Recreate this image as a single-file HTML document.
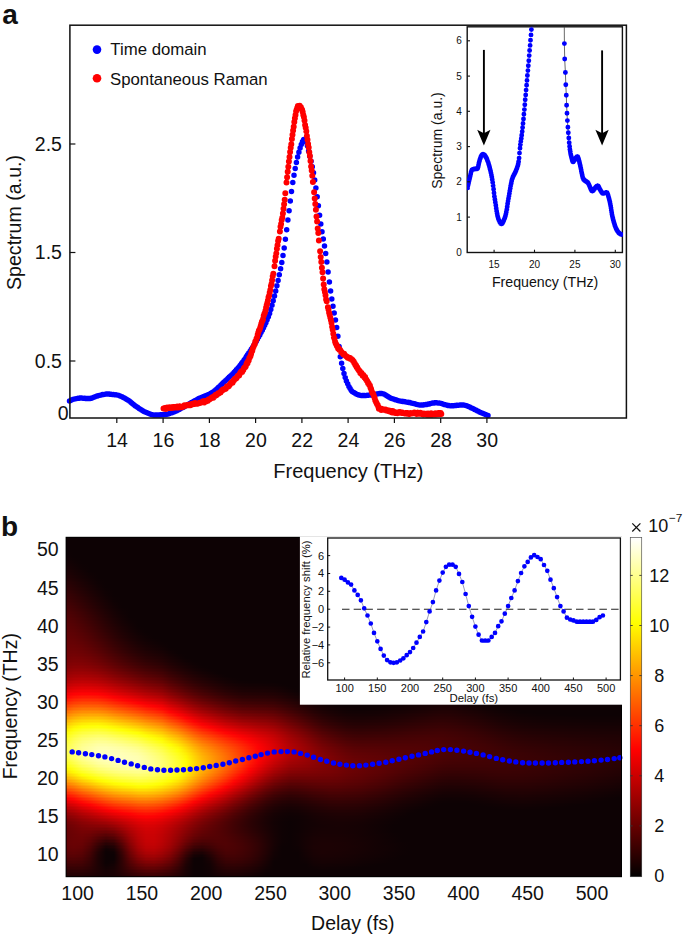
<!DOCTYPE html>
<html><head><meta charset="utf-8"><style>
html,body{margin:0;padding:0;background:#fff;}
#w{position:relative;width:685px;height:935px;overflow:hidden;background:#fff;}
#h{position:absolute;left:66.1px;top:537.3px;width:555.4px;height:339.4px;overflow:hidden;background:#0d0204;}
#h i{position:absolute;left:0;width:100%;display:block;}
#c i{position:absolute;display:block;}
svg{position:absolute;left:0;top:0;}
text{font-family:"Liberation Sans", sans-serif;fill:#111;}
</style></head><body><div id="w">
<div id="h"><i style="top:0px;height:2.1px;background:#0d0204"></i><i style="top:1.5px;height:2.1px;background:#0d0204"></i><i style="top:3px;height:2.1px;background:#0d0204"></i><i style="top:4.5px;height:2.1px;background:#0d0204"></i><i style="top:6px;height:2.1px;background:#0d0204"></i><i style="top:7.5px;height:2.1px;background:#0d0204"></i><i style="top:9px;height:2.1px;background:#0d0204"></i><i style="top:10.5px;height:2.1px;background:#0d0204"></i><i style="top:12px;height:2.1px;background:#0d0204"></i><i style="top:13.5px;height:2.1px;background:#0d0204"></i><i style="top:15px;height:2.1px;background:linear-gradient(90deg,#0e0204 0px,#0d0204 8px,#0d0204 555.4px)"></i><i style="top:16.5px;height:2.1px;background:linear-gradient(90deg,#0e0204 0px,#0d0204 8px,#0d0204 555.4px)"></i><i style="top:18px;height:2.1px;background:linear-gradient(90deg,#0f0204 0px,#0d0204 8px,#0d0204 555.4px)"></i><i style="top:19.5px;height:2.1px;background:linear-gradient(90deg,#110204 0px,#0d0204 8px,#0d0204 555.4px)"></i><i style="top:21px;height:2.1px;background:linear-gradient(90deg,#120204 0px,#0e0204 8px,#0d0204 16px,#0d0204 555.4px)"></i><i style="top:22.5px;height:2.1px;background:linear-gradient(90deg,#130204 0px,#0f0204 8px,#0d0204 16px,#0d0204 555.4px)"></i><i style="top:24px;height:2.1px;background:linear-gradient(90deg,#140204 0px,#100204 8px,#0d0204 16px,#0d0204 555.4px)"></i><i style="top:25.5px;height:2.1px;background:linear-gradient(90deg,#150204 0px,#110204 8px,#0d0204 16px,#0d0204 555.4px)"></i><i style="top:27px;height:2.1px;background:linear-gradient(90deg,#160204 0px,#120204 8px,#0e0204 16px,#0d0204 24px,#0d0204 555.4px)"></i><i style="top:28.5px;height:2.1px;background:linear-gradient(90deg,#180204 0px,#130204 8px,#0e0204 16px,#0d0204 24px,#0d0204 555.4px)"></i><i style="top:30px;height:2.1px;background:linear-gradient(90deg,#190204 0px,#140204 8px,#0f0204 16px,#0d0204 24px,#0d0204 555.4px)"></i><i style="top:31.5px;height:2.1px;background:linear-gradient(90deg,#1b0204 0px,#150204 8px,#100204 16px,#0d0204 24px,#0d0204 555.4px)"></i><i style="top:33px;height:2.1px;background:linear-gradient(90deg,#1c0204 0px,#170204 8px,#120204 16px,#0d0204 24px,#0d0204 555.4px)"></i><i style="top:34.5px;height:2.1px;background:linear-gradient(90deg,#1e0204 0px,#180204 8px,#130204 16px,#0e0204 24px,#0d0204 32px,#0d0204 555.4px)"></i><i style="top:36px;height:2.1px;background:linear-gradient(90deg,#1f0204 0px,#190204 8px,#140204 16px,#0f0204 24px,#0d0204 32px,#0d0204 555.4px)"></i><i style="top:37.5px;height:2.1px;background:linear-gradient(90deg,#210204 0px,#1b0204 8px,#150204 16px,#100204 24px,#0d0204 32px,#0d0204 555.4px)"></i><i style="top:39px;height:2.1px;background:linear-gradient(90deg,#220204 0px,#1c0204 8px,#160204 16px,#110204 24px,#0d0204 32px,#0d0204 555.4px)"></i><i style="top:40.5px;height:2.1px;background:linear-gradient(90deg,#240204 0px,#1e0204 8px,#170204 16px,#120204 24px,#0d0204 32px,#0d0204 555.4px)"></i><i style="top:42px;height:2.1px;background:linear-gradient(90deg,#260204 0px,#1f0204 8px,#190204 16px,#130204 24px,#0e0204 32px,#0d0204 40px,#0d0204 555.4px)"></i><i style="top:43.5px;height:2.1px;background:linear-gradient(90deg,#280204 0px,#210204 8px,#1a0204 16px,#140204 24px,#0f0204 32px,#0d0204 40px,#0d0204 555.4px)"></i><i style="top:45px;height:2.1px;background:linear-gradient(90deg,#290204 0px,#230204 8px,#1c0204 16px,#150204 24px,#0f0204 32px,#0d0204 40px,#0d0204 555.4px)"></i><i style="top:46.5px;height:2.1px;background:linear-gradient(90deg,#2b0204 0px,#240204 8px,#1d0204 16px,#160204 24px,#100204 32px,#0d0204 40px,#0d0204 555.4px)"></i><i style="top:48px;height:2.1px;background:linear-gradient(90deg,#2d0204 0px,#260204 8px,#1e0204 16px,#180204 24px,#110204 32px,#0d0204 40px,#0d0204 555.4px)"></i><i style="top:49.5px;height:2.1px;background:linear-gradient(90deg,#2f0204 0px,#280204 8px,#200204 16px,#190204 24px,#120204 32px,#0d0204 40px,#0d0204 555.4px)"></i><i style="top:51px;height:2.1px;background:linear-gradient(90deg,#310204 0px,#290204 8px,#220204 16px,#1a0204 24px,#130204 32px,#0e0204 40px,#0d0204 48px,#0d0204 555.4px)"></i><i style="top:52.5px;height:2.1px;background:linear-gradient(90deg,#330204 0px,#2b0204 8px,#230204 16px,#1b0204 24px,#150204 32px,#0f0204 40px,#0d0204 48px,#0d0204 555.4px)"></i><i style="top:54px;height:2.1px;background:linear-gradient(90deg,#350204 0px,#2d0204 8px,#250204 16px,#1d0204 24px,#160204 32px,#100204 40px,#0d0204 48px,#0d0204 555.4px)"></i><i style="top:55.5px;height:2.1px;background:linear-gradient(90deg,#370204 0px,#2f0204 8px,#260204 16px,#1e0204 24px,#170204 32px,#100204 40px,#0d0204 48px,#0d0204 555.4px)"></i><i style="top:57px;height:2.1px;background:linear-gradient(90deg,#390204 0px,#310204 8px,#280204 16px,#200204 24px,#180204 32px,#110204 40px,#0d0204 48px,#0d0204 555.4px)"></i><i style="top:58.5px;height:2.1px;background:linear-gradient(90deg,#3a0204 0px,#330204 8px,#2a0204 16px,#210204 24px,#190204 32px,#120204 40px,#0d0204 48px,#0d0204 555.4px)"></i><i style="top:60px;height:2.1px;background:linear-gradient(90deg,#3c0204 0px,#340204 8px,#2c0204 16px,#230204 24px,#1b0204 32px,#130204 40px,#0e0204 48px,#0d0204 56px,#0d0204 555.4px)"></i><i style="top:61.5px;height:2.1px;background:linear-gradient(90deg,#3e0204 0px,#360204 8px,#2d0204 16px,#240204 24px,#1c0204 32px,#140204 40px,#0e0204 48px,#0d0204 56px,#0d0204 555.4px)"></i><i style="top:63px;height:2.1px;background:linear-gradient(90deg,#400204 0px,#380204 8px,#2f0204 16px,#260204 24px,#1d0204 32px,#160204 40px,#0f0204 48px,#0d0204 56px,#0d0204 555.4px)"></i><i style="top:64.5px;height:2.1px;background:linear-gradient(90deg,#420204 0px,#3a0204 8px,#310204 16px,#270204 24px,#1f0204 32px,#170204 40px,#100204 48px,#0d0204 56px,#0d0204 555.4px)"></i><i style="top:66px;height:2.1px;background:linear-gradient(90deg,#440204 0px,#3c0204 8px,#330204 16px,#290204 24px,#200204 32px,#180204 40px,#110204 48px,#0d0204 56px,#0d0204 555.4px)"></i><i style="top:67.5px;height:2.1px;background:linear-gradient(90deg,#460204 0px,#3e0204 8px,#340204 16px,#2b0204 24px,#210204 32px,#190204 40px,#120204 48px,#0d0204 56px,#0d0204 555.4px)"></i><i style="top:69px;height:2.1px;background:linear-gradient(90deg,#480204 0px,#400204 8px,#360204 16px,#2c0204 24px,#230204 32px,#1a0204 40px,#130204 48px,#0d0204 56px,#0d0204 555.4px)"></i><i style="top:70.5px;height:2.1px;background:linear-gradient(90deg,#490204 0px,#420204 8px,#380204 16px,#2e0204 24px,#240204 32px,#1b0204 40px,#140204 48px,#0e0204 56px,#0d0204 64px,#0d0204 555.4px)"></i><i style="top:72px;height:2.1px;background:linear-gradient(90deg,#4b0204 0px,#430204 8px,#3a0204 16px,#300204 24px,#260204 32px,#1d0204 40px,#150204 48px,#0f0204 56px,#0d0204 64px,#0d0204 555.4px)"></i><i style="top:73.5px;height:2.1px;background:linear-gradient(90deg,#4d0204 0px,#450204 8px,#3c0204 16px,#310204 24px,#270204 32px,#1e0204 40px,#160204 48px,#100204 56px,#0d0204 64px,#0d0204 555.4px)"></i><i style="top:75px;height:2.1px;background:linear-gradient(90deg,#4e0204 0px,#470204 8px,#3e0204 16px,#330204 24px,#290204 32px,#1f0204 40px,#170204 48px,#100204 56px,#0d0204 64px,#0d0204 555.4px)"></i><i style="top:76.5px;height:2.1px;background:linear-gradient(90deg,#500204 0px,#490204 8px,#3f0204 16px,#350204 24px,#2a0204 32px,#210204 40px,#180204 48px,#110204 56px,#0d0204 64px,#0d0204 555.4px)"></i><i style="top:78px;height:2.1px;background:linear-gradient(90deg,#520204 0px,#4a0204 8px,#410204 16px,#370204 24px,#2c0204 32px,#220204 40px,#190204 48px,#120204 56px,#0d0204 64px,#0d0204 555.4px)"></i><i style="top:79.5px;height:2.1px;background:linear-gradient(90deg,#530204 0px,#4c0204 8px,#430204 16px,#380204 24px,#2e0204 32px,#230204 40px,#1a0204 48px,#130204 56px,#0d0204 64px,#0d0204 555.4px)"></i><i style="top:81px;height:2.1px;background:linear-gradient(90deg,#550204 0px,#4e0204 8px,#450204 16px,#3a0204 24px,#2f0204 32px,#250204 40px,#1c0204 48px,#140204 56px,#0e0204 64px,#0d0204 72px,#0d0204 555.4px)"></i><i style="top:82.5px;height:2.1px;background:linear-gradient(90deg,#560204 0px,#500204 8px,#460204 16px,#3c0204 24px,#310204 32px,#260204 40px,#1d0204 48px,#150204 56px,#0f0204 64px,#0d0204 72px,#0d0204 555.4px)"></i><i style="top:84px;height:2.1px;background:linear-gradient(90deg,#570204 0px,#510204 8px,#480204 16px,#3e0204 24px,#330204 32px,#280204 40px,#1e0204 48px,#160204 56px,#100204 64px,#0d0204 72px,#0d0204 555.4px)"></i><i style="top:85.5px;height:2.1px;background:linear-gradient(90deg,#590204 0px,#530204 8px,#4a0204 16px,#3f0204 24px,#340204 32px,#290204 40px,#1f0204 48px,#170204 56px,#110204 64px,#0d0204 72px,#0d0204 555.4px)"></i><i style="top:87px;height:2.1px;background:linear-gradient(90deg,#5a0204 0px,#540204 8px,#4c0204 16px,#410204 24px,#360204 32px,#2b0204 40px,#210204 48px,#180204 56px,#120204 64px,#0d0204 72px,#0d0204 555.4px)"></i><i style="top:88.5px;height:2.1px;background:linear-gradient(90deg,#5b0204 0px,#560204 8px,#4d0204 16px,#430204 24px,#380204 32px,#2c0204 40px,#220204 48px,#1a0204 56px,#130204 64px,#0d0204 72px,#0d0204 555.4px)"></i><i style="top:90px;height:2.1px;background:linear-gradient(90deg,#5c0204 0px,#570204 8px,#4f0204 16px,#450204 24px,#390204 32px,#2e0204 40px,#240204 48px,#1b0204 56px,#140204 64px,#0e0204 72px,#0d0204 80px,#0d0204 555.4px)"></i><i style="top:91.5px;height:2.1px;background:linear-gradient(90deg,#5d0204 0px,#590204 8px,#510204 16px,#460204 24px,#3b0204 32px,#300204 40px,#250204 48px,#1c0204 56px,#150204 64px,#0f0204 72px,#0d0204 80px,#0d0204 555.4px)"></i><i style="top:93px;height:2.1px;background:linear-gradient(90deg,#5e0204 0px,#5a0204 8px,#520204 16px,#480204 24px,#3d0204 32px,#310204 40px,#270204 48px,#1d0204 56px,#160204 64px,#100204 72px,#0d0204 80px,#0d0204 555.4px)"></i><i style="top:94.5px;height:2.1px;background:linear-gradient(90deg,#600204 0px,#5c0204 8px,#540204 16px,#4a0204 24px,#3f0204 32px,#330204 40px,#280204 48px,#1f0204 56px,#170204 64px,#110204 72px,#0d0204 80px,#0d0204 555.4px)"></i><i style="top:96px;height:2.1px;background:linear-gradient(90deg,#610204 0px,#5d0204 8px,#560204 16px,#4c0204 24px,#410204 32px,#350204 40px,#2a0204 48px,#200204 56px,#190204 64px,#120204 72px,#0e0204 80px,#0d0204 88px,#0d0204 555.4px)"></i><i style="top:97.5px;height:2.1px;background:linear-gradient(90deg,#620204 0px,#5e0204 8px,#570204 16px,#4e0204 24px,#420204 32px,#370204 40px,#2c0204 48px,#220204 56px,#1a0204 64px,#140204 72px,#0f0204 80px,#0d0204 88px,#0d0204 555.4px)"></i><i style="top:99px;height:2.1px;background:linear-gradient(90deg,#630204 0px,#600204 8px,#590204 16px,#500204 24px,#440204 32px,#390204 40px,#2d0204 48px,#230204 56px,#1b0204 64px,#150204 72px,#100204 80px,#0d0204 88px,#0d0204 555.4px)"></i><i style="top:100.5px;height:2.1px;background:linear-gradient(90deg,#640204 0px,#610204 8px,#5b0204 16px,#510204 24px,#460204 32px,#3b0204 40px,#2f0204 48px,#250204 56px,#1d0204 64px,#160204 72px,#110204 80px,#0d0204 88px,#0d0204 555.4px)"></i><i style="top:102px;height:2.1px;background:linear-gradient(90deg,#650204 0px,#630204 8px,#5c0204 16px,#530204 24px,#480204 32px,#3d0204 40px,#310204 48px,#270204 56px,#1e0204 64px,#170204 72px,#120204 80px,#0f0204 88px,#0d0204 96px,#0d0204 555.4px)"></i><i style="top:103.5px;height:2.1px;background:linear-gradient(90deg,#660204 0px,#640204 8px,#5e0204 16px,#550204 24px,#4a0204 32px,#3f0204 40px,#330204 48px,#290204 56px,#200204 64px,#190204 72px,#130204 80px,#100204 88px,#0d0204 96px,#0d0204 555.4px)"></i><i style="top:105px;height:2.1px;background:linear-gradient(90deg,#670204 0px,#650204 8px,#600204 16px,#570204 24px,#4d0204 32px,#410204 40px,#350204 48px,#2b0204 56px,#220204 64px,#1a0204 72px,#150204 80px,#110204 88px,#0e0204 96px,#0d0204 104px,#0d0204 555.4px)"></i><i style="top:106.5px;height:2.1px;background:linear-gradient(90deg,#680204 0px,#670204 8px,#620204 16px,#590204 24px,#4f0204 32px,#430204 40px,#370204 48px,#2d0204 56px,#240204 64px,#1c0204 72px,#160204 80px,#120204 88px,#0f0204 96px,#0d0204 104px,#0d0204 555.4px)"></i><i style="top:108px;height:2.1px;background:linear-gradient(90deg,#690204 0px,#690204 8px,#640204 16px,#5b0204 24px,#510204 32px,#450204 40px,#390204 48px,#2f0204 56px,#260204 64px,#1e0204 72px,#180204 80px,#140204 88px,#100204 96px,#0d0204 104px,#0d0204 555.4px)"></i><i style="top:109.5px;height:2.1px;background:linear-gradient(90deg,#6a0204 0px,#6a0204 8px,#660204 16px,#5e0204 24px,#530204 32px,#480204 40px,#3c0204 48px,#310204 56px,#280204 64px,#200204 72px,#1a0204 80px,#150204 88px,#120204 96px,#0d0204 104px,#0d0204 555.4px)"></i><i style="top:111px;height:2.1px;background:linear-gradient(90deg,#6b0204 0px,#6c0204 8px,#680204 16px,#600204 24px,#560204 32px,#4a0204 40px,#3e0204 48px,#330204 56px,#2a0204 64px,#220204 72px,#1b0204 80px,#170204 88px,#130204 96px,#0e0204 104px,#0d0204 112px,#0d0204 555.4px)"></i><i style="top:112.5px;height:2.1px;background:linear-gradient(90deg,#6c0204 0px,#6d0204 8px,#6a0204 16px,#620204 24px,#580204 32px,#4d0204 40px,#400204 48px,#360204 56px,#2c0204 64px,#240204 72px,#1d0204 80px,#190204 88px,#150204 96px,#0f0204 104px,#0d0204 112px,#0d0204 555.4px)"></i><i style="top:114px;height:2.1px;background:linear-gradient(90deg,#6e0204 0px,#6f0204 8px,#6c0204 16px,#650204 24px,#5b0204 32px,#4f0204 40px,#430204 48px,#380204 56px,#2e0204 64px,#260204 72px,#200204 80px,#1b0204 88px,#170204 96px,#110204 104px,#0d0204 112px,#0d0204 555.4px)"></i><i style="top:115.5px;height:2.1px;background:linear-gradient(90deg,#6f0204 0px,#710204 8px,#6e0204 16px,#670204 24px,#5e0204 32px,#520204 40px,#460204 48px,#3b0204 56px,#310204 64px,#290204 72px,#220204 80px,#1d0204 88px,#190204 96px,#120204 104px,#0d0204 112px,#0d0204 555.4px)"></i><i style="top:117px;height:2.1px;background:linear-gradient(90deg,#710204 0px,#730204 8px,#700204 16px,#6a0204 24px,#610204 32px,#550204 40px,#490204 48px,#3e0204 56px,#340204 64px,#2b0204 72px,#240204 80px,#1f0204 88px,#1b0204 96px,#140204 104px,#0f0204 112px,#0d0204 120px,#0d0204 555.4px)"></i><i style="top:118.5px;height:2.1px;background:linear-gradient(90deg,#720204 0px,#750204 8px,#730204 16px,#6d0204 24px,#640204 32px,#580204 40px,#4c0204 48px,#410204 56px,#370204 64px,#2e0204 72px,#270204 80px,#220204 88px,#1d0204 96px,#160204 104px,#100204 112px,#0d0204 120px,#0d0204 555.4px)"></i><i style="top:120px;height:2.1px;background:linear-gradient(90deg,#740204 0px,#780204 8px,#760204 16px,#700204 24px,#670204 32px,#5b0204 40px,#4f0204 48px,#440204 56px,#3a0204 64px,#310204 72px,#290204 80px,#240204 88px,#1f0204 96px,#180204 104px,#120204 112px,#0d0204 120px,#0d0204 555.4px)"></i><i style="top:121.5px;height:2.1px;background:linear-gradient(90deg,#760204 0px,#7a0204 8px,#790204 16px,#730204 24px,#6a0204 32px,#5f0204 40px,#520204 48px,#470204 56px,#3d0204 64px,#340204 72px,#2c0204 80px,#270204 88px,#220204 96px,#1a0204 104px,#140204 112px,#0f0204 120px,#0d0204 128px,#0d0204 555.4px)"></i><i style="top:123px;height:2.1px;background:linear-gradient(90deg,#790204 0px,#7d0204 8px,#7c0204 16px,#760204 24px,#6e0204 32px,#620204 40px,#560204 48px,#4b0204 56px,#400204 64px,#370204 72px,#2f0204 80px,#2a0204 88px,#240204 96px,#1c0204 104px,#160204 112px,#100204 120px,#0d0204 128px,#0d0204 555.4px)"></i><i style="top:124.5px;height:2.1px;background:linear-gradient(90deg,#7b0204 0px,#800204 8px,#7f0204 16px,#7a0204 24px,#710204 32px,#660204 40px,#5a0204 48px,#4e0204 56px,#440204 64px,#3b0204 72px,#330204 80px,#2d0204 88px,#270204 96px,#1e0204 104px,#180204 112px,#120204 120px,#0e0204 128px,#0d0204 136px,#0d0204 555.4px)"></i><i style="top:126px;height:2.1px;background:linear-gradient(90deg,#7e0204 0px,#830204 8px,#820204 16px,#7d0204 24px,#750204 32px,#6a0204 40px,#5e0204 48px,#520204 56px,#480204 64px,#3e0204 72px,#360204 80px,#300204 88px,#2a0204 96px,#210204 104px,#1a0204 112px,#140204 120px,#0f0204 128px,#0d0204 136px,#0d0204 555.4px)"></i><i style="top:127.5px;height:2.1px;background:linear-gradient(90deg,#810204 0px,#860204 8px,#860204 16px,#810204 24px,#7a0204 32px,#6e0204 40px,#620204 48px,#560204 56px,#4c0204 64px,#420204 72px,#3a0204 80px,#340204 88px,#2e0204 96px,#240204 104px,#1c0204 112px,#160204 120px,#110204 128px,#0d0204 136px,#0d0204 555.4px)"></i><i style="top:129px;height:2.1px;background:linear-gradient(90deg,#840204 0px,#8a0204 8px,#8a0204 16px,#850204 24px,#7e0204 32px,#730204 40px,#660204 48px,#5b0204 56px,#500204 64px,#460204 72px,#3e0204 80px,#380204 88px,#310204 96px,#270204 104px,#1f0204 112px,#180204 120px,#120204 128px,#0e0204 136px,#0d0204 144px,#0d0204 555.4px)"></i><i style="top:130.5px;height:2.1px;background:linear-gradient(90deg,#870204 0px,#8e0204 8px,#8e0204 16px,#8a0204 24px,#820204 32px,#770204 40px,#6b0204 48px,#5f0204 56px,#550204 64px,#4b0204 72px,#420204 80px,#3b0204 88px,#350204 96px,#2a0204 104px,#220204 112px,#1a0204 120px,#140204 128px,#100204 136px,#0d0204 144px,#0d0204 555.4px)"></i><i style="top:132px;height:2.1px;background:linear-gradient(90deg,#8b0204 0px,#920204 8px,#920204 16px,#8e0204 24px,#870204 32px,#7c0204 40px,#700204 48px,#640204 56px,#590204 64px,#4f0204 72px,#460204 80px,#400204 88px,#390204 96px,#2d0204 104px,#240204 112px,#1d0204 120px,#160204 128px,#110204 136px,#0e0204 144px,#0d0204 152px,#0d0204 555.4px)"></i><i style="top:133.5px;height:2.1px;background:linear-gradient(90deg,#8e0204 0px,#960204 8px,#970204 16px,#930204 24px,#8c0204 32px,#820204 40px,#750204 48px,#690204 56px,#5e0204 64px,#540204 72px,#4b0204 80px,#440204 88px,#3d0204 96px,#310204 104px,#280204 112px,#1f0204 120px,#190204 128px,#130204 136px,#0f0204 144px,#0d0204 152px,#0d0204 555.4px)"></i><i style="top:135px;height:2.1px;background:linear-gradient(90deg,#930204 0px,#9b0204 8px,#9c0204 16px,#990204 24px,#920204 32px,#870204 40px,#7a0204 48px,#6f0204 56px,#640204 64px,#590204 72px,#500204 80px,#490204 88px,#420204 96px,#350204 104px,#2b0204 112px,#220204 120px,#1b0204 128px,#150204 136px,#110204 144px,#0d0204 152px,#0d0204 555.4px)"></i><i style="top:136.5px;height:2.1px;background:linear-gradient(90deg,#970204 0px,#a00204 8px,#a10204 16px,#9e0204 24px,#980204 32px,#8d0204 40px,#800204 48px,#740204 56px,#690204 64px,#5f0204 72px,#550204 80px,#4e0204 88px,#460204 96px,#390204 104px,#2f0204 112px,#250204 120px,#1e0204 128px,#180204 136px,#130204 144px,#0f0204 152px,#0d0204 160px,#0d0204 555.4px)"></i><i style="top:138px;height:2.1px;background:linear-gradient(90deg,#9c0204 0px,#a50204 8px,#a70204 16px,#a40204 24px,#9e0204 32px,#930204 40px,#860204 48px,#7a0204 56px,#6f0204 64px,#640204 72px,#5a0204 80px,#530204 88px,#4b0204 96px,#3d0204 104px,#330204 112px,#290204 120px,#210204 128px,#1a0204 136px,#150204 144px,#110204 152px,#0d0204 160px,#0d0204 555.4px)"></i><i style="top:139.5px;height:2.1px;background:linear-gradient(90deg,#a10204 0px,#aa0204 8px,#ad0204 16px,#aa0204 24px,#a40204 32px,#990204 40px,#8c0204 48px,#800204 56px,#750204 64px,#6a0204 72px,#600204 80px,#590204 88px,#510204 96px,#420204 104px,#370204 112px,#2c0204 120px,#240204 128px,#1d0204 136px,#170204 144px,#130204 152px,#0f0204 160px,#0d0204 168px,#0d0204 555.4px)"></i><i style="top:141px;height:2.1px;background:linear-gradient(90deg,#a60204 0px,#b00204 8px,#b30204 16px,#b00204 24px,#ab0204 32px,#a00204 40px,#930204 48px,#870204 56px,#7c0204 64px,#700204 72px,#660204 80px,#5f0204 88px,#560204 96px,#470204 104px,#3b0204 112px,#300204 120px,#270204 128px,#200204 136px,#1a0204 144px,#150204 152px,#110204 160px,#0e0204 168px,#0d0204 176px,#0d0204 555.4px)"></i><i style="top:142.5px;height:2.1px;background:linear-gradient(90deg,#ac0204 0px,#b70204 8px,#b90204 16px,#b70204 24px,#b10204 32px,#a70204 40px,#9a0204 48px,#8e0204 56px,#820204 64px,#770204 72px,#6c0204 80px,#650204 88px,#5c0204 96px,#4c0204 104px,#400204 112px,#340204 120px,#2a0204 128px,#230204 136px,#1d0204 144px,#170204 152px,#130204 160px,#100204 168px,#0d0204 176px,#0d0204 555.4px)"></i><i style="top:144px;height:2.1px;background:linear-gradient(90deg,#b20204 0px,#bd0204 8px,#c00204 16px,#be0204 24px,#b90204 32px,#ae0204 40px,#a10204 48px,#950204 56px,#8a0204 64px,#7e0204 72px,#730204 80px,#6b0204 88px,#620204 96px,#520204 104px,#450204 112px,#390204 120px,#2e0204 128px,#260204 136px,#200204 144px,#1a0204 152px,#150204 160px,#110204 168px,#0f0204 176px,#0e0204 184px,#0e0204 200px,#0d0204 208px,#0d0204 555.4px)"></i><i style="top:145.5px;height:2.1px;background:linear-gradient(90deg,#b90204 0px,#c40204 8px,#c80204 16px,#c60204 24px,#c00204 32px,#b60204 40px,#a90204 48px,#9d0204 56px,#910204 64px,#850204 72px,#7a0204 80px,#720204 88px,#690204 96px,#580204 104px,#4a0204 112px,#3d0204 120px,#320204 128px,#2a0204 136px,#230204 144px,#1d0204 152px,#170204 160px,#140204 168px,#110204 176px,#100204 184px,#100204 192px,#0f0204 200px,#0f0204 208px,#0d0204 216px,#0d0204 555.4px)"></i><i style="top:147px;height:2.1px;background:linear-gradient(90deg,#c00204 0px,#cb0204 8px,#cf0204 16px,#cd0204 24px,#c80204 32px,#be0204 40px,#b10204 48px,#a40204 56px,#990204 64px,#8d0204 72px,#810204 80px,#790204 88px,#700204 96px,#5e0204 104px,#500204 112px,#420204 120px,#370204 128px,#2d0204 136px,#260204 144px,#200204 152px,#1a0204 160px,#160204 168px,#130204 176px,#120204 184px,#120204 192px,#110204 200px,#100204 208px,#0e0204 216px,#0d0204 224px,#0d0204 555.4px)"></i><i style="top:148.5px;height:2.1px;background:linear-gradient(90deg,#c70204 0px,#d30204 8px,#d70204 16px,#d60204 24px,#d10204 32px,#c60204 40px,#b90204 48px,#ad0204 56px,#a10204 64px,#950204 72px,#890204 80px,#800204 88px,#770204 96px,#640204 104px,#560204 112px,#480204 120px,#3b0204 128px,#310204 136px,#2a0204 144px,#230204 152px,#1d0204 160px,#190204 168px,#150204 176px,#140204 184px,#140204 200px,#120204 208px,#100204 216px,#0d0204 224px,#0d0204 555.4px)"></i><i style="top:150px;height:2.1px;background:linear-gradient(90deg,#ce0204 0px,#db0204 8px,#df0204 16px,#de0204 24px,#d90204 32px,#cf0204 40px,#c20204 48px,#b50204 56px,#a90204 64px,#9d0204 72px,#910204 80px,#880204 88px,#7e0204 96px,#6b0204 104px,#5c0204 112px,#4d0204 120px,#400204 128px,#360204 136px,#2e0204 144px,#260204 152px,#200204 160px,#1b0204 168px,#180204 176px,#170204 184px,#160204 192px,#160204 200px,#150204 208px,#120204 216px,#0e0204 224px,#0d0204 232px,#0d0204 555.4px)"></i><i style="top:151.5px;height:2.1px;background:linear-gradient(90deg,#d60204 0px,#e30204 8px,#e80204 16px,#e70204 24px,#e20204 32px,#d80204 40px,#ca0204 48px,#be0204 56px,#b20204 64px,#a50204 72px,#990204 80px,#900204 88px,#860204 96px,#720204 104px,#630204 112px,#530204 120px,#460204 128px,#3b0204 136px,#320204 144px,#2a0204 152px,#230204 160px,#1e0204 168px,#1a0204 176px,#1a0204 184px,#190204 192px,#190204 200px,#170204 208px,#140204 216px,#100204 224px,#0d0204 232px,#0d0204 555.4px)"></i><i style="top:153px;height:2.1px;background:linear-gradient(90deg,#de0204 0px,#ec0204 8px,#f10204 16px,#f00204 24px,#ec0204 32px,#e10204 40px,#d40204 48px,#c70204 56px,#bb0204 64px,#ae0204 72px,#a20204 80px,#980204 88px,#8e0204 96px,#7a0204 104px,#690204 112px,#590204 120px,#4b0204 128px,#400204 136px,#370204 144px,#2e0204 152px,#270204 160px,#220204 168px,#1d0204 176px,#1c0204 184px,#1c0204 192px,#1b0204 200px,#1a0204 208px,#160204 216px,#120204 224px,#0e0204 232px,#0d0204 240px,#0d0204 555.4px)"></i><i style="top:154.5px;height:2.1px;background:linear-gradient(90deg,#e70204 0px,#f50204 8px,#fa0204 16px,#fa0204 24px,#f50204 32px,#eb0204 40px,#dd0204 48px,#d10204 56px,#c40204 64px,#b70204 72px,#ab0204 80px,#a10204 88px,#960204 96px,#820204 104px,#710204 112px,#600204 120px,#510204 128px,#450204 136px,#3b0204 144px,#330204 152px,#2b0204 160px,#250204 168px,#210204 176px,#200204 184px,#1f0204 192px,#1e0204 200px,#1d0204 208px,#190204 216px,#140204 224px,#100204 232px,#0d0204 240px,#0d0204 555.4px)"></i><i style="top:156px;height:2.1px;background:linear-gradient(90deg,#f00204 0px,#fe0204 8px,#ff0504 16px,#ff0404 24px,#ff0204 32px,#f50204 40px,#e70204 48px,#da0204 56px,#ce0204 64px,#c10204 72px,#b40204 80px,#aa0204 88px,#9f0204 96px,#8a0204 104px,#780204 112px,#670204 120px,#570204 128px,#4a0204 136px,#410204 144px,#370204 152px,#2f0204 160px,#290204 168px,#240204 176px,#230204 184px,#220204 192px,#220204 200px,#200204 208px,#1c0204 216px,#170204 224px,#120204 232px,#0e0204 240px,#0d0204 248px,#0d0204 555.4px)"></i><i style="top:157.5px;height:2.1px;background:linear-gradient(90deg,#f90204 0px,#ff0904 8px,#ff0f04 16px,#ff0f04 24px,#ff0b04 32px,#ff0204 40px,#f20204 48px,#e50204 56px,#d80204 64px,#cb0204 72px,#bd0204 80px,#b30204 88px,#a80204 96px,#920204 104px,#800204 112px,#6e0204 120px,#5e0204 128px,#500204 136px,#460204 144px,#3c0204 152px,#340204 160px,#2e0204 168px,#280204 176px,#270204 184px,#260204 192px,#250204 200px,#230204 208px,#1f0204 216px,#190204 224px,#140204 232px,#100204 240px,#0d0204 248px,#0d0204 368px,#0e0204 376px,#0e0204 384px,#0d0204 392px,#0d0204 555.4px)"></i><i style="top:159px;height:2.1px;background:linear-gradient(90deg,#ff0304 0px,#ff1304 8px,#ff1904 16px,#ff1904 24px,#ff1504 32px,#ff0b04 40px,#fc0204 48px,#ef0204 56px,#e30204 64px,#d50204 72px,#c70204 80px,#bd0204 88px,#b10204 96px,#9b0204 104px,#880204 112px,#750204 120px,#650204 128px,#570204 136px,#4c0204 144px,#420204 152px,#390204 160px,#320204 168px,#2c0204 176px,#2b0204 184px,#2a0204 192px,#290204 200px,#270204 208px,#220204 216px,#1c0204 224px,#170204 232px,#120204 240px,#0e0204 248px,#0d0204 256px,#0d0204 360px,#0f0204 368px,#100204 376px,#100204 384px,#0f0204 392px,#0d0204 400px,#0d0204 555.4px)"></i><i style="top:160.5px;height:2.1px;background:linear-gradient(90deg,#ff0d04 0px,#ff1d04 8px,#ff2404 16px,#ff2404 24px,#ff2004 32px,#ff1604 40px,#ff0804 48px,#fa0204 56px,#ed0204 64px,#e00204 72px,#d10204 80px,#c70204 88px,#bb0204 96px,#a40204 104px,#910204 112px,#7d0204 120px,#6c0204 128px,#5d0204 136px,#520204 144px,#470204 152px,#3e0204 160px,#370204 168px,#310204 176px,#2f0204 184px,#2e0204 192px,#2d0204 200px,#2b0204 208px,#250204 216px,#1f0204 224px,#190204 232px,#140204 240px,#0f0204 248px,#0d0204 256px,#0d0204 352px,#0e0204 360px,#100204 368px,#110204 376px,#110204 384px,#100204 392px,#0e0204 400px,#0d0204 408px,#0d0204 555.4px)"></i><i style="top:162px;height:2.1px;background:linear-gradient(90deg,#ff1704 0px,#ff2804 8px,#ff2f04 16px,#ff2f04 24px,#ff2c04 32px,#ff2104 40px,#ff1304 48px,#ff0604 56px,#f80204 64px,#ea0204 72px,#dc0204 80px,#d10204 88px,#c50204 96px,#ad0204 104px,#9a0204 112px,#860204 120px,#730204 128px,#640204 136px,#580204 144px,#4d0204 152px,#430204 160px,#3c0204 168px,#360204 176px,#340204 184px,#330204 192px,#320204 200px,#2f0204 208px,#290204 216px,#230204 224px,#1c0204 232px,#160204 240px,#110204 248px,#0d0204 256px,#0d0204 344px,#0e0204 352px,#100204 360px,#110204 368px,#130204 376px,#130204 384px,#110204 392px,#100204 400px,#0e0204 408px,#0d0204 416px,#0d0204 555.4px)"></i><i style="top:163.5px;height:2.1px;background:linear-gradient(90deg,#ff2104 0px,#ff3204 8px,#ff3a04 16px,#ff3a04 24px,#ff3704 32px,#ff2d04 40px,#ff1f04 48px,#ff1104 56px,#ff0504 64px,#f60204 72px,#e70204 80px,#dc0204 88px,#cf0204 96px,#b70204 104px,#a30204 112px,#8e0204 120px,#7b0204 128px,#6b0204 136px,#5f0204 144px,#540204 152px,#490204 160px,#420204 168px,#3b0204 176px,#390204 184px,#370204 192px,#360204 200px,#330204 208px,#2d0204 216px,#260204 224px,#1f0204 232px,#190204 240px,#130204 248px,#0f0204 256px,#0d0204 264px,#0d0204 336px,#0e0204 344px,#100204 352px,#110204 360px,#130204 368px,#140204 376px,#140204 384px,#130204 392px,#110204 400px,#0f0204 408px,#0d0204 416px,#0d0204 555.4px)"></i><i style="top:165px;height:2.1px;background:linear-gradient(90deg,#ff2c04 0px,#ff3d04 8px,#ff4504 16px,#ff4604 24px,#ff4304 32px,#ff3904 40px,#ff2a04 48px,#ff1d04 56px,#ff1004 64px,#ff0204 72px,#f20204 80px,#e70204 88px,#da0204 96px,#c10204 104px,#ad0204 112px,#970204 120px,#830204 128px,#730204 136px,#660204 144px,#5a0204 152px,#500204 160px,#470204 168px,#400204 176px,#3e0204 184px,#3c0204 192px,#3b0204 200px,#380204 208px,#310204 216px,#2a0204 224px,#220204 232px,#1b0204 240px,#150204 248px,#110204 256px,#0e0204 264px,#0d0204 272px,#0d0204 328px,#0e0204 336px,#100204 344px,#110204 352px,#130204 360px,#150204 368px,#160204 376px,#160204 384px,#140204 392px,#130204 400px,#110204 408px,#0f0204 416px,#0d0204 424px,#0d0204 555.4px)"></i><i style="top:166.5px;height:2.1px;background:linear-gradient(90deg,#ff3604 0px,#ff4904 8px,#ff5104 16px,#ff5104 24px,#ff4f04 32px,#ff4504 40px,#ff3604 48px,#ff2904 56px,#ff1c04 64px,#ff0e04 72px,#fd0204 80px,#f20204 88px,#e50204 96px,#cb0204 104px,#b70204 112px,#a00204 120px,#8c0204 128px,#7b0204 136px,#6e0204 144px,#610204 152px,#560204 160px,#4e0204 168px,#460204 176px,#440204 184px,#420204 192px,#410204 200px,#3d0204 208px,#360204 216px,#2e0204 224px,#260204 232px,#1e0204 240px,#180204 248px,#130204 256px,#0f0204 264px,#0d0204 272px,#0d0204 320px,#0e0204 328px,#100204 336px,#110204 344px,#130204 352px,#150204 360px,#170204 368px,#180204 376px,#180204 384px,#160204 392px,#140204 400px,#120204 408px,#100204 416px,#0e0204 424px,#0d0204 432px,#0d0204 555.4px)"></i><i style="top:168px;height:2.1px;background:linear-gradient(90deg,#ff4104 0px,#ff5404 8px,#ff5d04 16px,#ff5d04 24px,#ff5b04 32px,#ff5104 40px,#ff4304 48px,#ff3504 56px,#ff2804 64px,#ff1a04 72px,#ff0a04 80px,#fd0204 88px,#f00204 96px,#d60204 104px,#c10204 112px,#aa0204 120px,#950204 128px,#830204 136px,#760204 144px,#690204 152px,#5d0204 160px,#540204 168px,#4c0204 176px,#4a0204 184px,#480204 192px,#460204 200px,#420204 208px,#3b0204 216px,#320204 224px,#290204 232px,#210204 240px,#1a0204 248px,#150204 256px,#110204 264px,#0e0204 272px,#0d0204 280px,#0d0204 312px,#0e0204 320px,#100204 328px,#110204 336px,#130204 344px,#150204 352px,#160204 360px,#180204 368px,#1a0204 376px,#1a0204 384px,#180204 392px,#160204 400px,#140204 408px,#110204 416px,#0f0204 424px,#0d0204 432px,#0d0204 555.4px)"></i><i style="top:169.5px;height:2.1px;background:linear-gradient(90deg,#ff4c04 0px,#ff6004 8px,#ff6804 16px,#ff6a04 24px,#ff6804 32px,#ff5d04 40px,#ff4f04 48px,#ff4204 56px,#ff3404 64px,#ff2604 72px,#ff1604 80px,#ff0a04 88px,#fb0204 96px,#e10204 104px,#cb0204 112px,#b40204 120px,#9e0204 128px,#8c0204 136px,#7e0204 144px,#700204 152px,#640204 160px,#5b0204 168px,#530204 176px,#500204 184px,#4e0204 192px,#4c0204 200px,#480204 208px,#3f0204 216px,#360204 224px,#2d0204 232px,#250204 240px,#1d0204 248px,#170204 256px,#130204 264px,#100204 272px,#0e0204 280px,#0d0204 288px,#0d0204 296px,#0e0204 304px,#0f0204 312px,#100204 320px,#110204 328px,#130204 336px,#150204 344px,#160204 352px,#180204 360px,#1a0204 368px,#1c0204 376px,#1b0204 384px,#1a0204 392px,#180204 400px,#150204 408px,#130204 416px,#100204 424px,#0e0204 432px,#0d0204 440px,#0d0204 555.4px)"></i><i style="top:171px;height:2.1px;background:linear-gradient(90deg,#ff5704 0px,#ff6b04 8px,#ff7504 16px,#ff7604 24px,#ff7404 32px,#ff6a04 40px,#ff5c04 48px,#ff4e04 56px,#ff4104 64px,#ff3204 72px,#ff2204 80px,#ff1604 88px,#ff0704 96px,#ec0204 104px,#d60204 112px,#be0204 120px,#a70204 128px,#940204 136px,#860204 144px,#780204 152px,#6c0204 160px,#620204 168px,#5a0204 176px,#570204 184px,#540204 192px,#520204 200px,#4e0204 208px,#450204 216px,#3b0204 224px,#310204 232px,#280204 240px,#200204 248px,#190204 256px,#150204 264px,#120204 272px,#100204 280px,#0f0204 288px,#0e0204 296px,#0f0204 304px,#100204 312px,#110204 320px,#130204 328px,#150204 336px,#160204 344px,#180204 352px,#1a0204 360px,#1c0204 368px,#1e0204 376px,#1d0204 384px,#1c0204 392px,#1a0204 400px,#170204 408px,#150204 416px,#120204 424px,#0f0204 432px,#0e0204 440px,#0d0204 448px,#0d0204 555.4px)"></i><i style="top:172.5px;height:2.1px;background:linear-gradient(90deg,#ff6304 0px,#ff7704 8px,#ff8104 16px,#ff8204 24px,#ff8104 32px,#ff7704 40px,#ff6904 48px,#ff5b04 56px,#ff4d04 64px,#ff3f04 72px,#ff2e04 80px,#ff2204 88px,#ff1304 96px,#f70204 104px,#e10204 112px,#c80204 120px,#b10204 128px,#9e0204 136px,#8f0204 144px,#810204 152px,#740204 160px,#6a0204 168px,#610204 176px,#5e0204 184px,#5b0204 192px,#580204 200px,#540204 208px,#4a0204 216px,#400204 224px,#360204 232px,#2c0204 240px,#230204 248px,#1c0204 256px,#170204 264px,#140204 272px,#110204 280px,#100204 288px,#100204 296px,#110204 304px,#120204 312px,#130204 320px,#150204 328px,#160204 336px,#180204 344px,#1a0204 352px,#1c0204 360px,#1e0204 368px,#200204 376px,#200204 384px,#1e0204 392px,#1b0204 400px,#190204 408px,#160204 416px,#130204 424px,#110204 432px,#0f0204 440px,#0d0204 448px,#0d0204 555.4px)"></i><i style="top:174px;height:2.1px;background:linear-gradient(90deg,#ff6e04 0px,#ff8304 8px,#ff8d04 16px,#ff8f04 24px,#ff8d04 32px,#ff8404 40px,#ff7504 48px,#ff6804 56px,#ff5a04 64px,#ff4c04 72px,#ff3b04 80px,#ff2e04 88px,#ff1f04 96px,#ff0404 104px,#ec0204 112px,#d30204 120px,#bb0204 128px,#a70204 136px,#980204 144px,#890204 152px,#7c0204 160px,#720204 168px,#680204 176px,#650204 184px,#610204 192px,#5f0204 200px,#5a0204 208px,#500204 216px,#450204 224px,#3a0204 232px,#300204 240px,#260204 248px,#1f0204 256px,#1a0204 264px,#160204 272px,#130204 280px,#120204 288px,#120204 296px,#130204 304px,#140204 312px,#150204 320px,#170204 328px,#180204 336px,#1a0204 344px,#1c0204 352px,#1e0204 360px,#210204 368px,#220204 376px,#220204 384px,#200204 392px,#1d0204 400px,#1b0204 408px,#180204 416px,#150204 424px,#120204 432px,#100204 440px,#0f0204 448px,#0d0204 456px,#0d0204 555.4px)"></i><i style="top:175.5px;height:2.1px;background:linear-gradient(90deg,#ff7904 0px,#ff8e04 8px,#ff9904 16px,#ff9b04 24px,#ff9a04 32px,#ff9104 40px,#ff8204 48px,#ff7504 56px,#ff6704 64px,#ff5804 72px,#ff4704 80px,#ff3a04 88px,#ff2b04 96px,#ff1004 104px,#f80204 112px,#de0204 120px,#c50204 128px,#b10204 136px,#a10204 144px,#920204 152px,#850204 160px,#7a0204 168px,#700204 176px,#6c0204 184px,#690204 192px,#660204 200px,#600204 208px,#560204 216px,#4a0204 224px,#3f0204 232px,#340204 240px,#2a0204 248px,#210204 256px,#1c0204 264px,#180204 272px,#150204 280px,#140204 288px,#140204 304px,#150204 312px,#170204 320px,#190204 328px,#1a0204 336px,#1d0204 344px,#1f0204 352px,#210204 360px,#230204 368px,#240204 376px,#240204 384px,#220204 392px,#1f0204 400px,#1d0204 408px,#1a0204 416px,#170204 424px,#140204 432px,#120204 440px,#100204 448px,#0e0204 456px,#0e0204 464px,#0d0204 472px,#0d0204 555.4px)"></i><i style="top:177px;height:2.1px;background:linear-gradient(90deg,#ff8404 0px,#ff9a04 8px,#ffa504 16px,#ffa804 24px,#ffa704 32px,#ff9e04 40px,#ff8f04 48px,#ff8204 56px,#ff7404 64px,#ff6504 72px,#ff5404 80px,#ff4704 88px,#ff3704 96px,#ff1c04 104px,#ff0404 112px,#e90204 120px,#d00204 128px,#bb0204 136px,#ab0204 144px,#9b0204 152px,#8d0204 160px,#830204 168px,#780204 176px,#740204 184px,#700204 192px,#6d0204 200px,#670204 208px,#5c0204 216px,#500204 224px,#440204 232px,#380204 240px,#2e0204 248px,#250204 256px,#1f0204 264px,#1a0204 272px,#170204 280px,#160204 288px,#160204 304px,#170204 312px,#190204 320px,#1b0204 328px,#1d0204 336px,#1f0204 344px,#210204 352px,#230204 360px,#250204 368px,#270204 376px,#260204 384px,#240204 392px,#210204 400px,#1f0204 408px,#1c0204 416px,#180204 424px,#150204 432px,#130204 440px,#110204 448px,#100204 456px,#0f0204 464px,#0e0204 472px,#0e0204 488px,#0d0204 496px,#0d0204 555.4px)"></i><i style="top:178.5px;height:2.1px;background:linear-gradient(90deg,#ff9004 0px,#ffa604 8px,#ffb204 16px,#ffb404 24px,#ffb404 32px,#ffab04 40px,#ff9d04 48px,#ff8f04 56px,#ff8104 64px,#ff7304 72px,#ff6104 80px,#ff5304 88px,#ff4404 96px,#ff2804 104px,#ff1004 112px,#f40204 120px,#db0204 128px,#c50204 136px,#b50204 144px,#a50204 152px,#960204 160px,#8b0204 168px,#810204 176px,#7c0204 184px,#770204 192px,#740204 200px,#6e0204 208px,#620204 216px,#550204 224px,#490204 232px,#3d0204 240px,#310204 248px,#280204 256px,#220204 264px,#1d0204 272px,#1a0204 280px,#180204 288px,#180204 296px,#190204 304px,#1a0204 312px,#1b0204 320px,#1d0204 328px,#1f0204 336px,#210204 344px,#230204 352px,#250204 360px,#280204 368px,#290204 376px,#280204 384px,#260204 392px,#240204 400px,#210204 408px,#1e0204 416px,#1a0204 424px,#170204 432px,#150204 440px,#130204 448px,#110204 456px,#100204 464px,#100204 472px,#0f0204 480px,#0f0204 496px,#0e0204 504px,#0e0204 555.4px)"></i><i style="top:180px;height:2.1px;background:linear-gradient(90deg,#ff9b04 0px,#ffb104 8px,#ffbe04 16px,#ffc104 24px,#ffc104 32px,#ffb804 40px,#ffaa04 48px,#ff9c04 56px,#ff8f04 64px,#ff8004 72px,#ff6e04 80px,#ff6004 88px,#ff5004 96px,#ff3404 104px,#ff1c04 112px,#ff0204 120px,#e60204 128px,#cf0204 136px,#bf0204 144px,#ae0204 152px,#a00204 160px,#940204 168px,#890204 176px,#840204 184px,#7f0204 192px,#7b0204 200px,#740204 208px,#680204 216px,#5b0204 224px,#4e0204 232px,#410204 240px,#350204 248px,#2b0204 256px,#250204 264px,#200204 272px,#1c0204 280px,#1a0204 288px,#1a0204 296px,#1b0204 304px,#1c0204 312px,#1d0204 320px,#1f0204 328px,#210204 336px,#230204 344px,#260204 352px,#280204 360px,#2a0204 368px,#2b0204 376px,#2b0204 384px,#280204 392px,#260204 400px,#230204 408px,#1f0204 416px,#1c0204 424px,#190204 432px,#160204 440px,#140204 448px,#130204 456px,#120204 464px,#110204 472px,#100204 480px,#100204 504px,#0f0204 512px,#0f0204 555.4px)"></i><i style="top:181.5px;height:2.1px;background:linear-gradient(90deg,#ffa604 0px,#ffbd04 8px,#ffca04 16px,#ffcd04 24px,#ffcd04 32px,#ffc404 40px,#ffb704 48px,#ffa904 56px,#ff9c04 64px,#ff8d04 72px,#ff7b04 80px,#ff6c04 88px,#ff5d04 96px,#ff4004 104px,#ff2804 112px,#ff0c04 120px,#f10204 128px,#da0204 136px,#c90204 144px,#b80204 152px,#a90204 160px,#9e0204 168px,#920204 176px,#8d0204 184px,#870204 192px,#830204 200px,#7b0204 208px,#6e0204 216px,#600204 224px,#530204 232px,#460204 240px,#390204 248px,#2f0204 256px,#280204 264px,#220204 272px,#1f0204 280px,#1c0204 288px,#1c0204 296px,#1d0204 304px,#1e0204 312px,#200204 320px,#220204 328px,#240204 336px,#260204 344px,#280204 352px,#2a0204 360px,#2c0204 368px,#2e0204 376px,#2d0204 384px,#2b0204 392px,#280204 400px,#250204 408px,#220204 416px,#1e0204 424px,#1a0204 432px,#180204 440px,#160204 448px,#140204 456px,#130204 464px,#120204 472px,#120204 480px,#110204 488px,#110204 512px,#100204 520px,#100204 555.4px)"></i><i style="top:183px;height:2.1px;background:linear-gradient(90deg,#ffb104 0px,#ffc804 8px,#ffd504 16px,#ffd904 24px,#ffda04 32px,#ffd104 40px,#ffc404 48px,#ffb604 56px,#ffa904 64px,#ff9a04 72px,#ff8804 80px,#ff7904 88px,#ff6904 96px,#ff4d04 104px,#ff3504 112px,#ff1804 120px,#fc0204 128px,#e50204 136px,#d40204 144px,#c30204 152px,#b30204 160px,#a70204 168px,#9b0204 176px,#950204 184px,#8f0204 192px,#8a0204 200px,#820204 208px,#750204 216px,#660204 224px,#590204 232px,#4b0204 240px,#3e0204 248px,#330204 256px,#2b0204 264px,#250204 272px,#210204 280px,#1f0204 288px,#1f0204 296px,#200204 304px,#210204 312px,#220204 320px,#240204 328px,#260204 336px,#280204 344px,#2b0204 352px,#2d0204 360px,#2f0204 368px,#300204 376px,#2f0204 384px,#2d0204 392px,#2a0204 400px,#270204 408px,#240204 416px,#200204 424px,#1c0204 432px,#1a0204 440px,#170204 448px,#160204 456px,#150204 464px,#140204 472px,#130204 480px,#130204 496px,#120204 504px,#120204 520px,#110204 528px,#110204 544px,#120204 552px,#120204 555.4px)"></i><i style="top:184.5px;height:2.1px;background:linear-gradient(90deg,#ffbb04 0px,#ffd304 8px,#ffe104 16px,#ffe504 24px,#ffe604 32px,#ffde04 40px,#ffd004 48px,#ffc304 56px,#ffb604 64px,#ffa704 72px,#ff9504 80px,#ff8604 88px,#ff7604 96px,#ff5904 104px,#ff4104 112px,#ff2404 120px,#ff0804 128px,#ef0204 136px,#de0204 144px,#cd0204 152px,#bd0204 160px,#b10204 168px,#a50204 176px,#9e0204 184px,#970204 192px,#920204 200px,#890204 208px,#7b0204 216px,#6c0204 224px,#5e0204 232px,#500204 240px,#420204 248px,#360204 256px,#2f0204 264px,#290204 272px,#240204 280px,#220204 288px,#210204 296px,#220204 304px,#230204 312px,#250204 320px,#270204 328px,#290204 336px,#2b0204 344px,#2d0204 352px,#2f0204 360px,#310204 368px,#330204 376px,#310204 384px,#2f0204 392px,#2c0204 400px,#290204 408px,#260204 416px,#220204 424px,#1e0204 432px,#1b0204 440px,#190204 448px,#170204 456px,#160204 464px,#150204 472px,#150204 480px,#140204 488px,#140204 504px,#130204 512px,#130204 555.4px)"></i><i style="top:186px;height:2.1px;background:linear-gradient(90deg,#ffc604 0px,#ffde04 8px,#ffec04 16px,#fff104 24px,#fff204 32px,#ffea04 40px,#ffdd04 48px,#ffd004 56px,#ffc304 64px,#ffb404 72px,#ffa204 80px,#ff9304 88px,#ff8204 96px,#ff6604 104px,#ff4d04 112px,#ff3004 120px,#ff1404 128px,#fa0204 136px,#e90204 144px,#d70204 152px,#c70204 160px,#bb0204 168px,#ae0204 176px,#a70204 184px,#9f0204 192px,#990204 200px,#900204 208px,#820204 216px,#720204 224px,#640204 232px,#550204 240px,#470204 248px,#3a0204 256px,#320204 264px,#2c0204 272px,#270204 280px,#240204 288px,#240204 296px,#250204 304px,#260204 312px,#270204 320px,#290204 328px,#2b0204 336px,#2e0204 344px,#300204 352px,#320204 360px,#340204 368px,#350204 376px,#340204 384px,#310204 392px,#2e0204 400px,#2b0204 408px,#280204 416px,#240204 424px,#200204 432px,#1d0204 440px,#1b0204 448px,#190204 456px,#180204 464px,#170204 472px,#160204 480px,#160204 488px,#150204 496px,#150204 512px,#140204 520px,#140204 555.4px)"></i><i style="top:187.5px;height:2.1px;background:linear-gradient(90deg,#ffd004 0px,#ffe904 8px,#fff804 16px,#fffc04 24px,#fffe04 32px,#fff604 40px,#ffea04 48px,#ffdd04 56px,#ffd004 64px,#ffc104 72px,#ffaf04 80px,#ff9f04 88px,#ff8e04 96px,#ff7204 104px,#ff5a04 112px,#ff3c04 120px,#ff1f04 128px,#ff0604 136px,#f40204 144px,#e20204 152px,#d10204 160px,#c40204 168px,#b70204 176px,#af0204 184px,#a70204 192px,#a10204 200px,#970204 208px,#880204 216px,#780204 224px,#690204 232px,#5a0204 240px,#4b0204 248px,#3e0204 256px,#360204 264px,#2f0204 272px,#2a0204 280px,#270204 288px,#270204 296px,#280204 304px,#290204 312px,#2a0204 320px,#2c0204 328px,#2e0204 336px,#300204 344px,#320204 352px,#340204 360px,#360204 368px,#370204 376px,#360204 384px,#340204 392px,#310204 400px,#2d0204 408px,#2a0204 416px,#260204 424px,#220204 432px,#1f0204 440px,#1d0204 448px,#1b0204 456px,#190204 464px,#190204 472px,#180204 480px,#170204 488px,#170204 496px,#160204 504px,#160204 528px,#150204 536px,#150204 555.4px)"></i><i style="top:189px;height:2.1px;background:linear-gradient(90deg,#ffda04 0px,#fff304 8px,#ffff05 16px,#ffff0c 24px,#ffff10 32px,#ffff05 40px,#fff604 48px,#ffe904 56px,#ffdc04 64px,#ffce04 72px,#ffbb04 80px,#ffac04 88px,#ff9b04 96px,#ff7e04 104px,#ff6604 112px,#ff4804 120px,#ff2b04 128px,#ff1104 136px,#fe0204 144px,#ec0204 152px,#db0204 160px,#ce0204 168px,#c10204 176px,#b80204 184px,#af0204 192px,#a80204 200px,#9e0204 208px,#8e0204 216px,#7e0204 224px,#6f0204 232px,#5f0204 240px,#500204 248px,#430204 256px,#3a0204 264px,#330204 272px,#2d0204 280px,#2a0204 288px,#2a0204 296px,#2b0204 304px,#2c0204 312px,#2d0204 320px,#2f0204 328px,#310204 336px,#330204 344px,#350204 352px,#370204 360px,#380204 368px,#390204 376px,#380204 384px,#360204 392px,#330204 400px,#300204 408px,#2c0204 416px,#280204 424px,#240204 432px,#210204 440px,#1f0204 448px,#1c0204 456px,#1b0204 464px,#1a0204 472px,#190204 480px,#190204 496px,#180204 504px,#180204 512px,#170204 520px,#170204 555.4px)"></i><i style="top:190.5px;height:2.1px;background:linear-gradient(90deg,#ffe304 0px,#fffd04 8px,#ffff14 16px,#ffff1c 24px,#ffff21 32px,#ffff16 40px,#ffff04 48px,#fff604 56px,#ffe904 64px,#ffdb04 72px,#ffc804 80px,#ffb804 88px,#ffa704 96px,#ff8b04 104px,#ff7204 112px,#ff5404 120px,#ff3604 128px,#ff1c04 136px,#ff0a04 144px,#f70204 152px,#e60204 160px,#d80204 168px,#ca0204 176px,#c10204 184px,#b70204 192px,#af0204 200px,#a50204 208px,#940204 216px,#830204 224px,#740204 232px,#640204 240px,#550204 248px,#470204 256px,#3e0204 264px,#360204 272px,#310204 280px,#2d0204 288px,#2d0204 304px,#2e0204 312px,#300204 320px,#320204 328px,#340204 336px,#360204 344px,#370204 352px,#390204 360px,#3b0204 368px,#3c0204 376px,#3a0204 384px,#380204 392px,#350204 400px,#320204 408px,#2e0204 416px,#2a0204 424px,#260204 432px,#230204 440px,#200204 448px,#1e0204 456px,#1d0204 464px,#1c0204 472px,#1b0204 480px,#1b0204 488px,#1a0204 496px,#1a0204 504px,#190204 512px,#190204 520px,#180204 528px,#180204 555.4px)"></i><i style="top:192px;height:2.1px;background:linear-gradient(90deg,#ffec04 0px,#ffff0b 8px,#ffff23 16px,#ffff2c 24px,#ffff31 32px,#ffff27 40px,#ffff16 48px,#ffff04 56px,#fff504 64px,#ffe704 72px,#ffd404 80px,#ffc404 88px,#ffb304 96px,#ff9704 104px,#ff7e04 112px,#ff6004 120px,#ff4104 128px,#ff2704 136px,#ff1504 144px,#ff0204 152px,#f00204 160px,#e20204 168px,#d40204 176px,#ca0204 184px,#bf0204 192px,#b60204 200px,#ab0204 208px,#9a0204 216px,#890204 224px,#7a0204 232px,#6a0204 240px,#590204 248px,#4b0204 256px,#420204 264px,#3a0204 272px,#340204 280px,#310204 288px,#300204 296px,#310204 304px,#310204 312px,#330204 320px,#350204 328px,#360204 336px,#380204 344px,#3a0204 352px,#3c0204 360px,#3d0204 368px,#3e0204 376px,#3c0204 384px,#3a0204 392px,#370204 400px,#340204 408px,#300204 416px,#2c0204 424px,#280204 432px,#250204 440px,#220204 448px,#200204 456px,#1f0204 464px,#1e0204 472px,#1d0204 480px,#1c0204 488px,#1c0204 496px,#1b0204 504px,#1b0204 512px,#1a0204 520px,#1a0204 536px,#190204 544px,#190204 555.4px)"></i><i style="top:193.5px;height:2.1px;background:linear-gradient(90deg,#fff504 0px,#ffff18 8px,#ffff32 16px,#ffff3b 24px,#ffff40 32px,#ffff37 40px,#ffff26 48px,#ffff15 56px,#ffff04 64px,#fff304 72px,#ffe004 80px,#ffd004 88px,#ffbf04 96px,#ffa304 104px,#ff8a04 112px,#ff6b04 120px,#ff4d04 128px,#ff3204 136px,#ff2004 144px,#ff0c04 152px,#fa0204 160px,#ec0204 168px,#dd0204 176px,#d20204 184px,#c70204 192px,#bd0204 200px,#b10204 208px,#a00204 216px,#8e0204 224px,#7f0204 232px,#6f0204 240px,#5e0204 248px,#500204 256px,#460204 264px,#3e0204 272px,#380204 280px,#340204 288px,#330204 296px,#340204 304px,#340204 312px,#360204 320px,#370204 328px,#390204 336px,#3b0204 344px,#3d0204 352px,#3e0204 360px,#3f0204 368px,#400204 376px,#3e0204 384px,#3c0204 392px,#390204 400px,#360204 408px,#320204 416px,#2e0204 424px,#2a0204 432px,#270204 440px,#240204 448px,#220204 456px,#210204 464px,#200204 472px,#1f0204 480px,#1e0204 488px,#1d0204 496px,#1d0204 504px,#1c0204 512px,#1c0204 520px,#1b0204 528px,#1b0204 555.4px)"></i><i style="top:195px;height:2.1px;background:linear-gradient(90deg,#fffd04 0px,#ffff25 8px,#ffff3f 16px,#ffff49 24px,#ffff4f 32px,#ffff47 40px,#ffff37 48px,#ffff26 56px,#ffff14 64px,#ffff04 72px,#ffec04 80px,#ffdc04 88px,#ffca04 96px,#ffae04 104px,#ff9604 112px,#ff7704 120px,#ff5804 128px,#ff3d04 136px,#ff2a04 144px,#ff1704 152px,#ff0504 160px,#f50204 168px,#e60204 176px,#db0204 184px,#ce0204 192px,#c40204 200px,#b70204 208px,#a60204 216px,#930204 224px,#840204 232px,#740204 240px,#630204 248px,#540204 256px,#4a0204 264px,#420204 272px,#3b0204 280px,#370204 288px,#360204 296px,#370204 304px,#380204 312px,#380204 320px,#3a0204 328px,#3c0204 336px,#3e0204 344px,#3f0204 352px,#400204 360px,#410204 368px,#420204 376px,#400204 384px,#3e0204 392px,#3b0204 400px,#380204 408px,#340204 416px,#300204 424px,#2c0204 432px,#290204 440px,#260204 448px,#240204 456px,#220204 464px,#210204 472px,#200204 480px,#200204 488px,#1f0204 496px,#1e0204 504px,#1e0204 512px,#1d0204 520px,#1d0204 528px,#1c0204 536px,#1c0204 555.4px)"></i><i style="top:196.5px;height:2.1px;background:linear-gradient(90deg,#ffff09 0px,#ffff31 8px,#ffff4c 16px,#ffff56 24px,#ffff5d 32px,#ffff56 40px,#ffff46 48px,#ffff36 56px,#ffff25 64px,#ff1 72px,#fff804 80px,#ffe704 88px,#ffd604 96px,#ffba04 104px,#ffa104 112px,#ff8204 120px,#ff6304 128px,#ff4804 136px,#ff3404 144px,#ff2104 152px,#ff0f04 160px,#ff0204 168px,#ef0204 176px,#e30204 184px,#d50204 192px,#ca0204 200px,#bd0204 208px,#ab0204 216px,#980204 224px,#890204 232px,#780204 240px,#670204 248px,#580204 256px,#4e0204 264px,#450204 272px,#3f0204 280px,#3b0204 288px,#390204 296px,#3a0204 304px,#3b0204 312px,#3b0204 320px,#3d0204 328px,#3e0204 336px,#400204 344px,#410204 352px,#420204 360px,#430204 368px,#440204 376px,#420204 384px,#3f0204 392px,#3d0204 400px,#3a0204 408px,#360204 416px,#320204 424px,#2e0204 432px,#2b0204 440px,#280204 448px,#260204 456px,#240204 464px,#230204 472px,#220204 480px,#210204 488px,#210204 496px,#200204 504px,#1f0204 512px,#1f0204 520px,#1e0204 528px,#1e0204 544px,#1d0204 552px,#1d0204 555.4px)"></i><i style="top:198px;height:2.1px;background:linear-gradient(90deg,#ffff13 0px,#ffff3c 8px,#ffff58 16px,#ffff63 24px,#ffff6b 32px,#ffff64 40px,#ff5 48px,#ffff46 56px,#ffff35 64px,#ffff21 72px,#ffff06 80px,#fff204 88px,#ffe104 96px,#ffc504 104px,#ffad04 112px,#ff8d04 120px,#ff6d04 128px,#ff5204 136px,#ff3f04 144px,#ff2b04 152px,#ff1804 160px,#ff0904 168px,#f80204 176px,#ea0204 184px,#dc0204 192px,#d00204 200px,#c20204 208px,#b00204 216px,#9d0204 224px,#8d0204 232px,#7d0204 240px,#6c0204 248px,#5d0204 256px,#520204 264px,#490204 272px,#420204 280px,#3e0204 288px,#3d0204 296px,#3d0204 304px,#3e0204 312px,#3e0204 320px,#400204 328px,#410204 336px,#430204 344px,#440204 352px,#450204 360px,#450204 376px,#430204 384px,#410204 392px,#3e0204 400px,#3b0204 408px,#380204 416px,#340204 424px,#300204 432px,#2d0204 440px,#2a0204 448px,#280204 456px,#260204 464px,#250204 472px,#240204 480px,#230204 488px,#220204 496px,#210204 504px,#210204 512px,#200204 520px,#200204 528px,#1f0204 536px,#1f0204 552px,#1e0204 555.4px)"></i><i style="top:199.5px;height:2.1px;background:linear-gradient(90deg,#ffff1d 0px,#ffff46 8px,#ffff63 16px,#ffff6e 24px,#ff7 32px,#ffff71 40px,#ffff63 48px,#ffff54 56px,#ff4 64px,#ffff31 72px,#ffff16 80px,#fffd04 88px,#ffeb04 96px,#ffd004 104px,#ffb804 112px,#ff9804 120px,#ff7804 128px,#ff5c04 136px,#ff4804 144px,#ff3404 152px,#ff2204 160px,#ff1204 168px,#ff0204 176px,#f20204 184px,#e30204 192px,#d60204 200px,#c70204 208px,#b40204 216px,#a10204 224px,#920204 232px,#810204 240px,#700204 248px,#610204 256px,#560204 264px,#4d0204 272px,#460204 280px,#410204 288px,#400204 296px,#400204 304px,#410204 312px,#410204 320px,#430204 328px,#440204 336px,#450204 344px,#460204 352px,#470204 360px,#470204 376px,#450204 384px,#430204 392px,#400204 400px,#3d0204 408px,#3a0204 416px,#360204 424px,#320204 432px,#2f0204 440px,#2c0204 448px,#290204 456px,#280204 464px,#270204 472px,#250204 480px,#250204 488px,#240204 496px,#230204 504px,#220204 512px,#220204 520px,#210204 528px,#210204 536px,#200204 544px,#200204 555.4px)"></i><i style="top:201px;height:2.1px;background:linear-gradient(90deg,#ffff26 0px,#ffff50 8px,#ffff6d 16px,#ffff79 24px,#ffff82 32px,#ffff7d 40px,#ffff70 48px,#ffff62 56px,#ffff53 64px,#ffff40 72px,#ffff25 80px,#ffff0c 88px,#fff504 96px,#ffda04 104px,#ffc204 112px,#ffa204 120px,#ff8204 128px,#ff6604 136px,#ff5204 144px,#ff3e04 152px,#ff2b04 160px,#ff1a04 168px,#ff0904 176px,#f90204 184px,#e90204 192px,#db0204 200px,#cb0204 208px,#b80204 216px,#a50204 224px,#960204 232px,#860204 240px,#750204 248px,#650204 256px,#5a0204 264px,#510204 272px,#490204 280px,#450204 288px,#430204 296px,#440204 304px,#440204 320px,#450204 328px,#460204 336px,#470204 344px,#480204 352px,#480204 360px,#490204 368px,#480204 376px,#460204 384px,#440204 392px,#410204 400px,#3f0204 408px,#3b0204 416px,#380204 424px,#340204 432px,#300204 440px,#2e0204 448px,#2b0204 456px,#2a0204 464px,#280204 472px,#270204 480px,#260204 488px,#260204 496px,#250204 504px,#240204 512px,#230204 520px,#230204 528px,#220204 536px,#210204 544px,#210204 555.4px)"></i><i style="top:202.5px;height:2.1px;background:linear-gradient(90deg,#ffff2e 0px,#ffff58 8px,#ffff76 16px,#ffff83 24px,#ffff8d 32px,#ff8 40px,#ffff7d 48px,#ffff70 56px,#ffff60 64px,#ffff4f 72px,#ffff34 80px,#ffff1b 88px,#ffff04 96px,#ffe404 104px,#ffcc04 112px,#ffac04 120px,#ff8c04 128px,#ff6f04 136px,#ff5b04 144px,#ff4704 152px,#ff3304 160px,#ff2204 168px,#ff1004 176px,#ff0204 184px,#ee0204 192px,#e00204 200px,#cf0204 208px,#bc0204 216px,#a80204 224px,#9a0204 232px,#890204 240px,#790204 248px,#690204 256px,#5e0204 264px,#550204 272px,#4d0204 280px,#480204 288px,#470204 296px,#470204 320px,#480204 328px,#490204 336px,#490204 344px,#4a0204 352px,#4a0204 368px,#490204 376px,#470204 384px,#450204 392px,#430204 400px,#400204 408px,#3d0204 416px,#390204 424px,#360204 432px,#320204 440px,#2f0204 448px,#2d0204 456px,#2b0204 464px,#2a0204 472px,#290204 480px,#280204 488px,#270204 496px,#260204 504px,#250204 512px,#240204 520px,#240204 528px,#230204 536px,#230204 544px,#220204 552px,#220204 555.4px)"></i><i style="top:204px;height:2.1px;background:linear-gradient(90deg,#ffff36 0px,#ffff5f 8px,#ffff7e 16px,#ffff8b 24px,#ffff96 32px,#ffff93 40px,#ff8 48px,#ffff7c 56px,#ffff6d 64px,#ffff5d 72px,#ffff42 80px,#ffff29 88px,#ffff0e 96px,#ffee04 104px,#ffd604 112px,#ffb604 120px,#ff9504 128px,#ff7804 136px,#ff6404 144px,#ff4f04 152px,#ff3b04 160px,#ff2a04 168px,#ff1804 176px,#ff0704 184px,#f40204 192px,#e40204 200px,#d30204 208px,#bf0204 216px,#ab0204 224px,#9d0204 232px,#8d0204 240px,#7c0204 248px,#6d0204 256px,#620204 264px,#580204 272px,#510204 280px,#4c0204 288px,#4a0204 296px,#4a0204 328px,#4b0204 336px,#4b0204 344px,#4c0204 352px,#4c0204 360px,#4b0204 368px,#4a0204 376px,#480204 384px,#460204 392px,#440204 400px,#410204 408px,#3e0204 416px,#3b0204 424px,#370204 432px,#340204 440px,#310204 448px,#2f0204 456px,#2d0204 464px,#2c0204 472px,#2a0204 480px,#290204 488px,#290204 496px,#280204 504px,#270204 512px,#260204 520px,#250204 528px,#250204 536px,#240204 544px,#230204 552px,#230204 555.4px)"></i><i style="top:205.5px;height:2.1px;background:linear-gradient(90deg,#ffff3c 0px,#ffff65 8px,#ffff85 16px,#ffff93 24px,#ffff9f 32px,#ffff9c 40px,#ffff93 48px,#ffff87 56px,#ffff79 64px,#ffff69 72px,#ffff4f 80px,#ffff36 88px,#ffff1c 96px,#fff704 104px,#ffdf04 112px,#ffbf04 120px,#ff9e04 128px,#ff8104 136px,#ff6c04 144px,#ff5704 152px,#ff4304 160px,#ff3104 168px,#ff1e04 176px,#ff0c04 184px,#f80204 192px,#e70204 200px,#d60204 208px,#c20204 216px,#ae0204 224px,#a00204 232px,#900204 240px,#800204 248px,#700204 256px,#660204 264px,#5c0204 272px,#540204 280px,#4f0204 288px,#4d0204 296px,#4d0204 312px,#4c0204 320px,#4d0204 328px,#4d0204 360px,#4c0204 368px,#4b0204 376px,#490204 384px,#470204 392px,#450204 400px,#420204 408px,#400204 416px,#3c0204 424px,#390204 432px,#360204 440px,#330204 448px,#300204 456px,#2f0204 464px,#2d0204 472px,#2c0204 480px,#2b0204 488px,#2a0204 496px,#290204 504px,#280204 512px,#270204 520px,#260204 528px,#260204 536px,#250204 544px,#240204 552px,#240204 555.4px)"></i><i style="top:207px;height:2.1px;background:linear-gradient(90deg,#ffff41 0px,#ffff6b 8px,#ffff8b 16px,#ff9 24px,#ffffa6 32px,#ffffa4 40px,#ffff9c 48px,#ffff91 56px,#ffff84 64px,#ffff75 72px,#ffff5c 80px,#ffff43 88px,#ffff28 96px,#ffff04 104px,#ffe804 112px,#ffc804 120px,#ffa704 128px,#ff8904 136px,#ff7404 144px,#ff5f04 152px,#ff4a04 160px,#ff3804 168px,#ff2404 176px,#ff1104 184px,#fc0204 192px,#ea0204 200px,#d80204 208px,#c40204 216px,#b00204 224px,#a20204 232px,#930204 240px,#830204 248px,#740204 256px,#690204 264px,#600204 272px,#570204 280px,#520204 288px,#500204 296px,#500204 304px,#4f0204 312px,#4f0204 352px,#4e0204 360px,#4d0204 368px,#4c0204 376px,#4a0204 384px,#480204 392px,#460204 400px,#430204 408px,#410204 416px,#3e0204 424px,#3a0204 432px,#370204 440px,#340204 448px,#320204 456px,#300204 464px,#2f0204 472px,#2e0204 480px,#2c0204 488px,#2b0204 496px,#2a0204 504px,#290204 512px,#280204 520px,#280204 528px,#270204 536px,#260204 544px,#250204 552px,#250204 555.4px)"></i><i style="top:208.5px;height:2.1px;background:linear-gradient(90deg,#ffff45 0px,#ffff6f 8px,#ffff90 16px,#ffff9f 24px,#ffffac 32px,#ffffac 40px,#ffffa4 48px,#ffff9b 56px,#ffff8e 64px,#ffff80 72px,#ffff67 80px,#ffff4e 88px,#ffff34 96px,#ffff0d 104px,#fff004 112px,#ffd004 120px,#ffaf04 128px,#ff9104 136px,#ff7c04 144px,#ff6604 152px,#ff5104 160px,#ff3e04 168px,#ff2a04 176px,#ff1604 184px,#ff0204 192px,#ed0204 200px,#da0204 208px,#c50204 216px,#b20204 224px,#a40204 232px,#960204 240px,#860204 248px,#770204 256px,#6c0204 264px,#630204 272px,#5b0204 280px,#550204 288px,#530204 296px,#520204 304px,#520204 312px,#510204 320px,#510204 344px,#500204 352px,#4f0204 360px,#4e0204 368px,#4d0204 376px,#4a0204 384px,#490204 392px,#470204 400px,#440204 408px,#420204 416px,#3f0204 424px,#3c0204 432px,#390204 440px,#360204 448px,#340204 456px,#320204 464px,#300204 472px,#2f0204 480px,#2e0204 488px,#2d0204 496px,#2c0204 504px,#2b0204 512px,#2a0204 520px,#290204 528px,#280204 536px,#270204 544px,#260204 552px,#260204 555.4px)"></i><i style="top:210px;height:2.1px;background:linear-gradient(90deg,#ffff48 0px,#ffff72 8px,#ffff94 16px,#ffffa3 24px,#ffffb1 32px,#ffffb2 40px,#ffffab 48px,#ffffa3 56px,#ffff98 64px,#ffff8a 72px,#ffff72 80px,#ffff59 88px,#ffff3f 96px,#ffff19 104px,#fff804 112px,#ffd804 120px,#ffb604 128px,#ff9804 136px,#ff8204 144px,#ff6c04 152px,#ff5704 160px,#ff4304 168px,#ff2e04 176px,#ff1904 184px,#ff0304 192px,#ef0204 200px,#db0204 208px,#c60204 216px,#b30204 224px,#a60204 232px,#980204 240px,#890204 248px,#7a0204 256px,#700204 264px,#660204 272px,#5e0204 280px,#580204 288px,#560204 296px,#550204 304px,#540204 312px,#530204 320px,#530204 328px,#520204 336px,#520204 344px,#510204 352px,#500204 360px,#4f0204 368px,#4d0204 376px,#4b0204 384px,#490204 392px,#470204 400px,#450204 408px,#430204 416px,#400204 424px,#3d0204 432px,#3a0204 440px,#370204 448px,#350204 456px,#330204 464px,#320204 472px,#300204 480px,#2f0204 488px,#2e0204 496px,#2d0204 504px,#2c0204 512px,#2b0204 520px,#2a0204 528px,#290204 536px,#280204 544px,#270204 552px,#270204 555.4px)"></i><i style="top:211.5px;height:2.1px;background:linear-gradient(90deg,#ffff4a 0px,#ffff74 8px,#ffff96 16px,#ffffa6 24px,#ffffb5 32px,#ffffb6 40px,#ffffb1 48px,#ffa 56px,#ffffa0 64px,#ffff93 72px,#ffff7b 80px,#ffff63 88px,#ffff49 96px,#ffff23 104px,#ffff04 112px,#ffdf04 120px,#ffbd04 128px,#ff9f04 136px,#ff8904 144px,#ff7204 152px,#ff5d04 160px,#ff4804 168px,#ff3204 176px,#ff1d04 184px,#ff0504 192px,#f00204 200px,#db0204 208px,#c70204 216px,#b30204 224px,#a70204 232px,#990204 240px,#8b0204 248px,#7d0204 256px,#720204 264px,#690204 272px,#610204 280px,#5b0204 288px,#590204 296px,#580204 304px,#570204 312px,#550204 320px,#550204 328px,#540204 336px,#530204 344px,#520204 352px,#510204 360px,#4f0204 368px,#4d0204 376px,#4b0204 384px,#490204 392px,#470204 400px,#450204 408px,#430204 416px,#410204 424px,#3e0204 432px,#3b0204 440px,#390204 448px,#360204 456px,#350204 464px,#330204 472px,#320204 480px,#300204 488px,#2f0204 496px,#2e0204 504px,#2d0204 512px,#2c0204 520px,#2b0204 528px,#2a0204 536px,#290204 544px,#280204 552px,#270204 555.4px)"></i><i style="top:213px;height:2.1px;background:linear-gradient(90deg,#ffff4b 0px,#ffff75 8px,#ffff98 16px,#ffffa8 24px,#ffffb8 32px,#ffffba 40px,#ffffb6 48px,#ffffb0 56px,#ffffa6 64px,#ffff9b 72px,#ffff84 80px,#ffff6c 88px,#ffff52 96px,#ffff2d 104px,#ffff0a 112px,#ffe504 120px,#ffc304 128px,#ffa404 136px,#ff8e04 144px,#ff7804 152px,#ff6104 160px,#ff4c04 168px,#ff3604 176px,#ff1f04 184px,#ff0704 192px,#f00204 200px,#db0204 208px,#c70204 216px,#b30204 224px,#a70204 232px,#9b0204 240px,#8d0204 248px,#7f0204 256px,#750204 264px,#6c0204 272px,#630204 280px,#5e0204 288px,#5b0204 296px,#5a0204 304px,#590204 312px,#570204 320px,#560204 328px,#550204 336px,#540204 344px,#530204 352px,#510204 360px,#4f0204 368px,#4d0204 376px,#4b0204 384px,#490204 392px,#480204 400px,#460204 408px,#440204 416px,#410204 424px,#3f0204 432px,#3c0204 440px,#3a0204 448px,#370204 456px,#360204 464px,#340204 472px,#330204 480px,#310204 488px,#300204 496px,#2f0204 504px,#2e0204 512px,#2d0204 520px,#2b0204 528px,#2a0204 536px,#290204 544px,#280204 552px,#280204 555.4px)"></i><i style="top:214.5px;height:2.1px;background:linear-gradient(90deg,#ffff4b 0px,#ffff74 8px,#ffff98 16px,#ffffa9 24px,#ffffb9 32px,#ffffbc 40px,#ffffba 48px,#ffffb5 56px,#ffffac 64px,#ffffa2 72px,#ffff8c 80px,#ffff74 88px,#ffff5a 96px,#ffff35 104px,#ffff13 112px,#ffeb04 120px,#ffc904 128px,#ffaa04 136px,#ff9304 144px,#ff7c04 152px,#ff6604 160px,#ff5004 168px,#ff3804 176px,#ff2104 184px,#ff0804 192px,#f00204 200px,#db0204 208px,#c60204 216px,#b30204 224px,#a70204 232px,#9b0204 240px,#8e0204 248px,#810204 256px,#770204 264px,#6e0204 272px,#660204 280px,#600204 288px,#5e0204 296px,#5c0204 304px,#5b0204 312px,#590204 320px,#580204 328px,#560204 336px,#550204 344px,#530204 352px,#510204 360px,#4f0204 368px,#4d0204 376px,#4a0204 384px,#490204 392px,#470204 400px,#460204 408px,#440204 416px,#420204 424px,#400204 432px,#3d0204 440px,#3b0204 448px,#390204 456px,#370204 464px,#350204 472px,#340204 480px,#320204 488px,#310204 496px,#300204 504px,#2f0204 512px,#2d0204 520px,#2c0204 528px,#2b0204 536px,#2a0204 544px,#290204 552px,#280204 555.4px)"></i><i style="top:216px;height:2.1px;background:linear-gradient(90deg,#ffff49 0px,#ffff73 8px,#ffff97 16px,#ffffa8 24px,#ffffba 32px,#ffffbe 40px,#ffffbc 48px,#ffffb8 56px,#ffffb1 64px,#ffffa8 72px,#ffff92 80px,#ffff7b 88px,#ffff61 96px,#ffff3d 104px,#ffff1b 112px,#fff004 120px,#ffce04 128px,#ffae04 136px,#ff9704 144px,#ff8004 152px,#ff6904 160px,#ff5204 168px,#ff3a04 176px,#ff2204 184px,#ff0804 192px,#ef0204 200px,#d90204 208px,#c50204 216px,#b20204 224px,#a70204 232px,#9c0204 240px,#8f0204 248px,#830204 256px,#790204 264px,#700204 272px,#680204 280px,#620204 288px,#600204 296px,#5e0204 304px,#5c0204 312px,#5a0204 320px,#590204 328px,#570204 336px,#550204 344px,#530204 352px,#510204 360px,#4f0204 368px,#4c0204 376px,#4a0204 384px,#490204 392px,#470204 400px,#460204 408px,#440204 416px,#420204 424px,#400204 432px,#3e0204 440px,#3c0204 448px,#3a0204 456px,#380204 464px,#360204 472px,#350204 480px,#330204 488px,#320204 496px,#310204 504px,#2f0204 512px,#2e0204 520px,#2d0204 528px,#2c0204 536px,#2a0204 544px,#290204 552px,#290204 555.4px)"></i><i style="top:217.5px;height:2.1px;background:linear-gradient(90deg,#ffff46 0px,#ffff6f 8px,#ffff94 16px,#ffffa6 24px,#ffffb9 32px,#ffffbe 40px,#ffffbe 48px,#ffb 56px,#ffffb4 64px,#ffffac 72px,#ffff98 80px,#ffff80 88px,#ffff67 96px,#ffff43 104px,#ffff21 112px,#fff504 120px,#ffd204 128px,#ffb204 136px,#ff9b04 144px,#ff8304 152px,#ff6c04 160px,#ff5404 168px,#ff3c04 176px,#ff2204 184px,#ff0704 192px,#ee0204 200px,#d80204 208px,#c30204 216px,#b00204 224px,#a60204 232px,#9b0204 240px,#900204 248px,#840204 256px,#7b0204 264px,#720204 272px,#6a0204 280px,#640204 288px,#620204 296px,#600204 304px,#5e0204 312px,#5c0204 320px,#5a0204 328px,#570204 336px,#560204 344px,#530204 352px,#510204 360px,#4e0204 368px,#4b0204 376px,#490204 384px,#480204 392px,#470204 400px,#460204 408px,#440204 416px,#430204 424px,#410204 432px,#3e0204 440px,#3c0204 448px,#3a0204 456px,#390204 464px,#370204 472px,#350204 480px,#340204 488px,#330204 496px,#310204 504px,#300204 512px,#2f0204 520px,#2d0204 528px,#2c0204 536px,#2b0204 544px,#290204 552px,#290204 555.4px)"></i><i style="top:219px;height:2.1px;background:linear-gradient(90deg,#ffff42 0px,#ffff6b 8px,#ffff90 16px,#ffffa3 24px,#ffffb6 32px,#ffffbc 40px,#ffffbe 48px,#ffffbc 56px,#ffffb7 64px,#ffffb0 72px,#ffff9c 80px,#ffff85 88px,#ffff6c 96px,#ffff49 104px,#ffff27 112px,#fff804 120px,#ffd604 128px,#ffb604 136px,#ff9e04 144px,#ff8604 152px,#ff6e04 160px,#ff5504 168px,#ff3c04 176px,#ff2204 184px,#ff0604 192px,#ec0204 200px,#d50204 208px,#c10204 216px,#ae0204 224px,#a40204 232px,#9b0204 240px,#900204 248px,#850204 256px,#7d0204 264px,#740204 272px,#6c0204 280px,#660204 288px,#630204 296px,#610204 304px,#5f0204 312px,#5d0204 320px,#5a0204 328px,#580204 336px,#560204 344px,#530204 352px,#510204 360px,#4d0204 368px,#4a0204 376px,#480204 384px,#470204 392px,#460204 400px,#450204 408px,#440204 416px,#430204 424px,#410204 432px,#3f0204 440px,#3d0204 448px,#3b0204 456px,#390204 464px,#380204 472px,#360204 480px,#350204 488px,#330204 496px,#320204 504px,#300204 512px,#2f0204 520px,#2e0204 528px,#2c0204 536px,#2b0204 544px,#2a0204 552px,#290204 555.4px)"></i><i style="top:220.5px;height:2.1px;background:linear-gradient(90deg,#ffff3c 0px,#ffff65 8px,#ffff8b 16px,#ffff9f 24px,#ffffb2 32px,#ffffba 40px,#ffffbc 48px,#ffffbc 56px,#ffffb8 64px,#ffffb2 72px,#ffff9f 80px,#ffff89 88px,#ffff70 96px,#ffff4d 104px,#ffff2b 112px,#fffb04 120px,#ffd804 128px,#ffb804 136px,#ffa004 144px,#ff8704 152px,#ff6f04 160px,#ff5604 168px,#ff3c04 176px,#ff2004 184px,#ff0404 192px,#ea0204 200px,#d20204 208px,#be0204 216px,#ac0204 224px,#a30204 232px,#9a0204 240px,#900204 248px,#850204 256px,#7e0204 264px,#750204 272px,#6d0204 280px,#680204 288px,#650204 296px,#620204 304px,#600204 312px,#5d0204 320px,#5b0204 328px,#580204 336px,#550204 344px,#530204 352px,#500204 360px,#4d0204 368px,#490204 376px,#470204 384px,#460204 392px,#450204 400px,#440204 408px,#440204 416px,#420204 424px,#410204 432px,#3f0204 440px,#3d0204 448px,#3b0204 456px,#3a0204 464px,#380204 472px,#370204 480px,#350204 488px,#340204 496px,#320204 504px,#310204 512px,#2f0204 520px,#2e0204 528px,#2d0204 536px,#2b0204 544px,#2a0204 552px,#290204 555.4px)"></i><i style="top:222px;height:2.1px;background:linear-gradient(90deg,#ffff35 0px,#ffff5e 8px,#ffff84 16px,#ff9 24px,#ffffad 32px,#ffffb6 40px,#ffffba 48px,#ffb 56px,#ffffb8 64px,#ffffb3 72px,#ffffa1 80px,#ffff8b 88px,#ffff72 96px,#ffff50 104px,#ffff2f 112px,#fffe04 120px,#ffda04 128px,#ffba04 136px,#ffa104 144px,#ff8804 152px,#ff6f04 160px,#ff5504 168px,#ff3a04 176px,#ff1f04 184px,#ff0204 192px,#e60204 200px,#cf0204 208px,#bb0204 216px,#a90204 224px,#a00204 232px,#980204 240px,#8f0204 248px,#850204 256px,#7e0204 264px,#760204 272px,#6f0204 280px,#690204 288px,#660204 296px,#630204 304px,#610204 312px,#5e0204 320px,#5b0204 328px,#580204 336px,#550204 344px,#520204 352px,#4f0204 360px,#4b0204 368px,#480204 376px,#460204 384px,#450204 392px,#440204 400px,#440204 408px,#430204 416px,#420204 424px,#410204 432px,#3f0204 440px,#3e0204 448px,#3c0204 456px,#3a0204 464px,#390204 472px,#370204 480px,#350204 488px,#340204 496px,#320204 504px,#310204 512px,#300204 520px,#2e0204 528px,#2d0204 536px,#2b0204 544px,#290204 552px,#290204 555.4px)"></i><i style="top:223.5px;height:2.1px;background:linear-gradient(90deg,#ffff2d 0px,#ffff56 8px,#ffff7c 16px,#ffff92 24px,#ffffa7 32px,#ffffb1 40px,#ffffb6 48px,#ffffb8 56px,#ffffb6 64px,#ffffb3 72px,#ffffa2 80px,#ffff8d 88px,#ffff74 96px,#ffff52 104px,#ffff31 112px,#ffff04 120px,#ffdc04 128px,#ffbb04 136px,#ffa204 144px,#ff8804 152px,#ff6f04 160px,#ff5404 168px,#ff3904 176px,#ff1c04 184px,#fd0204 192px,#e30204 200px,#cb0204 208px,#b70204 216px,#a60204 224px,#9e0204 232px,#970204 240px,#8e0204 248px,#850204 256px,#7f0204 264px,#770204 272px,#6f0204 280px,#6a0204 288px,#670204 296px,#640204 304px,#610204 312px,#5e0204 320px,#5b0204 328px,#570204 336px,#540204 344px,#510204 352px,#4e0204 360px,#4a0204 368px,#470204 376px,#440204 384px,#440204 392px,#430204 400px,#430204 408px,#420204 416px,#420204 424px,#410204 432px,#3f0204 440px,#3e0204 448px,#3c0204 456px,#3a0204 464px,#390204 472px,#370204 480px,#360204 488px,#340204 496px,#330204 504px,#310204 512px,#300204 520px,#2e0204 528px,#2c0204 536px,#2b0204 544px,#290204 552px,#280204 555.4px)"></i><i style="top:225px;height:2.1px;background:linear-gradient(90deg,#ffff24 0px,#ffff4c 8px,#ffff73 16px,#ffff89 24px,#ffff9f 32px,#ffa 40px,#ffffb1 48px,#ffffb4 56px,#ffffb3 64px,#ffffb1 72px,#ffffa2 80px,#ffff8d 88px,#ffff75 96px,#ffff53 104px,#ffff32 112px,#ffff04 120px,#ffdc04 128px,#ffbc04 136px,#ffa204 144px,#ff8804 152px,#ff6d04 160px,#ff5204 168px,#ff3604 176px,#ff1904 184px,#fa0204 192px,#df0204 200px,#c70204 208px,#b30204 216px,#a20204 224px,#9b0204 232px,#940204 240px,#8d0204 248px,#850204 256px,#7f0204 264px,#770204 272px,#700204 280px,#6b0204 288px,#670204 296px,#640204 304px,#610204 312px,#5e0204 320px,#5a0204 328px,#570204 336px,#540204 344px,#500204 352px,#4d0204 360px,#490204 368px,#450204 376px,#430204 384px,#420204 392px,#420204 400px,#410204 408px,#410204 424px,#400204 432px,#3f0204 440px,#3e0204 448px,#3c0204 456px,#3a0204 464px,#390204 472px,#370204 480px,#360204 488px,#340204 496px,#330204 504px,#310204 512px,#2f0204 520px,#2e0204 528px,#2c0204 536px,#2b0204 544px,#290204 552px,#280204 555.4px)"></i><i style="top:226.5px;height:2.1px;background:linear-gradient(90deg,#ffff19 0px,#ffff41 8px,#ffff69 16px,#ffff7f 24px,#ffff97 32px,#ffffa2 40px,#ffa 48px,#ffffaf 56px,#ffffaf 72px,#ffffa0 80px,#ffff8c 88px,#ffff74 96px,#ffff53 104px,#ffff32 112px,#ffff04 120px,#ffdc04 128px,#ffbb04 136px,#ffa104 144px,#ff8604 152px,#ff6b04 160px,#ff4f04 168px,#ff3304 176px,#ff1504 184px,#f50204 192px,#da0204 200px,#c20204 208px,#af0204 216px,#9e0204 224px,#970204 232px,#920204 240px,#8b0204 248px,#840204 256px,#7e0204 264px,#770204 272px,#700204 280px,#6b0204 288px,#680204 296px,#650204 304px,#610204 312px,#5e0204 320px,#5a0204 328px,#560204 336px,#530204 344px,#4f0204 352px,#4b0204 360px,#470204 368px,#430204 376px,#410204 384px,#400204 392px,#400204 432px,#3f0204 440px,#3d0204 448px,#3c0204 456px,#3a0204 464px,#390204 472px,#370204 480px,#360204 488px,#340204 496px,#320204 504px,#310204 512px,#2f0204 520px,#2e0204 528px,#2c0204 536px,#2a0204 544px,#280204 552px,#280204 555.4px)"></i><i style="top:228px;height:2.1px;background:linear-gradient(90deg,#ffff0d 0px,#ffff35 8px,#ffff5d 16px,#ffff74 24px,#ffff8d 32px,#ffff9a 40px,#ffffa3 48px,#ffffa9 56px,#ffa 64px,#ffa 72px,#ffff9d 80px,#ffff89 88px,#ffff72 96px,#ffff52 104px,#ffff31 112px,#ffff04 120px,#ffdb04 128px,#ffba04 136px,#ff9f04 144px,#ff8404 152px,#ff6904 160px,#ff4c04 168px,#ff2f04 176px,#ff1104 184px,#f10204 192px,#d50204 200px,#bd0204 208px,#aa0204 216px,#9a0204 224px,#940204 232px,#8f0204 240px,#890204 248px,#820204 256px,#7d0204 264px,#770204 272px,#700204 280px,#6b0204 288px,#680204 296px,#640204 304px,#610204 312px,#5d0204 320px,#590204 328px,#550204 336px,#510204 344px,#4d0204 352px,#490204 360px,#450204 368px,#410204 376px,#3f0204 384px,#3f0204 432px,#3e0204 440px,#3d0204 448px,#3c0204 456px,#3a0204 464px,#380204 472px,#370204 480px,#350204 488px,#340204 496px,#320204 504px,#300204 512px,#2f0204 520px,#2d0204 528px,#2b0204 536px,#2a0204 544px,#280204 552px,#270204 555.4px)"></i><i style="top:229.5px;height:2.1px;background:linear-gradient(90deg,#ffff04 0px,#ffff28 8px,#ffff51 16px,#ffff68 24px,#ffff81 32px,#ffff90 40px,#ffff9a 48px,#ffffa1 56px,#ffffa3 64px,#ffffa5 72px,#ffff98 80px,#ffff86 88px,#ffff6f 96px,#ffff4f 104px,#ffff2e 112px,#fffd04 120px,#ffd904 128px,#ffb804 136px,#ff9c04 144px,#ff8104 152px,#ff6504 160px,#ff4804 168px,#ff2a04 176px,#ff0c04 184px,#eb0204 192px,#cf0204 200px,#b70204 208px,#a50204 216px,#950204 224px,#900204 232px,#8c0204 240px,#870204 248px,#810204 256px,#7c0204 264px,#770204 272px,#700204 280px,#6b0204 288px,#680204 296px,#640204 304px,#600204 312px,#5c0204 320px,#580204 328px,#540204 336px,#500204 344px,#4c0204 352px,#480204 360px,#430204 368px,#3f0204 376px,#3d0204 384px,#3d0204 416px,#3e0204 424px,#3e0204 432px,#3d0204 440px,#3c0204 448px,#3b0204 456px,#3a0204 464px,#380204 472px,#360204 480px,#350204 488px,#330204 496px,#320204 504px,#300204 512px,#2e0204 520px,#2d0204 528px,#2b0204 536px,#290204 544px,#270204 552px,#260204 555.4px)"></i><i style="top:231px;height:2.1px;background:linear-gradient(90deg,#fff604 0px,#ffff1a 8px,#ffff43 16px,#ffff5b 24px,#ffff75 32px,#ffff84 40px,#ffff90 48px,#ffff98 56px,#ffff9b 64px,#ffff9e 72px,#ffff93 80px,#ffff81 88px,#ffff6a 96px,#ffff4b 104px,#ffff2a 112px,#fffa04 120px,#ffd604 128px,#ffb404 136px,#ff9904 144px,#ff7d04 152px,#ff6104 160px,#ff4304 168px,#ff2504 176px,#ff0604 184px,#e60204 192px,#ca0204 200px,#b10204 208px,#9f0204 216px,#900204 224px,#8b0204 232px,#880204 240px,#840204 248px,#7f0204 256px,#7b0204 264px,#760204 272px,#6f0204 280px,#6a0204 288px,#670204 296px,#630204 304px,#600204 312px,#5b0204 320px,#570204 328px,#520204 336px,#4e0204 344px,#4a0204 352px,#460204 360px,#410204 368px,#3d0204 376px,#3b0204 384px,#3b0204 408px,#3c0204 416px,#3c0204 424px,#3d0204 432px,#3c0204 440px,#3c0204 448px,#3a0204 456px,#390204 464px,#370204 472px,#360204 480px,#340204 488px,#330204 496px,#310204 504px,#2f0204 512px,#2e0204 520px,#2c0204 528px,#2a0204 536px,#280204 544px,#260204 552px,#250204 555.4px)"></i><i style="top:232.5px;height:2.1px;background:linear-gradient(90deg,#ffec04 0px,#ffff0a 8px,#ffff34 16px,#ffff4d 24px,#ffff68 32px,#ffff78 40px,#ffff85 48px,#ffff8e 56px,#ffff92 64px,#ffff96 72px,#ffff8c 80px,#ffff7a 88px,#ffff64 96px,#ffff45 104px,#ffff24 112px,#fff704 120px,#ffd304 128px,#ffb104 136px,#ff9504 144px,#ff7904 152px,#ff5c04 160px,#ff3d04 168px,#ff1f04 176px,#ff0204 184px,#df0204 192px,#c30204 200px,#ab0204 208px,#990204 216px,#8b0204 224px,#870204 232px,#840204 240px,#810204 248px,#7d0204 256px,#790204 264px,#740204 272px,#6e0204 280px,#6a0204 288px,#660204 296px,#620204 304px,#5e0204 312px,#5a0204 320px,#550204 328px,#500204 336px,#4c0204 344px,#480204 352px,#440204 360px,#3f0204 368px,#3b0204 376px,#390204 384px,#390204 408px,#3a0204 416px,#3b0204 424px,#3b0204 448px,#3a0204 456px,#380204 464px,#370204 472px,#350204 480px,#330204 488px,#320204 496px,#300204 504px,#2e0204 512px,#2d0204 520px,#2b0204 528px,#290204 536px,#270204 544px,#250204 552px,#240204 555.4px)"></i><i style="top:234px;height:2.1px;background:linear-gradient(90deg,#ffe204 0px,#fffb04 8px,#ffff24 16px,#ffff3e 24px,#ffff59 32px,#ffff6b 40px,#ffff79 48px,#ffff83 56px,#ffff87 64px,#ffff8d 72px,#ffff83 80px,#ffff73 88px,#ffff5d 96px,#ffff3e 104px,#ffff1d 112px,#fff204 120px,#ffce04 128px,#ffac04 136px,#ff8f04 144px,#ff7304 152px,#ff5604 160px,#ff3704 168px,#ff1904 176px,#f80204 184px,#d90204 192px,#bd0204 200px,#a50204 208px,#940204 216px,#860204 224px,#820204 232px,#800204 240px,#7e0204 248px,#7a0204 256px,#780204 264px,#730204 272px,#6d0204 280px,#690204 288px,#650204 296px,#610204 304px,#5d0204 312px,#590204 320px,#540204 328px,#4f0204 336px,#4a0204 344px,#460204 352px,#410204 360px,#3d0204 368px,#380204 376px,#370204 384px,#360204 392px,#370204 400px,#370204 408px,#380204 416px,#390204 424px,#3a0204 432px,#3a0204 440px,#390204 448px,#390204 456px,#370204 464px,#360204 472px,#340204 480px,#330204 488px,#310204 496px,#2f0204 504px,#2e0204 512px,#2c0204 520px,#2a0204 528px,#280204 536px,#260204 544px,#240204 552px,#230204 555.4px)"></i><i style="top:235.5px;height:2.1px;background:linear-gradient(90deg,#ffd704 0px,#fff004 8px,#ffff13 16px,#ffff2e 24px,#ffff4a 32px,#ffff5c 40px,#ffff6b 48px,#ffff76 56px,#ffff7c 64px,#ffff82 72px,#ffff7a 80px,#ffff6a 88px,#ffff54 96px,#ffff36 104px,#ffff15 112px,#ffed04 120px,#ffc904 128px,#ffa604 136px,#ff8a04 144px,#ff6d04 152px,#ff5004 160px,#ff3104 168px,#ff1204 176px,#f10204 184px,#d20204 192px,#b60204 200px,#9e0204 208px,#8e0204 216px,#800204 224px,#7d0204 232px,#7c0204 240px,#7a0204 248px,#780204 256px,#750204 264px,#710204 272px,#6c0204 280px,#670204 288px,#640204 296px,#600204 304px,#5c0204 312px,#570204 320px,#520204 328px,#4d0204 336px,#480204 344px,#440204 352px,#3f0204 360px,#3a0204 368px,#360204 376px,#340204 384px,#340204 392px,#350204 400px,#350204 408px,#360204 416px,#370204 424px,#380204 432px,#390204 440px,#380204 448px,#380204 456px,#360204 464px,#350204 472px,#330204 480px,#320204 488px,#300204 496px,#2e0204 504px,#2d0204 512px,#2b0204 520px,#290204 528px,#270204 536px,#250204 544px,#230204 552px,#220204 555.4px)"></i><i style="top:237px;height:2.1px;background:linear-gradient(90deg,#ffcb04 0px,#ffe404 8px,#ffff04 16px,#ffff1d 24px,#ffff39 32px,#ffff4d 40px,#ffff5d 48px,#ffff69 56px,#ffff6f 64px,#ffff76 72px,#ffff6f 80px,#ffff60 88px,#ffff4b 96px,#ffff2d 104px,#ffff0c 112px,#ffe704 120px,#ffc304 128px,#ffa004 136px,#ff8304 144px,#ff6704 152px,#ff4904 160px,#ff2904 168px,#ff0b04 176px,#ea0204 184px,#cb0204 192px,#af0204 200px,#980204 208px,#870204 216px,#7b0204 224px,#780204 232px,#780204 240px,#770204 248px,#750204 256px,#730204 264px,#6f0204 272px,#6a0204 280px,#660204 288px,#620204 296px,#5e0204 304px,#5a0204 312px,#550204 320px,#500204 328px,#4a0204 336px,#460204 344px,#410204 352px,#3d0204 360px,#380204 368px,#340204 376px,#320204 384px,#320204 400px,#330204 408px,#340204 416px,#360204 424px,#370204 432px,#370204 448px,#360204 456px,#350204 464px,#340204 472px,#320204 480px,#300204 488px,#2f0204 496px,#2d0204 504px,#2b0204 512px,#2a0204 520px,#280204 528px,#260204 536px,#240204 544px,#220204 552px,#210204 555.4px)"></i><i style="top:238.5px;height:2.1px;background:linear-gradient(90deg,#ffbf04 0px,#ffd804 8px,#fff404 16px,#ffff0b 24px,#ffff28 32px,#ffff3d 40px,#ffff4e 48px,#ffff5a 56px,#ffff62 64px,#ffff69 72px,#ffff63 80px,#ffff54 88px,#ffff40 96px,#ff2 104px,#ffff04 112px,#ffe004 120px,#ffbc04 128px,#ff9904 136px,#ff7c04 144px,#ff5f04 152px,#ff4204 160px,#ff2204 168px,#ff0304 176px,#e20204 184px,#c30204 192px,#a80204 200px,#910204 208px,#810204 216px,#750204 224px,#730204 232px,#730204 248px,#710204 256px,#700204 264px,#6d0204 272px,#680204 280px,#640204 288px,#610204 296px,#5c0204 304px,#580204 312px,#530204 320px,#4d0204 328px,#480204 336px,#430204 344px,#3f0204 352px,#3a0204 360px,#350204 368px,#310204 376px,#2f0204 384px,#2f0204 392px,#300204 400px,#310204 408px,#320204 416px,#340204 424px,#350204 432px,#350204 456px,#340204 464px,#320204 472px,#310204 480px,#2f0204 488px,#2d0204 496px,#2c0204 504px,#2a0204 512px,#280204 520px,#270204 528px,#250204 536px,#230204 544px,#200204 552px,#200204 555.4px)"></i><i style="top:240px;height:2.1px;background:linear-gradient(90deg,#ffb304 0px,#ffcb04 8px,#ffe704 16px,#fffa04 24px,#ffff16 32px,#ffff2c 40px,#ffff3e 48px,#ffff4b 56px,#ffff53 64px,#ffff5c 72px,#ffff56 80px,#ffff48 88px,#ffff34 96px,#ffff16 104px,#fff804 112px,#ffd804 120px,#ffb404 128px,#ff9204 136px,#ff7404 144px,#ff5804 152px,#ff3a04 160px,#ff1a04 168px,#fa0204 176px,#da0204 184px,#bc0204 192px,#a00204 200px,#8a0204 208px,#7b0204 216px,#6f0204 224px,#6e0204 232px,#6e0204 240px,#6f0204 248px,#6e0204 256px,#6d0204 264px,#6a0204 272px,#660204 280px,#620204 288px,#5f0204 296px,#5a0204 304px,#560204 312px,#510204 320px,#4b0204 328px,#460204 336px,#410204 344px,#3c0204 352px,#380204 360px,#330204 368px,#2f0204 376px,#2d0204 384px,#2d0204 392px,#2e0204 400px,#2f0204 408px,#300204 416px,#320204 424px,#330204 432px,#340204 440px,#340204 448px,#330204 456px,#320204 464px,#310204 472px,#2f0204 480px,#2e0204 488px,#2c0204 496px,#2a0204 504px,#290204 512px,#270204 520px,#250204 528px,#230204 536px,#210204 544px,#1f0204 552px,#1e0204 555.4px)"></i><i style="top:241.5px;height:2.1px;background:linear-gradient(90deg,#ffa604 0px,#ffbe04 8px,#ffda04 16px,#ffed04 24px,#ffff04 32px,#ffff1a 40px,#ffff2d 48px,#ffff3b 56px,#ffff43 64px,#ffff4d 72px,#ffff48 80px,#ffff3b 88px,#ffff27 96px,#ffff0a 104px,#fff004 112px,#ffd004 120px,#ffac04 128px,#ff8a04 136px,#ff6c04 144px,#ff4f04 152px,#ff3104 160px,#ff1104 168px,#f20204 176px,#d20204 184px,#b40204 192px,#990204 200px,#830204 208px,#740204 216px,#6a0204 224px,#680204 232px,#6a0204 240px,#6b0204 248px,#6a0204 256px,#6a0204 264px,#680204 272px,#630204 280px,#600204 288px,#5d0204 296px,#580204 304px,#530204 312px,#4e0204 320px,#490204 328px,#430204 336px,#3e0204 344px,#3a0204 352px,#350204 360px,#300204 368px,#2c0204 376px,#2b0204 384px,#2b0204 400px,#2c0204 408px,#2e0204 416px,#300204 424px,#310204 432px,#320204 440px,#320204 456px,#310204 464px,#2f0204 472px,#2e0204 480px,#2c0204 488px,#2b0204 496px,#290204 504px,#270204 512px,#260204 520px,#240204 528px,#220204 536px,#200204 544px,#1e0204 552px,#1d0204 555.4px)"></i><i style="top:243px;height:2.1px;background:linear-gradient(90deg,#ff9904 0px,#ffb104 8px,#ffcd04 16px,#ffe004 24px,#fff504 32px,#ffff08 40px,#ffff1c 48px,#ffff2a 56px,#ff3 64px,#ffff3d 72px,#ffff39 80px,#ffff2c 88px,#ffff19 96px,#fffc04 104px,#ffe604 112px,#ffc704 120px,#ffa304 128px,#ff8104 136px,#ff6304 144px,#ff4604 152px,#ff2904 160px,#ff0804 168px,#e90204 176px,#ca0204 184px,#ac0204 192px,#920204 200px,#7c0204 208px,#6e0204 216px,#640204 224px,#630204 232px,#650204 240px,#660204 248px,#670204 256px,#670204 264px,#650204 272px,#610204 280px,#5d0204 288px,#5a0204 296px,#560204 304px,#510204 312px,#4c0204 320px,#460204 328px,#410204 336px,#3c0204 344px,#370204 352px,#320204 360px,#2e0204 368px,#2a0204 376px,#280204 384px,#280204 392px,#290204 400px,#2a0204 408px,#2c0204 416px,#2d0204 424px,#2f0204 432px,#300204 440px,#300204 456px,#2f0204 464px,#2e0204 472px,#2c0204 480px,#2b0204 488px,#290204 496px,#270204 504px,#260204 512px,#240204 520px,#220204 528px,#200204 536px,#1e0204 544px,#1c0204 552px,#1c0204 555.4px)"></i><i style="top:244.5px;height:2.1px;background:linear-gradient(90deg,#ff8c04 0px,#ffa304 8px,#ffbf04 16px,#ffd204 24px,#ffe704 32px,#fff804 40px,#ffff09 48px,#ffff18 56px,#ffff21 64px,#ffff2c 72px,#ffff29 80px,#ffff1d 88px,#ffff0a 96px,#fff204 104px,#ffdd04 112px,#ffbd04 120px,#ff9a04 128px,#ff7704 136px,#ff5a04 144px,#ff3d04 152px,#ff1f04 160px,#fe0204 168px,#e00204 176px,#c10204 184px,#a40204 192px,#8a0204 200px,#750204 208px,#680204 216px,#5e0204 224px,#5e0204 232px,#600204 240px,#620204 248px,#630204 256px,#630204 264px,#620204 272px,#5e0204 280px,#5b0204 288px,#580204 296px,#530204 304px,#4e0204 312px,#490204 320px,#430204 328px,#3e0204 336px,#390204 344px,#340204 352px,#300204 360px,#2b0204 368px,#270204 376px,#260204 384px,#260204 392px,#270204 400px,#280204 408px,#290204 416px,#2b0204 424px,#2d0204 432px,#2e0204 440px,#2e0204 456px,#2d0204 464px,#2c0204 472px,#2b0204 480px,#290204 488px,#270204 496px,#260204 504px,#240204 512px,#230204 520px,#210204 528px,#1f0204 536px,#1d0204 544px,#1b0204 552px,#1a0204 555.4px)"></i><i style="top:246px;height:2.1px;background:linear-gradient(90deg,#ff7e04 0px,#ff9504 8px,#ffb104 16px,#ffc504 24px,#ffda04 32px,#ffeb04 40px,#fff904 48px,#ffff05 56px,#ffff0f 64px,#ffff1b 72px,#ffff19 80px,#ffff0d 88px,#fffb04 96px,#ffe804 104px,#ffd204 112px,#ffb304 120px,#ff9004 128px,#ff6e04 136px,#ff5004 144px,#ff3304 152px,#ff1604 160px,#f50204 168px,#d70204 176px,#b90204 184px,#9c0204 192px,#830204 200px,#6e0204 208px,#610204 216px,#580204 224px,#580204 232px,#5b0204 240px,#5d0204 248px,#5f0204 256px,#600204 264px,#5e0204 272px,#5b0204 280px,#580204 288px,#550204 296px,#500204 304px,#4c0204 312px,#470204 320px,#410204 328px,#3b0204 336px,#360204 344px,#320204 352px,#2d0204 360px,#290204 368px,#250204 376px,#240204 384px,#240204 392px,#250204 400px,#260204 408px,#270204 416px,#290204 424px,#2b0204 432px,#2c0204 440px,#2c0204 456px,#2b0204 464px,#2a0204 472px,#290204 480px,#270204 488px,#260204 496px,#240204 504px,#230204 512px,#210204 520px,#1f0204 528px,#1d0204 536px,#1c0204 544px,#190204 552px,#190204 555.4px)"></i><i style="top:247.5px;height:2.1px;background:linear-gradient(90deg,#ff7004 0px,#ff8704 8px,#ffa304 16px,#ffb704 24px,#ffcc04 32px,#ffdd04 40px,#ffec04 48px,#fff604 56px,#fffd04 64px,#ffff08 72px,#ffff07 80px,#fffc04 88px,#fff004 96px,#ffdd04 104px,#ffc704 112px,#ffa804 120px,#ff8504 128px,#ff6304 136px,#ff4604 144px,#ff2904 152px,#ff0c04 160px,#eb0204 168px,#ce0204 176px,#b00204 184px,#940204 192px,#7b0204 200px,#680204 208px,#5b0204 216px,#530204 224px,#530204 232px,#560204 240px,#590204 248px,#5b0204 256px,#5c0204 264px,#5b0204 272px,#580204 280px,#550204 288px,#520204 296px,#4d0204 304px,#490204 312px,#440204 320px,#3e0204 328px,#380204 336px,#340204 344px,#2f0204 352px,#2b0204 360px,#260204 368px,#230204 376px,#210204 384px,#220204 392px,#220204 400px,#230204 408px,#250204 416px,#270204 424px,#290204 432px,#2a0204 440px,#2a0204 464px,#280204 472px,#270204 480px,#260204 488px,#240204 496px,#230204 504px,#210204 512px,#200204 520px,#1e0204 528px,#1c0204 536px,#1a0204 544px,#180204 552px,#170204 555.4px)"></i><i style="top:249px;height:2.1px;background:linear-gradient(90deg,#ff6304 0px,#ff7904 8px,#ff9504 16px,#ffa804 24px,#ffbe04 32px,#ffd004 40px,#ffde04 48px,#ffe904 56px,#fff004 64px,#fff804 72px,#fff804 80px,#fff004 88px,#ffe404 96px,#ffd204 104px,#ffbc04 112px,#ff9d04 120px,#ff7b04 128px,#ff5904 136px,#ff3b04 144px,#ff1f04 152px,#ff0204 160px,#e20204 168px,#c50204 176px,#a70204 184px,#8c0204 192px,#740204 200px,#610204 208px,#550204 216px,#4d0204 224px,#4e0204 232px,#510204 240px,#550204 248px,#570204 256px,#580204 264px,#580204 272px,#550204 280px,#520204 288px,#4f0204 296px,#4b0204 304px,#460204 312px,#410204 320px,#3b0204 328px,#360204 336px,#310204 344px,#2d0204 352px,#280204 360px,#240204 368px,#200204 376px,#1f0204 384px,#1f0204 392px,#200204 400px,#210204 408px,#230204 416px,#250204 424px,#270204 432px,#280204 440px,#280204 464px,#260204 472px,#250204 480px,#240204 488px,#220204 496px,#210204 504px,#1f0204 512px,#1e0204 520px,#1c0204 528px,#1a0204 536px,#190204 544px,#170204 552px,#160204 555.4px)"></i><i style="top:250.5px;height:2.1px;background:linear-gradient(90deg,#ff5504 0px,#ff6b04 8px,#ff8604 16px,#ff9a04 24px,#ffb004 32px,#ffc204 40px,#ffd104 48px,#ffdb04 56px,#ffe304 64px,#ffeb04 72px,#ffeb04 80px,#ffe404 88px,#ffd804 96px,#ffc604 104px,#ffb004 112px,#ff9204 120px,#ff6f04 128px,#ff4e04 136px,#ff3104 144px,#ff1504 152px,#f70204 160px,#d80204 168px,#bc0204 176px,#9f0204 184px,#840204 192px,#6d0204 200px,#5b0204 208px,#4f0204 216px,#480204 224px,#490204 232px,#4c0204 240px,#500204 248px,#530204 256px,#540204 264px,#540204 272px,#510204 280px,#4f0204 288px,#4c0204 296px,#480204 304px,#430204 312px,#3e0204 320px,#380204 328px,#330204 336px,#2e0204 344px,#2a0204 352px,#260204 360px,#220204 368px,#1e0204 376px,#1d0204 384px,#1d0204 392px,#1e0204 400px,#1f0204 408px,#210204 416px,#230204 424px,#250204 432px,#260204 440px,#260204 464px,#250204 472px,#230204 480px,#220204 488px,#200204 496px,#1f0204 504px,#1e0204 512px,#1c0204 520px,#1b0204 528px,#190204 536px,#170204 544px,#150204 552px,#150204 555.4px)"></i><i style="top:252px;height:2.1px;background:linear-gradient(90deg,#ff4704 0px,#ff5d04 8px,#ff7804 16px,#ff8c04 24px,#ffa104 32px,#ffb404 40px,#ffc304 48px,#ffce04 56px,#ffd504 64px,#ffde04 72px,#ffde04 80px,#ffd704 88px,#ffcb04 96px,#ffb904 104px,#ffa404 112px,#ff8604 120px,#ff6404 128px,#ff4304 136px,#ff2604 144px,#ff0a04 152px,#ed0204 160px,#ce0204 168px,#b20204 176px,#960204 184px,#7d0204 192px,#660204 200px,#550204 208px,#4a0204 216px,#430204 224px,#440204 232px,#480204 240px,#4c0204 248px,#4e0204 256px,#510204 264px,#500204 272px,#4e0204 280px,#4c0204 288px,#490204 296px,#450204 304px,#400204 312px,#3b0204 320px,#350204 328px,#300204 336px,#2c0204 344px,#270204 352px,#230204 360px,#1f0204 368px,#1c0204 376px,#1b0204 384px,#1b0204 392px,#1c0204 400px,#1d0204 408px,#1f0204 416px,#210204 424px,#220204 432px,#240204 440px,#240204 464px,#230204 472px,#220204 480px,#200204 488px,#1f0204 496px,#1d0204 504px,#1c0204 512px,#1b0204 520px,#190204 528px,#170204 536px,#160204 544px,#140204 552px,#130204 555.4px)"></i><i style="top:253.5px;height:2.1px;background:linear-gradient(90deg,#ff3a04 0px,#ff4f04 8px,#ff6904 16px,#ff7d04 24px,#ff9304 32px,#ffa604 40px,#ffb504 48px,#ffc004 56px,#ffc704 64px,#ffd004 72px,#ffd104 80px,#ffca04 88px,#ffbf04 96px,#ffad04 104px,#ff9704 112px,#ff7a04 120px,#ff5804 128px,#ff3704 136px,#ff1b04 144px,#fe0204 152px,#e30204 160px,#c50204 168px,#a90204 176px,#8e0204 184px,#750204 192px,#600204 200px,#4f0204 208px,#440204 216px,#3e0204 224px,#3f0204 232px,#430204 240px,#470204 248px,#4a0204 256px,#4d0204 264px,#4d0204 272px,#4b0204 280px,#490204 288px,#460204 296px,#410204 304px,#3d0204 312px,#380204 320px,#320204 328px,#2d0204 336px,#290204 344px,#250204 352px,#210204 360px,#1d0204 368px,#1a0204 376px,#190204 384px,#190204 392px,#1a0204 400px,#1b0204 408px,#1d0204 416px,#1e0204 424px,#200204 432px,#220204 440px,#220204 464px,#210204 472px,#200204 480px,#1e0204 488px,#1d0204 496px,#1c0204 504px,#1a0204 512px,#190204 520px,#170204 528px,#160204 536px,#140204 544px,#120204 552px,#120204 555.4px)"></i><i style="top:255px;height:2.1px;background:linear-gradient(90deg,#ff2c04 0px,#ff4104 8px,#ff5b04 16px,#ff6f04 24px,#ff8404 32px,#ff9704 40px,#ffa704 48px,#ffb204 56px,#ffb904 64px,#ffc204 72px,#ffc304 80px,#ffbd04 88px,#ffb204 96px,#ffa004 104px,#ff8b04 112px,#ff6d04 120px,#ff4c04 128px,#ff2c04 136px,#ff0f04 144px,#f40204 152px,#d80204 160px,#bb0204 168px,#a00204 176px,#860204 184px,#6e0204 192px,#590204 200px,#490204 208px,#3f0204 216px,#390204 224px,#3b0204 232px,#3f0204 240px,#430204 248px,#460204 256px,#490204 264px,#490204 272px,#470204 280px,#450204 288px,#430204 296px,#3e0204 304px,#3a0204 312px,#350204 320px,#300204 328px,#2b0204 336px,#260204 344px,#220204 352px,#1f0204 360px,#1b0204 368px,#180204 376px,#170204 384px,#170204 392px,#180204 400px,#190204 408px,#1b0204 416px,#1c0204 424px,#1e0204 432px,#200204 440px,#200204 448px,#210204 456px,#200204 464px,#1f0204 472px,#1e0204 480px,#1d0204 488px,#1b0204 496px,#1a0204 504px,#190204 512px,#170204 520px,#160204 528px,#140204 536px,#130204 544px,#110204 552px,#110204 555.4px)"></i><i style="top:256.5px;height:2.1px;background:linear-gradient(90deg,#ff1f04 0px,#ff3304 8px,#ff4d04 16px,#ff6004 24px,#ff7604 32px,#ff8904 40px,#ff9904 48px,#ffa404 56px,#ffab04 64px,#ffb504 72px,#ffb604 80px,#ffb004 88px,#ffa504 96px,#ff9304 104px,#ff7e04 112px,#ff6104 120px,#ff4004 128px,#ff2004 136px,#ff0404 144px,#e90204 152px,#ce0204 160px,#b10204 168px,#980204 176px,#7e0204 184px,#670204 192px,#530204 200px,#430204 208px,#3a0204 216px,#350204 224px,#360204 232px,#3a0204 240px,#3f0204 248px,#420204 256px,#450204 264px,#450204 272px,#440204 280px,#420204 288px,#3f0204 296px,#3b0204 304px,#370204 312px,#320204 320px,#2d0204 328px,#280204 336px,#240204 344px,#200204 352px,#1c0204 360px,#190204 368px,#160204 376px,#150204 384px,#150204 392px,#160204 400px,#170204 408px,#190204 416px,#1a0204 424px,#1c0204 432px,#1e0204 440px,#1e0204 448px,#1f0204 456px,#1e0204 464px,#1d0204 472px,#1c0204 480px,#1b0204 488px,#1a0204 496px,#180204 504px,#170204 512px,#160204 520px,#140204 528px,#130204 536px,#110204 544px,#100204 552px,#0f0204 555.4px)"></i><i style="top:258px;height:2.1px;background:linear-gradient(90deg,#ff1204 0px,#ff2504 8px,#ff3f04 16px,#ff5204 24px,#ff6804 32px,#ff7b04 40px,#ff8b04 48px,#ff9504 56px,#ff9d04 64px,#ffa604 72px,#ffa804 80px,#ffa204 88px,#ff9704 96px,#ff8604 104px,#ff7104 112px,#ff5404 120px,#ff3404 128px,#ff1504 136px,#f80204 144px,#de0204 152px,#c40204 160px,#a80204 168px,#8f0204 176px,#760204 184px,#600204 192px,#4d0204 200px,#3e0204 208px,#350204 216px,#300204 224px,#320204 232px,#360204 240px,#3b0204 248px,#3e0204 256px,#410204 264px,#420204 272px,#400204 280px,#3f0204 288px,#3c0204 296px,#380204 304px,#340204 312px,#2f0204 320px,#2a0204 328px,#260204 336px,#220204 344px,#1e0204 352px,#1a0204 360px,#170204 368px,#140204 376px,#140204 400px,#150204 408px,#170204 416px,#190204 424px,#1a0204 432px,#1c0204 440px,#1c0204 448px,#1d0204 456px,#1c0204 464px,#1b0204 472px,#1a0204 480px,#190204 488px,#180204 496px,#170204 504px,#160204 512px,#140204 520px,#130204 528px,#120204 536px,#100204 544px,#0f0204 552px,#0e0204 555.4px)"></i><i style="top:259.5px;height:2.1px;background:linear-gradient(90deg,#ff0504 0px,#ff1804 8px,#ff3104 16px,#ff4404 24px,#ff5904 32px,#ff6c04 40px,#ff7d04 48px,#ff8704 56px,#ff8f04 64px,#ff9804 72px,#ff9a04 80px,#ff9504 88px,#ff8a04 96px,#ff7904 104px,#ff6304 112px,#ff4704 120px,#ff2804 128px,#ff0904 136px,#ed0204 144px,#d40204 152px,#ba0204 160px,#9f0204 168px,#870204 176px,#6e0204 184px,#5a0204 192px,#470204 200px,#390204 208px,#310204 216px,#2c0204 224px,#2e0204 232px,#320204 240px,#370204 248px,#3b0204 256px,#3e0204 264px,#3e0204 272px,#3d0204 280px,#3b0204 288px,#390204 296px,#350204 304px,#310204 312px,#2d0204 320px,#280204 328px,#230204 336px,#1f0204 344px,#1c0204 352px,#180204 360px,#150204 368px,#130204 376px,#120204 384px,#120204 392px,#130204 400px,#140204 408px,#150204 416px,#170204 424px,#190204 432px,#1a0204 440px,#1a0204 448px,#1b0204 456px,#1a0204 464px,#190204 472px,#190204 480px,#170204 488px,#160204 496px,#150204 504px,#140204 512px,#130204 520px,#120204 528px,#100204 536px,#0f0204 544px,#0d0204 552px,#0d0204 555.4px)"></i><i style="top:261px;height:2.1px;background:linear-gradient(90deg,#f70204 0px,#ff0b04 8px,#ff2304 16px,#ff3604 24px,#ff4b04 32px,#ff5e04 40px,#ff6e04 48px,#ff7904 56px,#ff8104 64px,#ff8a04 72px,#ff8c04 80px,#ff8704 88px,#ff7c04 96px,#ff6b04 104px,#ff5604 112px,#ff3b04 120px,#ff1c04 128px,#fc0204 136px,#e20204 144px,#c90204 152px,#b10204 160px,#960204 168px,#7e0204 176px,#670204 184px,#530204 192px,#420204 200px,#350204 208px,#2d0204 216px,#290204 224px,#2a0204 232px,#2e0204 240px,#330204 248px,#370204 256px,#3a0204 264px,#3b0204 272px,#3a0204 280px,#380204 288px,#360204 296px,#320204 304px,#2e0204 312px,#2a0204 320px,#250204 328px,#210204 336px,#1d0204 344px,#1a0204 352px,#170204 360px,#130204 368px,#110204 376px,#100204 384px,#110204 392px,#110204 400px,#120204 408px,#130204 416px,#150204 424px,#170204 432px,#180204 440px,#190204 448px,#190204 464px,#180204 472px,#170204 480px,#160204 488px,#150204 496px,#140204 504px,#130204 512px,#120204 520px,#100204 528px,#0f0204 536px,#0e0204 544px,#0d0204 552px,#0d0204 555.4px)"></i><i style="top:262.5px;height:2.1px;background:linear-gradient(90deg,#eb0204 0px,#fd0204 8px,#ff1604 16px,#ff2804 24px,#ff3d04 32px,#ff5004 40px,#ff6004 48px,#ff6b04 56px,#ff7304 64px,#ff7c04 72px,#ff7f04 80px,#ff7a04 88px,#ff6f04 96px,#ff5e04 104px,#ff4904 112px,#ff2e04 120px,#ff1004 128px,#f10204 136px,#d70204 144px,#bf0204 152px,#a70204 160px,#8d0204 168px,#770204 176px,#600204 184px,#4e0204 192px,#3d0204 200px,#300204 208px,#290204 216px,#250204 224px,#270204 232px,#2b0204 240px,#300204 248px,#330204 256px,#360204 264px,#370204 272px,#360204 280px,#350204 288px,#330204 296px,#2f0204 304px,#2b0204 312px,#270204 320px,#230204 328px,#1e0204 336px,#1b0204 344px,#180204 352px,#150204 360px,#120204 368px,#100204 376px,#0f0204 384px,#0f0204 392px,#100204 400px,#110204 408px,#120204 416px,#130204 424px,#150204 432px,#160204 440px,#170204 448px,#170204 464px,#160204 472px,#150204 480px,#140204 488px,#130204 496px,#120204 504px,#110204 512px,#100204 520px,#0f0204 528px,#0e0204 536px,#0d0204 544px,#0d0204 555.4px)"></i><i style="top:264px;height:2.1px;background:linear-gradient(90deg,#df0204 0px,#f00204 8px,#ff0904 16px,#ff1b04 24px,#ff2f04 32px,#ff4204 40px,#ff5204 48px,#ff5d04 56px,#ff6504 64px,#ff6f04 72px,#ff7104 80px,#ff6c04 88px,#ff6204 96px,#ff5104 104px,#ff3d04 112px,#ff2204 120px,#ff0404 128px,#e60204 136px,#cd0204 144px,#b60204 152px,#9e0204 160px,#850204 168px,#6f0204 176px,#5a0204 184px,#480204 192px,#380204 200px,#2c0204 208px,#250204 216px,#220204 224px,#240204 232px,#280204 240px,#2c0204 248px,#300204 256px,#330204 264px,#340204 272px,#330204 280px,#320204 288px,#300204 296px,#2c0204 304px,#290204 312px,#250204 320px,#200204 328px,#1c0204 336px,#190204 344px,#160204 352px,#130204 360px,#100204 368px,#0e0204 376px,#0e0204 400px,#0f0204 408px,#100204 416px,#120204 424px,#130204 432px,#150204 440px,#150204 448px,#160204 456px,#150204 464px,#140204 472px,#140204 480px,#130204 488px,#120204 496px,#110204 504px,#100204 512px,#0f0204 520px,#0e0204 528px,#0d0204 536px,#0d0204 555.4px)"></i><i style="top:265.5px;height:2.1px;background:linear-gradient(90deg,#d30204 0px,#e40204 8px,#fb0204 16px,#ff0e04 24px,#ff2204 32px,#ff3504 40px,#ff4504 48px,#ff4f04 56px,#ff5804 64px,#ff6104 72px,#ff6404 80px,#ff5f04 88px,#ff5504 96px,#ff4404 104px,#ff3004 112px,#ff1604 120px,#f70204 128px,#db0204 136px,#c30204 144px,#ac0204 152px,#950204 160px,#7d0204 168px,#680204 176px,#540204 184px,#430204 192px,#340204 200px,#290204 208px,#220204 216px,#1f0204 224px,#210204 232px,#250204 240px,#290204 248px,#2d0204 256px,#300204 264px,#310204 272px,#300204 280px,#2f0204 288px,#2d0204 296px,#2a0204 304px,#260204 312px,#220204 320px,#1e0204 328px,#1a0204 336px,#170204 344px,#140204 352px,#110204 360px,#0f0204 368px,#0d0204 376px,#0d0204 400px,#0e0204 408px,#0f0204 416px,#100204 424px,#120204 432px,#130204 440px,#140204 448px,#140204 464px,#130204 472px,#120204 480px,#110204 488px,#100204 496px,#0f0204 504px,#0f0204 512px,#0e0204 520px,#0d0204 528px,#0d0204 555.4px)"></i><i style="top:267px;height:2.1px;background:linear-gradient(90deg,#c80204 0px,#d90204 8px,#ef0204 16px,#ff0204 24px,#ff1504 32px,#ff2704 40px,#ff3704 48px,#ff4204 56px,#ff4a04 64px,#ff5404 72px,#ff5704 80px,#ff5204 88px,#ff4804 96px,#ff3804 104px,#ff2304 112px,#ff0a04 120px,#ec0204 128px,#d10204 136px,#b90204 144px,#a30204 152px,#8d0204 160px,#760204 168px,#620204 176px,#4e0204 184px,#3e0204 192px,#300204 200px,#250204 208px,#1f0204 216px,#1c0204 224px,#1e0204 232px,#220204 240px,#260204 248px,#2a0204 256px,#2d0204 264px,#2e0204 272px,#2d0204 280px,#2c0204 288px,#2a0204 296px,#270204 304px,#240204 312px,#200204 320px,#1c0204 328px,#180204 336px,#150204 344px,#130204 352px,#100204 360px,#0e0204 368px,#0d0204 376px,#0d0204 408px,#0e0204 416px,#0f0204 424px,#100204 432px,#110204 440px,#120204 448px,#120204 464px,#110204 472px,#110204 480px,#100204 488px,#0f0204 496px,#0e0204 504px,#0d0204 512px,#0d0204 555.4px)"></i><i style="top:268.5px;height:2.1px;background:linear-gradient(90deg,#be0204 0px,#ce0204 8px,#e30204 16px,#f40204 24px,#ff0804 32px,#ff1a04 40px,#ff2a04 48px,#ff3404 56px,#ff3d04 64px,#ff4704 72px,#ff4a04 80px,#ff4604 88px,#ff3c04 96px,#ff2b04 104px,#ff1704 112px,#fd0204 120px,#e10204 128px,#c60204 136px,#af0204 144px,#9a0204 152px,#850204 160px,#6f0204 168px,#5b0204 176px,#490204 184px,#3a0204 192px,#2c0204 200px,#220204 208px,#1c0204 216px,#1a0204 224px,#1b0204 232px,#1f0204 240px,#230204 248px,#270204 256px,#2a0204 264px,#2b0204 272px,#2b0204 280px,#2a0204 288px,#280204 296px,#250204 304px,#210204 312px,#1e0204 320px,#1a0204 328px,#170204 336px,#140204 344px,#110204 352px,#0f0204 360px,#0d0204 368px,#0d0204 416px,#0e0204 424px,#0f0204 432px,#100204 440px,#110204 448px,#110204 464px,#100204 472px,#0f0204 480px,#0f0204 488px,#0e0204 496px,#0d0204 504px,#0d0204 555.4px)"></i><i style="top:270px;height:2.1px;background:linear-gradient(90deg,#b40204 0px,#c30204 8px,#d80204 16px,#e80204 24px,#fb0204 32px,#ff0d04 40px,#ff1d04 48px,#ff2804 56px,#ff3004 64px,#ff3a04 72px,#ff3d04 80px,#ff3904 88px,#ff3004 96px,#ff1f04 104px,#ff0c04 112px,#f20204 120px,#d70204 128px,#bd0204 136px,#a60204 144px,#920204 152px,#7d0204 160px,#680204 168px,#560204 176px,#440204 184px,#360204 192px,#290204 200px,#1f0204 208px,#1a0204 216px,#170204 224px,#190204 232px,#1d0204 240px,#210204 248px,#240204 256px,#270204 264px,#280204 272px,#280204 280px,#270204 288px,#250204 296px,#220204 304px,#1f0204 312px,#1c0204 320px,#180204 328px,#150204 336px,#120204 344px,#100204 352px,#0e0204 360px,#0d0204 368px,#0d0204 424px,#0e0204 432px,#0f0204 440px,#0f0204 448px,#100204 456px,#0f0204 464px,#0f0204 472px,#0e0204 480px,#0d0204 488px,#0d0204 555.4px)"></i><i style="top:271.5px;height:2.1px;background:linear-gradient(90deg,#ab0204 0px,#b90204 8px,#cd0204 16px,#dd0204 24px,#ee0204 32px,#ff0204 40px,#ff1004 48px,#ff1b04 56px,#ff2404 64px,#ff2e04 72px,#ff3204 80px,#ff2e04 88px,#ff2404 96px,#ff1404 104px,#ff0204 112px,#e70204 120px,#cd0204 128px,#b30204 136px,#9e0204 144px,#8a0204 152px,#760204 160px,#620204 168px,#500204 176px,#3f0204 184px,#320204 192px,#260204 200px,#1d0204 208px,#180204 216px,#150204 224px,#170204 232px,#1b0204 240px,#1f0204 248px,#220204 256px,#250204 264px,#260204 272px,#260204 280px,#250204 288px,#230204 296px,#200204 304px,#1d0204 312px,#1a0204 320px,#160204 328px,#130204 336px,#110204 344px,#0e0204 352px,#0d0204 360px,#0d0204 432px,#0e0204 440px,#0e0204 472px,#0d0204 480px,#0d0204 555.4px)"></i><i style="top:273px;height:2.1px;background:linear-gradient(90deg,#a20204 0px,#b00204 8px,#c30204 16px,#d20204 24px,#e30204 32px,#f30204 40px,#ff0304 48px,#ff0f04 56px,#ff1804 64px,#ff2204 72px,#ff2604 80px,#ff2304 88px,#ff1904 96px,#ff0904 104px,#f50204 112px,#dd0204 120px,#c30204 128px,#aa0204 136px,#950204 144px,#830204 152px,#700204 160px,#5c0204 168px,#4b0204 176px,#3b0204 184px,#2f0204 192px,#230204 200px,#1b0204 208px,#160204 216px,#140204 224px,#150204 232px,#190204 240px,#1d0204 248px,#200204 256px,#220204 264px,#230204 272px,#230204 280px,#220204 288px,#210204 296px,#1e0204 304px,#1b0204 312px,#180204 320px,#150204 328px,#120204 336px,#0f0204 344px,#0d0204 352px,#0d0204 555.4px)"></i><i style="top:274.5px;height:2.1px;background:linear-gradient(90deg,#990204 0px,#a70204 8px,#ba0204 16px,#c80204 24px,#d80204 32px,#e70204 40px,#f60204 48px,#ff0304 56px,#ff0d04 64px,#ff1704 72px,#ff1b04 80px,#ff1804 88px,#ff0e04 96px,#fe0204 104px,#eb0204 112px,#d30204 120px,#ba0204 128px,#a20204 136px,#8e0204 144px,#7c0204 152px,#6a0204 160px,#570204 168px,#470204 176px,#380204 184px,#2c0204 192px,#210204 200px,#190204 208px,#140204 216px,#120204 224px,#140204 232px,#170204 240px,#1b0204 248px,#1e0204 256px,#200204 264px,#210204 272px,#210204 280px,#200204 288px,#1f0204 296px,#1c0204 304px,#190204 312px,#170204 320px,#130204 328px,#110204 336px,#0e0204 344px,#0d0204 352px,#0d0204 555.4px)"></i><i style="top:276px;height:2.1px;background:linear-gradient(90deg,#920204 0px,#9f0204 8px,#b10204 16px,#be0204 24px,#cd0204 32px,#dc0204 40px,#ea0204 48px,#f60204 56px,#ff0204 64px,#ff0d04 72px,#ff1104 80px,#ff0e04 88px,#ff0404 96px,#f40204 104px,#e10204 112px,#ca0204 120px,#b10204 128px,#9a0204 136px,#870204 144px,#750204 152px,#640204 160px,#520204 168px,#430204 176px,#350204 184px,#290204 192px,#1f0204 200px,#170204 208px,#130204 216px,#110204 224px,#120204 232px,#160204 240px,#190204 248px,#1c0204 256px,#1e0204 264px,#1f0204 272px,#1f0204 288px,#1d0204 296px,#1a0204 304px,#180204 312px,#150204 320px,#120204 328px,#100204 336px,#0d0204 344px,#0d0204 555.4px)"></i><i style="top:277.5px;height:2.1px;background:linear-gradient(90deg,#8b0204 0px,#970204 8px,#a80204 16px,#b50204 24px,#c30204 32px,#d10204 40px,#df0204 48px,#eb0204 56px,#f70204 64px,#ff0304 72px,#ff0804 80px,#ff0504 88px,#fa0204 96px,#eb0204 104px,#d80204 112px,#c20204 120px,#aa0204 128px,#930204 136px,#800204 144px,#700204 152px,#5f0204 160px,#4e0204 168px,#400204 176px,#320204 184px,#270204 192px,#1e0204 200px,#160204 208px,#120204 216px,#100204 224px,#110204 232px,#140204 240px,#180204 248px,#1b0204 256px,#1d0204 264px,#1e0204 272px,#1e0204 280px,#1d0204 288px,#1b0204 296px,#190204 304px,#160204 312px,#140204 320px,#110204 328px,#0f0204 336px,#0d0204 344px,#0d0204 555.4px)"></i><i style="top:279px;height:2.1px;background:linear-gradient(90deg,#840204 0px,#910204 8px,#a10204 16px,#ad0204 24px,#b90204 32px,#c60204 40px,#d40204 48px,#e10204 56px,#ed0204 64px,#f90204 72px,#fe0204 80px,#fb0204 88px,#f20204 96px,#e20204 104px,#d00204 112px,#ba0204 120px,#a20204 128px,#8d0204 136px,#7b0204 144px,#6b0204 152px,#5b0204 160px,#4b0204 168px,#3d0204 176px,#300204 184px,#260204 192px,#1c0204 200px,#150204 208px,#110204 216px,#0f0204 224px,#100204 232px,#130204 240px,#170204 248px,#190204 256px,#1b0204 264px,#1c0204 272px,#1c0204 280px,#1b0204 288px,#1a0204 296px,#180204 304px,#150204 312px,#130204 320px,#100204 328px,#0e0204 336px,#0d0204 344px,#0d0204 555.4px)"></i><i style="top:280.5px;height:2.1px;background:linear-gradient(90deg,#7f0204 0px,#8a0204 8px,#9a0204 16px,#a50204 24px,#b00204 32px,#bc0204 40px,#c90204 48px,#d70204 56px,#e40204 64px,#f00204 72px,#f60204 80px,#f30204 88px,#ea0204 96px,#da0204 104px,#c80204 112px,#b20204 120px,#9b0204 128px,#860204 136px,#750204 144px,#660204 152px,#570204 160px,#480204 168px,#3b0204 176px,#2e0204 184px,#250204 192px,#1b0204 200px,#140204 208px,#100204 216px,#0e0204 224px,#100204 232px,#130204 240px,#160204 248px,#180204 256px,#1a0204 264px,#1b0204 272px,#1b0204 280px,#1a0204 288px,#190204 296px,#160204 304px,#140204 312px,#120204 320px,#0f0204 328px,#0d0204 336px,#0d0204 555.4px)"></i><i style="top:282px;height:2.1px;background:linear-gradient(90deg,#7a0204 0px,#850204 8px,#930204 16px,#9d0204 24px,#a70204 32px,#b20204 40px,#bf0204 48px,#cd0204 56px,#db0204 64px,#e80204 72px,#ef0204 80px,#ec0204 88px,#e30204 96px,#d30204 104px,#c10204 112px,#ac0204 120px,#950204 128px,#810204 136px,#710204 144px,#620204 152px,#540204 160px,#450204 168px,#390204 176px,#2d0204 184px,#240204 192px,#1b0204 200px,#140204 208px,#100204 216px,#0e0204 224px,#0f0204 232px,#120204 240px,#150204 248px,#180204 256px,#190204 264px,#1a0204 272px,#1a0204 280px,#190204 288px,#180204 296px,#150204 304px,#130204 312px,#110204 320px,#0f0204 328px,#0d0204 336px,#0d0204 555.4px)"></i><i style="top:283.5px;height:2.1px;background:linear-gradient(90deg,#750204 0px,#800204 8px,#8d0204 16px,#970204 24px,#9f0204 32px,#a80204 40px,#b50204 48px,#c40204 56px,#d30204 64px,#e10204 72px,#e80204 80px,#e60204 88px,#dc0204 96px,#cd0204 104px,#bb0204 112px,#a50204 120px,#900204 128px,#7c0204 136px,#6d0204 144px,#5f0204 152px,#510204 160px,#430204 168px,#380204 176px,#2c0204 184px,#230204 192px,#1b0204 200px,#130204 208px,#0f0204 216px,#0d0204 224px,#0f0204 232px,#120204 240px,#150204 248px,#170204 256px,#180204 264px,#190204 272px,#190204 280px,#180204 288px,#170204 296px,#150204 304px,#120204 312px,#100204 320px,#0e0204 328px,#0d0204 336px,#0d0204 555.4px)"></i><i style="top:285px;height:2.1px;background:linear-gradient(90deg,#720204 0px,#7c0204 8px,#880204 16px,#900204 24px,#970204 32px,#9e0204 40px,#ab0204 48px,#bb0204 56px,#cc0204 64px,#db0204 72px,#e20204 80px,#e00204 88px,#d70204 96px,#c70204 104px,#b50204 112px,#a00204 120px,#8a0204 128px,#780204 136px,#690204 144px,#5c0204 152px,#4f0204 160px,#420204 168px,#370204 176px,#2c0204 184px,#230204 192px,#1a0204 200px,#130204 208px,#0f0204 216px,#0d0204 224px,#0f0204 232px,#120204 240px,#140204 248px,#170204 256px,#180204 264px,#180204 280px,#170204 288px,#160204 296px,#140204 304px,#120204 312px,#100204 320px,#0e0204 328px,#0d0204 336px,#0d0204 555.4px)"></i><i style="top:286.5px;height:2.1px;background:linear-gradient(90deg,#6e0204 0px,#780204 8px,#840204 16px,#8a0204 24px,#8f0204 32px,#950204 40px,#a20204 48px,#b30204 56px,#c50204 64px,#d50204 72px,#dd0204 80px,#db0204 88px,#d20204 96px,#c20204 104px,#b00204 112px,#9b0204 120px,#860204 128px,#740204 136px,#660204 144px,#5a0204 152px,#4e0204 160px,#410204 168px,#360204 176px,#2c0204 184px,#230204 192px,#1b0204 200px,#130204 208px,#0f0204 216px,#0d0204 224px,#0f0204 232px,#120204 240px,#140204 248px,#160204 256px,#170204 264px,#180204 272px,#170204 280px,#170204 288px,#150204 296px,#130204 304px,#110204 312px,#0f0204 320px,#0d0204 328px,#0d0204 555.4px)"></i><i style="top:288px;height:2.1px;background:linear-gradient(90deg,#6c0204 0px,#750204 8px,#800204 16px,#850204 24px,#880204 32px,#8c0204 40px,#980204 48px,#ab0204 56px,#bf0204 64px,#d00204 72px,#d90204 80px,#d70204 88px,#cd0204 96px,#be0204 104px,#ab0204 112px,#960204 120px,#820204 128px,#700204 136px,#630204 144px,#580204 152px,#4d0204 160px,#410204 168px,#360204 176px,#2c0204 184px,#240204 192px,#1b0204 200px,#140204 208px,#0f0204 216px,#0d0204 224px,#0f0204 232px,#120204 240px,#140204 248px,#160204 256px,#170204 264px,#180204 272px,#170204 280px,#160204 288px,#150204 296px,#130204 304px,#110204 312px,#0f0204 320px,#0d0204 328px,#0d0204 555.4px)"></i><i style="top:289.5px;height:2.1px;background:linear-gradient(90deg,#6a0204 0px,#730204 8px,#7c0204 16px,#800204 24px,#810204 32px,#840204 40px,#8f0204 48px,#a30204 56px,#b90204 64px,#cb0204 72px,#d50204 80px,#d40204 88px,#ca0204 96px,#ba0204 104px,#a80204 112px,#920204 120px,#7e0204 128px,#6d0204 136px,#610204 144px,#570204 152px,#4c0204 160px,#410204 168px,#370204 176px,#2d0204 184px,#240204 192px,#1c0204 200px,#140204 208px,#0f0204 216px,#0d0204 224px,#0f0204 232px,#120204 240px,#150204 248px,#160204 256px,#170204 264px,#170204 280px,#160204 288px,#150204 296px,#130204 304px,#110204 312px,#0f0204 320px,#0d0204 328px,#0d0204 555.4px)"></i><i style="top:291px;height:2.1px;background:linear-gradient(90deg,#680204 0px,#710204 8px,#790204 16px,#7c0204 24px,#7a0204 32px,#7b0204 40px,#860204 48px,#9c0204 56px,#b40204 64px,#c70204 72px,#d20204 80px,#d10204 88px,#c70204 96px,#b70204 104px,#a40204 112px,#8f0204 120px,#7a0204 128px,#6a0204 136px,#5f0204 144px,#560204 152px,#4c0204 160px,#410204 168px,#370204 176px,#2e0204 184px,#250204 192px,#1c0204 200px,#140204 208px,#0f0204 216px,#0d0204 224px,#0f0204 232px,#120204 240px,#150204 248px,#170204 256px,#170204 280px,#160204 288px,#150204 296px,#130204 304px,#110204 312px,#0f0204 320px,#0d0204 328px,#0d0204 555.4px)"></i><i style="top:292.5px;height:2.1px;background:linear-gradient(90deg,#670204 0px,#6f0204 8px,#770204 16px,#780204 24px,#740204 32px,#720204 40px,#7d0204 48px,#950204 56px,#af0204 64px,#c40204 72px,#d00204 80px,#cf0204 88px,#c50204 96px,#b40204 104px,#a10204 112px,#8b0204 120px,#760204 128px,#670204 136px,#5d0204 144px,#550204 152px,#4c0204 160px,#420204 168px,#380204 176px,#2f0204 184px,#260204 192px,#1d0204 200px,#150204 208px,#0f0204 216px,#0d0204 224px,#0f0204 232px,#130204 240px,#160204 248px,#170204 256px,#180204 264px,#180204 272px,#170204 280px,#160204 288px,#150204 296px,#130204 304px,#110204 312px,#0f0204 320px,#0d0204 328px,#0d0204 555.4px)"></i><i style="top:294px;height:2.1px;background:linear-gradient(90deg,#660204 0px,#6e0204 8px,#750204 16px,#740204 24px,#6d0204 32px,#6a0204 40px,#740204 48px,#8d0204 56px,#aa0204 64px,#c10204 72px,#cd0204 80px,#cd0204 88px,#c30204 96px,#b20204 104px,#9e0204 112px,#880204 120px,#730204 128px,#640204 136px,#5b0204 144px,#540204 152px,#4c0204 160px,#420204 168px,#390204 176px,#300204 184px,#270204 192px,#1e0204 200px,#150204 208px,#0f0204 216px,#0d0204 224px,#0f0204 232px,#130204 240px,#160204 248px,#180204 256px,#180204 272px,#170204 280px,#160204 288px,#150204 296px,#130204 304px,#110204 312px,#0f0204 320px,#0d0204 328px,#0d0204 555.4px)"></i><i style="top:295.5px;height:2.1px;background:linear-gradient(90deg,#660204 0px,#6d0204 8px,#730204 16px,#700204 24px,#670204 32px,#610204 40px,#6b0204 48px,#860204 56px,#a50204 64px,#be0204 72px,#cc0204 80px,#cc0204 88px,#c10204 96px,#b00204 104px,#9c0204 112px,#840204 120px,#6f0204 128px,#610204 136px,#5a0204 144px,#540204 152px,#4d0204 160px,#430204 168px,#3b0204 176px,#320204 184px,#290204 192px,#1f0204 200px,#160204 208px,#0f0204 216px,#0d0204 224px,#100204 232px,#140204 240px,#170204 248px,#180204 256px,#180204 272px,#170204 280px,#160204 288px,#150204 296px,#130204 304px,#110204 312px,#100204 320px,#0e0204 328px,#0d0204 336px,#0d0204 555.4px)"></i><i style="top:297px;height:2.1px;background:linear-gradient(90deg,#650204 0px,#6c0204 8px,#710204 16px,#6c0204 24px,#610204 32px,#580204 40px,#630204 48px,#7f0204 56px,#a10204 64px,#bc0204 72px,#ca0204 80px,#ca0204 88px,#bf0204 96px,#ae0204 104px,#990204 112px,#810204 120px,#6c0204 128px,#5e0204 136px,#580204 144px,#540204 152px,#4d0204 160px,#450204 168px,#3c0204 176px,#330204 184px,#2a0204 192px,#200204 200px,#160204 208px,#0f0204 216px,#0d0204 224px,#100204 232px,#140204 240px,#170204 248px,#190204 256px,#190204 272px,#180204 280px,#170204 288px,#150204 296px,#130204 304px,#120204 312px,#100204 320px,#0e0204 328px,#0d0204 336px,#0d0204 555.4px)"></i><i style="top:298.5px;height:2.1px;background:linear-gradient(90deg,#650204 0px,#6c0204 8px,#6f0204 16px,#690204 24px,#5a0204 32px,#500204 40px,#5a0204 48px,#780204 56px,#9d0204 64px,#b90204 72px,#c90204 80px,#c90204 88px,#be0204 96px,#ad0204 104px,#960204 112px,#7d0204 120px,#680204 128px,#5b0204 136px,#560204 144px,#530204 152px,#4e0204 160px,#460204 168px,#3e0204 176px,#350204 184px,#2b0204 192px,#210204 200px,#160204 208px,#0f0204 216px,#0d0204 224px,#100204 232px,#140204 240px,#180204 248px,#190204 256px,#190204 272px,#180204 280px,#170204 288px,#150204 296px,#140204 304px,#120204 312px,#100204 320px,#0e0204 328px,#0d0204 336px,#0d0204 555.4px)"></i><i style="top:300px;height:2.1px;background:linear-gradient(90deg,#650204 0px,#6b0204 8px,#6e0204 16px,#650204 24px,#540204 32px,#470204 40px,#510204 48px,#710204 56px,#980204 64px,#b70204 72px,#c80204 80px,#c90204 88px,#bd0204 96px,#ab0204 104px,#940204 112px,#7a0204 120px,#630204 128px,#570204 136px,#540204 144px,#530204 152px,#4f0204 160px,#470204 168px,#3f0204 176px,#360204 184px,#2d0204 192px,#210204 200px,#170204 208px,#0f0204 216px,#0d0204 224px,#100204 232px,#150204 240px,#190204 248px,#1a0204 256px,#1a0204 272px,#190204 280px,#170204 288px,#160204 296px,#140204 304px,#120204 312px,#100204 320px,#0f0204 328px,#0d0204 336px,#0d0204 555.4px)"></i><i style="top:301.5px;height:2.1px;background:linear-gradient(90deg,#650204 0px,#6b0204 8px,#6c0204 16px,#620204 24px,#4e0204 32px,#3f0204 40px,#480204 48px,#6a0204 56px,#940204 64px,#b40204 72px,#c60204 80px,#c80204 88px,#bc0204 96px,#a90204 104px,#910204 112px,#750204 120px,#5e0204 128px,#520204 136px,#510204 144px,#520204 152px,#4f0204 160px,#480204 168px,#400204 176px,#380204 184px,#2e0204 192px,#220204 200px,#170204 208px,#0f0204 216px,#0d0204 224px,#100204 232px,#150204 240px,#190204 248px,#1b0204 256px,#1a0204 264px,#1a0204 272px,#190204 280px,#180204 288px,#160204 296px,#140204 304px,#120204 312px,#110204 320px,#0f0204 328px,#0d0204 336px,#0d0204 555.4px)"></i><i style="top:303px;height:2.1px;background:linear-gradient(90deg,#650204 0px,#6a0204 8px,#6b0204 16px,#5f0204 24px,#480204 32px,#360204 40px,#3f0204 48px,#640204 56px,#900204 64px,#b20204 72px,#c50204 80px,#c60204 88px,#bb0204 96px,#a70204 104px,#8e0204 112px,#710204 120px,#590204 128px,#4e0204 136px,#4e0204 144px,#510204 152px,#4f0204 160px,#490204 168px,#420204 176px,#390204 184px,#2f0204 192px,#230204 200px,#170204 208px,#0f0204 216px,#0d0204 224px,#100204 232px,#160204 240px,#1a0204 248px,#1b0204 256px,#1b0204 264px,#1a0204 272px,#190204 280px,#180204 288px,#160204 296px,#150204 304px,#130204 312px,#110204 320px,#0f0204 328px,#0d0204 336px,#0d0204 555.4px)"></i><i style="top:304.5px;height:2.1px;background:linear-gradient(90deg,#650204 0px,#6a0204 8px,#690204 16px,#5b0204 24px,#420204 32px,#2e0204 40px,#370204 48px,#5d0204 56px,#8c0204 64px,#af0204 72px,#c30204 80px,#c50204 88px,#b90204 96px,#a50204 104px,#8a0204 112px,#6c0204 120px,#530204 128px,#480204 136px,#4b0204 144px,#500204 152px,#500204 160px,#4a0204 168px,#430204 176px,#3a0204 184px,#300204 192px,#230204 200px,#170204 208px,#0f0204 216px,#0d0204 224px,#100204 232px,#160204 240px,#1a0204 248px,#1c0204 256px,#1b0204 264px,#1b0204 272px,#1a0204 280px,#180204 288px,#170204 296px,#150204 304px,#130204 312px,#110204 320px,#0f0204 328px,#0e0204 336px,#0d0204 344px,#0d0204 555.4px)"></i><i style="top:306px;height:2.1px;background:linear-gradient(90deg,#650204 0px,#690204 8px,#680204 16px,#580204 24px,#3c0204 32px,#270204 40px,#2f0204 48px,#560204 56px,#870204 64px,#ad0204 72px,#c10204 80px,#c30204 88px,#b70204 96px,#a30204 104px,#870204 112px,#660204 120px,#4c0204 128px,#430204 136px,#470204 144px,#4e0204 152px,#500204 160px,#4b0204 168px,#440204 176px,#3b0204 184px,#310204 192px,#240204 200px,#170204 208px,#0e0204 216px,#0d0204 224px,#100204 232px,#160204 240px,#1a0204 248px,#1c0204 256px,#1c0204 264px,#1b0204 272px,#1a0204 280px,#180204 288px,#170204 296px,#150204 304px,#130204 312px,#110204 320px,#100204 328px,#0e0204 336px,#0d0204 344px,#0d0204 555.4px)"></i><i style="top:307.5px;height:2.1px;background:linear-gradient(90deg,#640204 0px,#680204 8px,#660204 16px,#550204 24px,#370204 32px,#1f0204 40px,#270204 48px,#500204 56px,#830204 64px,#a90204 72px,#bf0204 80px,#c10204 88px,#b50204 96px,#a00204 104px,#830204 112px,#600204 120px,#450204 128px,#3c0204 136px,#430204 144px,#4c0204 152px,#4f0204 160px,#4b0204 168px,#440204 176px,#3c0204 184px,#310204 192px,#240204 200px,#170204 208px,#0e0204 216px,#0d0204 224px,#100204 232px,#160204 240px,#1b0204 248px,#1c0204 256px,#1c0204 264px,#1b0204 272px,#1a0204 280px,#190204 288px,#170204 296px,#150204 304px,#130204 312px,#120204 320px,#100204 328px,#0e0204 336px,#0d0204 344px,#0d0204 555.4px)"></i><i style="top:309px;height:2.1px;background:linear-gradient(90deg,#630204 0px,#670204 8px,#640204 16px,#510204 24px,#320204 32px,#190204 40px,#210204 48px,#4b0204 56px,#7e0204 64px,#a60204 72px,#bc0204 80px,#be0204 88px,#b20204 96px,#9d0204 104px,#7e0204 112px,#5a0204 120px,#3e0204 128px,#360204 136px,#3e0204 144px,#4a0204 152px,#4e0204 160px,#4b0204 168px,#450204 176px,#3c0204 184px,#310204 192px,#240204 200px,#160204 208px,#0d0204 216px,#0d0204 224px,#0f0204 232px,#160204 240px,#1b0204 248px,#1c0204 256px,#1c0204 264px,#1b0204 272px,#1a0204 280px,#190204 288px,#170204 296px,#150204 304px,#130204 312px,#120204 320px,#100204 328px,#0e0204 336px,#0d0204 344px,#0d0204 555.4px)"></i><i style="top:310.5px;height:2.1px;background:linear-gradient(90deg,#620204 0px,#650204 8px,#620204 16px,#4e0204 24px,#2d0204 32px,#130204 40px,#1b0204 48px,#450204 56px,#7a0204 64px,#a20204 72px,#b90204 80px,#bb0204 88px,#ae0204 96px,#990204 104px,#790204 112px,#540204 120px,#370204 128px,#2f0204 136px,#3a0204 144px,#470204 152px,#4d0204 160px,#4b0204 168px,#450204 176px,#3c0204 184px,#310204 192px,#230204 200px,#160204 208px,#0d0204 216px,#0d0204 224px,#0f0204 232px,#160204 240px,#1b0204 248px,#1c0204 256px,#1c0204 264px,#1b0204 272px,#1a0204 280px,#180204 288px,#170204 296px,#150204 304px,#130204 312px,#120204 320px,#100204 328px,#0e0204 336px,#0d0204 344px,#0d0204 555.4px)"></i><i style="top:312px;height:2.1px;background:linear-gradient(90deg,#610204 0px,#630204 8px,#5f0204 16px,#4b0204 24px,#2a0204 32px,#0f0204 40px,#160204 48px,#400204 56px,#760204 64px,#9e0204 72px,#b50204 80px,#b70204 88px,#aa0204 96px,#950204 104px,#740204 112px,#4d0204 120px,#2f0204 128px,#280204 136px,#350204 144px,#440204 152px,#4c0204 160px,#4a0204 168px,#440204 176px,#3c0204 184px,#310204 192px,#230204 200px,#150204 208px,#0d0204 216px,#0d0204 224px,#0e0204 232px,#150204 240px,#1a0204 248px,#1c0204 256px,#1c0204 264px,#1b0204 272px,#1a0204 280px,#180204 288px,#170204 296px,#150204 304px,#130204 312px,#120204 320px,#100204 328px,#0e0204 336px,#0d0204 344px,#0d0204 555.4px)"></i><i style="top:313.5px;height:2.1px;background:linear-gradient(90deg,#5f0204 0px,#610204 8px,#5d0204 16px,#480204 24px,#260204 32px,#0d0204 40px,#120204 48px,#3c0204 56px,#710204 64px,#9a0204 72px,#b00204 80px,#b30204 88px,#a60204 96px,#900204 104px,#6f0204 112px,#470204 120px,#280204 128px,#220204 136px,#300204 144px,#410204 152px,#4a0204 160px,#490204 168px,#430204 176px,#3b0204 184px,#300204 192px,#220204 200px,#140204 208px,#0d0204 216px,#0d0204 224px,#0e0204 232px,#150204 240px,#1a0204 248px,#1c0204 256px,#1b0204 264px,#1b0204 272px,#190204 280px,#180204 288px,#160204 296px,#150204 304px,#130204 312px,#110204 320px,#100204 328px,#0e0204 336px,#0d0204 344px,#0d0204 555.4px)"></i><i style="top:315px;height:2.1px;background:linear-gradient(90deg,#5c0204 0px,#5f0204 8px,#5a0204 16px,#450204 24px,#230204 32px,#0d0204 40px,#0f0204 48px,#390204 56px,#6d0204 64px,#950204 72px,#ab0204 80px,#ae0204 88px,#a10204 96px,#8b0204 104px,#690204 112px,#400204 120px,#210204 128px,#1b0204 136px,#2b0204 144px,#3e0204 152px,#480204 160px,#480204 168px,#420204 176px,#3a0204 184px,#2f0204 192px,#220204 200px,#130204 208px,#0d0204 216px,#0d0204 232px,#140204 240px,#190204 248px,#1c0204 256px,#1b0204 264px,#1a0204 272px,#190204 280px,#180204 288px,#160204 296px,#140204 304px,#130204 312px,#110204 320px,#0f0204 328px,#0e0204 336px,#0d0204 344px,#0d0204 555.4px)"></i><i style="top:316.5px;height:2.1px;background:linear-gradient(90deg,#5a0204 0px,#5c0204 8px,#570204 16px,#430204 24px,#210204 32px,#0d0204 40px,#0d0204 48px,#360204 56px,#690204 64px,#900204 72px,#a50204 80px,#a80204 88px,#9c0204 96px,#850204 104px,#630204 112px,#3a0204 120px,#1b0204 128px,#160204 136px,#260204 144px,#3b0204 152px,#460204 160px,#460204 168px,#410204 176px,#390204 184px,#2e0204 192px,#210204 200px,#130204 208px,#0d0204 216px,#0d0204 232px,#140204 240px,#190204 248px,#1b0204 256px,#1a0204 264px,#1a0204 272px,#180204 280px,#170204 288px,#150204 296px,#140204 304px,#120204 312px,#110204 320px,#0f0204 328px,#0e0204 336px,#0d0204 344px,#0d0204 555.4px)"></i><i style="top:318px;height:2.1px;background:linear-gradient(90deg,#570204 0px,#590204 8px,#540204 16px,#400204 24px,#200204 32px,#0d0204 40px,#0d0204 48px,#330204 56px,#650204 64px,#8a0204 72px,#9f0204 80px,#a20204 88px,#960204 96px,#800204 104px,#5e0204 112px,#350204 120px,#160204 128px,#110204 136px,#220204 144px,#370204 152px,#430204 160px,#440204 168px,#3f0204 176px,#380204 184px,#2d0204 192px,#1f0204 200px,#120204 208px,#0d0204 216px,#0d0204 232px,#130204 240px,#180204 248px,#1a0204 256px,#1a0204 264px,#190204 272px,#180204 280px,#160204 288px,#150204 296px,#130204 304px,#120204 312px,#100204 320px,#0f0204 328px,#0d0204 336px,#0d0204 555.4px)"></i><i style="top:319.5px;height:2.1px;background:linear-gradient(90deg,#530204 0px,#550204 8px,#500204 16px,#3d0204 24px,#1f0204 32px,#0d0204 40px,#0d0204 48px,#310204 56px,#610204 64px,#840204 72px,#990204 80px,#9b0204 88px,#8f0204 96px,#7a0204 104px,#580204 112px,#2f0204 120px,#110204 128px,#0d0204 136px,#1e0204 144px,#340204 152px,#400204 160px,#410204 168px,#3d0204 176px,#360204 184px,#2b0204 192px,#1e0204 200px,#110204 208px,#0d0204 216px,#0d0204 232px,#120204 240px,#170204 248px,#190204 256px,#190204 264px,#180204 272px,#170204 280px,#160204 288px,#140204 296px,#130204 304px,#110204 312px,#100204 320px,#0e0204 328px,#0d0204 336px,#0d0204 555.4px)"></i><i style="top:321px;height:2.1px;background:linear-gradient(90deg,#500204 0px,#510204 8px,#4d0204 16px,#3b0204 24px,#1e0204 32px,#0d0204 40px,#0d0204 48px,#300204 56px,#5c0204 64px,#7e0204 72px,#920204 80px,#940204 88px,#880204 96px,#740204 104px,#530204 112px,#2b0204 120px,#0d0204 128px,#0d0204 136px,#1b0204 144px,#310204 152px,#3d0204 160px,#3f0204 168px,#3b0204 176px,#340204 184px,#2a0204 192px,#1d0204 200px,#100204 208px,#0d0204 216px,#0d0204 232px,#110204 240px,#160204 248px,#180204 256px,#180204 264px,#170204 272px,#160204 280px,#150204 288px,#130204 296px,#120204 304px,#100204 312px,#0f0204 320px,#0e0204 328px,#0d0204 336px,#0d0204 555.4px)"></i><i style="top:322.5px;height:2.1px;background:linear-gradient(90deg,#4c0204 0px,#4d0204 8px,#490204 16px,#390204 24px,#1e0204 32px,#0d0204 40px,#0e0204 48px,#2f0204 56px,#580204 64px,#780204 72px,#8a0204 80px,#8c0204 88px,#810204 96px,#6d0204 104px,#4e0204 112px,#270204 120px,#0d0204 128px,#0d0204 136px,#180204 144px,#2e0204 152px,#3a0204 160px,#3c0204 168px,#380204 176px,#310204 184px,#280204 192px,#1b0204 200px,#0e0204 208px,#0d0204 216px,#0d0204 232px,#100204 240px,#150204 248px,#170204 256px,#170204 264px,#160204 272px,#150204 280px,#140204 288px,#120204 296px,#110204 304px,#100204 312px,#0e0204 320px,#0d0204 328px,#0d0204 555.4px)"></i><i style="top:324px;height:2.1px;background:linear-gradient(90deg,#470204 0px,#490204 8px,#450204 16px,#360204 24px,#1e0204 32px,#0d0204 40px,#100204 48px,#2e0204 56px,#540204 64px,#720204 72px,#820204 80px,#840204 88px,#7a0204 96px,#670204 104px,#490204 112px,#240204 120px,#0d0204 128px,#0d0204 136px,#160204 144px,#2b0204 152px,#370204 160px,#390204 168px,#350204 176px,#2f0204 184px,#250204 192px,#190204 200px,#0d0204 208px,#0d0204 232px,#0f0204 240px,#140204 248px,#160204 256px,#160204 264px,#150204 272px,#140204 280px,#130204 288px,#110204 296px,#100204 304px,#0f0204 312px,#0e0204 320px,#0d0204 328px,#0d0204 555.4px)"></i><i style="top:325.5px;height:2.1px;background:linear-gradient(90deg,#430204 0px,#450204 8px,#420204 16px,#340204 24px,#1e0204 32px,#0d0204 40px,#120204 48px,#2d0204 56px,#500204 64px,#6b0204 72px,#7a0204 80px,#7c0204 88px,#720204 96px,#600204 104px,#440204 112px,#210204 120px,#0d0204 128px,#0d0204 136px,#140204 144px,#280204 152px,#340204 160px,#350204 168px,#320204 176px,#2c0204 184px,#230204 192px,#180204 200px,#0d0204 208px,#0d0204 232px,#0e0204 240px,#130204 248px,#150204 256px,#140204 264px,#140204 272px,#130204 280px,#120204 288px,#100204 296px,#0f0204 304px,#0e0204 312px,#0d0204 320px,#0d0204 555.4px)"></i><i style="top:327px;height:2.1px;background:linear-gradient(90deg,#3f0204 0px,#400204 8px,#3e0204 16px,#320204 24px,#1e0204 32px,#0f0204 40px,#140204 48px,#2d0204 56px,#4c0204 64px,#640204 72px,#720204 80px,#740204 88px,#6a0204 96px,#5a0204 104px,#400204 112px,#1f0204 120px,#0d0204 128px,#0d0204 136px,#130204 144px,#260204 152px,#300204 160px,#320204 168px,#2f0204 176px,#290204 184px,#210204 192px,#160204 200px,#0d0204 208px,#0d0204 240px,#120204 248px,#130204 256px,#130204 264px,#120204 272px,#120204 280px,#110204 288px,#0f0204 296px,#0e0204 304px,#0d0204 312px,#0d0204 555.4px)"></i><i style="top:328.5px;height:2.1px;background:linear-gradient(90deg,#3a0204 0px,#3c0204 8px,#3a0204 16px,#2f0204 24px,#1e0204 32px,#110204 40px,#160204 48px,#2c0204 56px,#480204 64px,#5e0204 72px,#6a0204 80px,#6b0204 88px,#630204 96px,#530204 104px,#3b0204 112px,#1d0204 120px,#0d0204 128px,#0d0204 136px,#120204 144px,#230204 152px,#2d0204 160px,#2e0204 168px,#2c0204 176px,#260204 184px,#1f0204 192px,#140204 200px,#0d0204 208px,#0d0204 240px,#100204 248px,#120204 256px,#120204 264px,#110204 272px,#100204 280px,#0f0204 288px,#0e0204 296px,#0d0204 304px,#0d0204 555.4px)"></i><i style="top:330px;height:2.1px;background:linear-gradient(90deg,#360204 0px,#370204 8px,#360204 16px,#2d0204 24px,#1e0204 32px,#130204 40px,#170204 48px,#2b0204 56px,#440204 64px,#570204 72px,#620204 80px,#630204 88px,#5b0204 96px,#4d0204 104px,#370204 112px,#1c0204 120px,#0d0204 128px,#0d0204 136px,#120204 144px,#210204 152px,#2a0204 160px,#2b0204 168px,#280204 176px,#230204 184px,#1c0204 192px,#130204 200px,#0d0204 208px,#0d0204 240px,#0f0204 248px,#110204 256px,#100204 264px,#100204 272px,#0f0204 280px,#0e0204 288px,#0d0204 296px,#0d0204 555.4px)"></i><i style="top:331.5px;height:2.1px;background:linear-gradient(90deg,#310204 0px,#330204 8px,#320204 16px,#2a0204 24px,#1e0204 32px,#150204 40px,#190204 48px,#2a0204 56px,#3f0204 64px,#500204 72px,#5a0204 80px,#5b0204 88px,#540204 96px,#470204 104px,#330204 112px,#1b0204 120px,#0d0204 128px,#0d0204 136px,#110204 144px,#1f0204 152px,#260204 160px,#280204 168px,#250204 176px,#210204 184px,#1a0204 192px,#110204 200px,#0d0204 208px,#0d0204 240px,#0e0204 248px,#0f0204 256px,#0f0204 272px,#0e0204 280px,#0d0204 288px,#0d0204 555.4px)"></i><i style="top:333px;height:2.1px;background:linear-gradient(90deg,#2d0204 0px,#2e0204 8px,#2e0204 16px,#280204 24px,#1e0204 32px,#160204 40px,#1a0204 48px,#290204 56px,#3b0204 64px,#4a0204 72px,#520204 80px,#530204 88px,#4c0204 96px,#410204 104px,#2f0204 112px,#1a0204 120px,#0d0204 128px,#0d0204 136px,#110204 144px,#1d0204 152px,#230204 160px,#240204 168px,#220204 176px,#1e0204 184px,#180204 192px,#100204 200px,#0d0204 208px,#0d0204 248px,#0e0204 256px,#0e0204 264px,#0d0204 272px,#0d0204 555.4px)"></i><i style="top:334.5px;height:2.1px;background:linear-gradient(90deg,#290204 0px,#2a0204 8px,#2a0204 16px,#250204 24px,#1d0204 32px,#170204 40px,#1a0204 48px,#270204 56px,#370204 64px,#430204 72px,#4b0204 80px,#4b0204 88px,#450204 96px,#3b0204 104px,#2c0204 112px,#190204 120px,#0d0204 128px,#0d0204 136px,#110204 144px,#1b0204 152px,#200204 160px,#210204 168px,#1f0204 176px,#1b0204 184px,#150204 192px,#0e0204 200px,#0d0204 208px,#0d0204 555.4px)"></i><i style="top:336px;height:2.1px;background:linear-gradient(90deg,#250204 0px,#260204 8px,#260204 16px,#220204 24px,#1c0204 32px,#170204 40px,#1a0204 48px,#250204 56px,#320204 64px,#3d0204 72px,#430204 80px,#440204 88px,#3e0204 96px,#360204 104px,#280204 112px,#180204 120px,#0d0204 128px,#0d0204 136px,#100204 144px,#190204 152px,#1d0204 160px,#1e0204 168px,#1c0204 176px,#180204 184px,#130204 192px,#0d0204 200px,#0d0204 555.4px)"></i><i style="top:337.5px;height:2.1px;background:linear-gradient(90deg,#210204 0px,#220204 8px,#220204 16px,#1f0204 24px,#1a0204 32px,#170204 40px,#1a0204 48px,#230204 56px,#2e0204 64px,#370204 72px,#3c0204 80px,#3d0204 88px,#380204 96px,#300204 104px,#250204 112px,#170204 120px,#0d0204 128px,#0d0204 136px,#100204 144px,#170204 152px,#1a0204 160px,#1b0204 168px,#190204 176px,#160204 184px,#110204 192px,#0d0204 200px,#0d0204 555.4px)"></i><i style="top:339px;height:1px;background:linear-gradient(90deg,#1d0204 0px,#1e0204 8px,#1f0204 16px,#1d0204 24px,#190204 32px,#160204 40px,#190204 48px,#210204 56px,#2a0204 64px,#310204 72px,#360204 80px,#360204 88px,#320204 96px,#2b0204 104px,#220204 112px,#160204 120px,#0d0204 128px,#0d0204 136px,#0f0204 144px,#150204 152px,#180204 160px,#180204 168px,#160204 176px,#130204 184px,#0f0204 192px,#0d0204 200px,#0d0204 555.4px)"></i></div>
<div id="c"><i style="left:630.3px;top:537.5px;width:11.4px;height:339.2px;background:linear-gradient(0deg,#000 0%,#f00 37.5%,#ff0 75%,#fff 100%)"></i></div>
<svg width="685" height="935" viewBox="0 0 685 935">
<text x="2.3" y="24.3" font-size="28" text-anchor="start" font-weight="bold">a</text>
<path d="M69.5 401h0M70.7 400.4h0M71.9 399.8h0M73.2 399.3h0M74.4 398.9h0M75.6 398.7h0M76.8 398.5h0M78 398.3h0M79.3 398.2h0M80.5 398.1h0M81.7 398.1h0M82.9 398.2h0M84.1 398.3h0M85.4 398.4h0M86.6 398.5h0M87.8 398.6h0M89 398.6h0M90.2 398.5h0M91.5 398.2h0M92.7 397.7h0M93.9 397.2h0M95.1 396.7h0M96.3 396.2h0M97.6 395.9h0M98.8 395.6h0M100 395.2h0M101.2 394.9h0M102.4 394.6h0M103.7 394.4h0M104.9 394.2h0M106.1 394.1h0M107.3 394.1h0M108.5 394.1h0M109.8 394.2h0M111 394.3h0M112.2 394.4h0M113.4 394.5h0M114.6 394.7h0M115.9 394.8h0M117.1 395h0M118.3 395.3h0M119.5 395.7h0M120.7 396.2h0M122 396.8h0M123.2 397.4h0M124.4 398h0M125.6 398.7h0M126.8 399.4h0M128.1 400.2h0M129.3 401.1h0M130.5 402h0M131.7 403h0M132.9 404h0M134.2 405h0M135.4 405.9h0M136.6 406.7h0M137.8 407.6h0M139 408.4h0M140.3 409.3h0M141.5 410.1h0M142.7 410.8h0M143.9 411.5h0M145.1 412h0M146.4 412.5h0M147.6 413.1h0M148.8 413.6h0M150 414h0M151.2 414.4h0M152.5 414.7h0M153.7 414.9h0M154.9 415h0M156.1 415h0M157.3 415h0M158.6 414.9h0M159.8 414.9h0M161 414.8h0M162.2 414.8h0M163.4 414.7h0M164.7 414.6h0M165.9 414.5h0M167.1 414.2h0M168.3 413.9h0M169.5 413.5h0M170.8 413.1h0M172 412.7h0M173.2 412.2h0M174.4 411.7h0M175.6 411.2h0M176.9 410.7h0M178.1 410.1h0M179.3 409.5h0M180.5 408.8h0M181.7 408.1h0M183 407.4h0M184.2 406.8h0M185.4 406.1h0M186.6 405.4h0M187.8 404.7h0M189.1 404h0M190.3 403.3h0M191.5 402.6h0M192.7 401.9h0M193.9 401.3h0M195.2 400.6h0M196.4 399.9h0M197.6 399.3h0M198.8 398.6h0M200 398h0M201.3 397.5h0M202.5 397h0M203.7 396.5h0M204.9 396h0M206.1 395.5h0M207.4 395h0M208.6 394.5h0M209.8 394h0M211 393.3h0M212.2 392.6h0M213.5 391.7h0M214.7 390.8h0M215.9 389.8h0M217.1 388.7h0M218.3 387.6h0M219.6 386.4h0M220.8 385.2h0M222 384h0M223.2 382.8h0M224.4 381.7h0M225.7 380.5h0M226.9 379.4h0M228.1 378.3h0M229.3 377.1h0M230.5 376h0M231.8 374.8h0M233 373.6h0M234.2 372.3h0M235.4 371h0M236.6 369.6h0M237.9 368.2h0M239.1 366.7h0M240.3 365.2h0M241.5 363.6h0M242.7 361.9h0M244 360.2h0M245.2 358.4h0M246.4 356.6h0M247.6 354.8h0M248.8 353h0M250.1 351.2h0M251.3 349.3h0M252.5 347.4h0M253.7 345.5h0M254.9 343.5h0M256.2 341.4h0M257.4 339.3h0M258.6 337.1h0M259.8 334.9h0M261 332.6h0M262.3 330.3h0M263.5 327.8h0M264.7 325.3h0M265.9 322.7h0M267.1 319.8h0M268.4 316.7h0M269.6 313.4h0M270.8 309.5h0M272 305.3h0M273.2 300.8h0M274.5 296h0M275.7 291h0M276.9 285.8h0M278.1 280.4h0M279.3 274.8h0M280.6 268.8h0M281.8 262.4h0M283 255.6h0M284.2 248.1h0M285.4 239.3h0M286.7 229.8h0M287.9 220.1h0M289.1 210.7h0M290.3 201h0M291.5 191.4h0M292.8 182.6h0M294 175.2h0M295.2 168.5h0M296.4 162.5h0M297.6 157.1h0M298.9 152.3h0M300.1 148h0M301.3 144.5h0M302.5 141.6h0M303.7 139.6h0M305 140.1h0M306.2 142.3h0M307.4 145.8h0M308.6 151.1h0M309.8 156.2h0M311.1 161.3h0M312.3 166.7h0M313.5 172.8h0M314.7 179.9h0M315.9 188.1h0M317.2 196.8h0M318.4 205.8h0M319.6 215.2h0M320.8 224.1h0M322 231.7h0M323.3 238.9h0M324.5 246.1h0M325.7 253.6h0M326.9 262h0M328.1 272.1h0M329.4 282h0M330.6 290.9h0M331.8 299.1h0M333 306.2h0M334.2 313h0M335.5 320.1h0M336.7 327.6h0M337.9 336.3h0M339.1 346.6h0M340.3 356.7h0M341.6 363.2h0M342.8 368.5h0M344 373.4h0M345.2 377.6h0M346.4 381h0M347.7 383.8h0M348.9 386.4h0M350.1 388.6h0M351.3 390.4h0M352.5 391.7h0M353.8 392.5h0M355 393.3h0M356.2 393.9h0M357.4 394.5h0M358.6 395h0M359.9 395.3h0M361.1 395.5h0M362.3 395.5h0M363.5 395.5h0M364.7 395.4h0M366 395.4h0M367.2 395.3h0M368.4 395.2h0M369.6 395.1h0M370.8 395h0M372.1 394.9h0M373.3 394.8h0M374.5 394.6h0M375.7 394.3h0M376.9 394.1h0M378.2 393.8h0M379.4 393.6h0M380.6 393.4h0M381.8 393.4h0M383 393.7h0M384.3 394.3h0M385.5 395h0M386.7 395.8h0M387.9 396.6h0M389.1 397.3h0M390.4 397.9h0M391.6 398.4h0M392.8 398.8h0M394 399.3h0M395.2 399.7h0M396.5 400.1h0M397.7 400.4h0M398.9 400.7h0M400.1 401h0M401.3 401.2h0M402.6 401.4h0M403.8 401.6h0M405 401.8h0M406.2 402h0M407.4 402.2h0M408.7 402.4h0M409.9 402.6h0M411.1 402.9h0M412.3 403.2h0M413.5 403.5h0M414.8 403.8h0M416 404.2h0M417.2 404.4h0M418.4 404.7h0M419.6 404.9h0M420.9 405h0M422.1 405h0M423.3 404.9h0M424.5 404.8h0M425.7 404.6h0M427 404.4h0M428.2 404.1h0M429.4 403.9h0M430.6 403.6h0M431.8 403.3h0M433.1 403.1h0M434.3 402.9h0M435.5 402.8h0M436.7 402.8h0M437.9 402.9h0M439.2 403.1h0M440.4 403.3h0M441.6 403.6h0M442.8 404h0M444 404.4h0M445.3 404.7h0M446.5 405.1h0M447.7 405.4h0M448.9 405.6h0M450.1 405.8h0M451.4 405.8h0M452.6 405.8h0M453.8 405.7h0M455 405.6h0M456.2 405.5h0M457.5 405.3h0M458.7 405.2h0M459.9 405.1h0M461.1 405h0M462.3 405h0M463.6 405h0M464.8 405.2h0M466 405.6h0M467.2 406h0M468.4 406.6h0M469.7 407.1h0M470.9 407.7h0M472.1 408.3h0M473.3 408.8h0M474.5 409.4h0M475.8 410h0M477 410.7h0M478.2 411.3h0M479.4 412h0M480.6 412.6h0M481.9 413.1h0M483.1 413.6h0M484.3 414.1h0M485.5 414.6h0M486.7 415h0M488 415.4h0" stroke="#00f" stroke-width="5.5" stroke-linecap="round" fill="none"/>
<path d="M163.5 408.5h0M164.1 408.7h0M164.7 408h0M165.3 408.3h0M165.9 408.9h0M166.5 408.8h0M167.1 407.6h0M167.7 407.7h0M168.3 407.4h0M168.9 407.9h0M169.5 407.2h0M170.1 407.9h0M170.7 408.1h0M171.3 407.5h0M171.9 408h0M172.5 407.8h0M173.1 406.9h0M173.7 407.7h0M174.3 407.1h0M174.9 407.3h0M175.5 407h0M176.1 407.6h0M176.7 407.1h0M177.3 406.6h0M177.9 407.1h0M178.5 407.4h0M179.1 406.6h0M179.7 406.4h0M180.3 406.5h0M180.9 407.3h0M181.5 407.3h0M182.1 406.7h0M182.7 406.9h0M183.3 406.7h0M183.9 405.9h0M184.5 405.3h0M185.1 406.1h0M185.7 405.8h0M186.3 405.4h0M186.9 405h0M187.5 405.2h0M188.1 405.2h0M188.7 404.7h0M189.3 404.7h0M189.9 404.8h0M190.5 405.3h0M191.1 404.7h0M191.7 404.1h0M192.3 404h0M192.9 404.2h0M193.5 403.6h0M194.1 403.5h0M194.7 403.9h0M195.3 403.1h0M195.9 403.6h0M196.5 403.3h0M197.1 403.7h0M197.7 403.7h0M198.3 403.5h0M198.9 403.3h0M199.5 402.7h0M200.1 403h0M200.7 402.4h0M201.3 402.6h0M201.9 402.1h0M202.5 402.1h0M203.1 401.3h0M203.7 401.5h0M204.3 402.5h0M204.9 401.1h0M205.5 401.7h0M206.1 401.4h0M206.7 401.3h0M207.3 400.7h0M207.9 400.7h0M208.5 399.6h0M209.1 399.3h0M209.7 399.2h0M210.3 398.7h0M210.9 398.2h0M211.5 397.8h0M212.1 398h0M212.7 397h0M213.3 397.7h0M213.9 396.8h0M214.5 396.1h0M215.1 395.9h0M215.7 394.7h0M216.3 395.3h0M216.9 394.7h0M217.5 394.2h0M218.1 393.3h0M218.7 393.5h0M219.3 393h0M219.9 392.4h0M220.5 392.4h0M221.1 391.6h0M221.7 390.7h0M222.3 390.6h0M222.9 389.6h0M223.5 389.2h0M224.1 389.6h0M224.7 389.3h0M225.3 389.1h0M225.9 388.5h0M226.5 387.5h0M227.1 386.3h0M227.7 386.4h0M228.3 386.6h0M228.9 385.9h0M229.5 384.9h0M230.1 384.3h0M230.7 383.3h0M231.3 382.7h0M231.9 381.9h0M232.5 382.7h0M233.1 381.6h0M233.7 380.2h0M234.3 380h0M234.9 378.8h0M235.5 378.4h0M236.1 378.6h0M236.7 377.8h0M237.3 376.8h0M237.9 375.8h0M238.5 375.7h0M239.1 375.5h0M239.7 374h0M240.3 372.7h0M240.9 372h0M241.5 371.3h0M242.1 371.9h0M242.7 370.4h0M243.3 370.1h0M243.9 368.2h0M244.5 367.4h0M245.1 367.2h0M245.7 366.5h0M246.3 364.6h0M246.9 363.1h0M247.5 363.2h0M248.1 361h0M248.7 360.4h0M249.3 357.9h0M249.9 357.3h0M250.5 355.9h0M251.1 354.1h0M251.7 351.8h0M252.3 350.8h0M252.9 348.2h0M253.5 346.8h0M254.1 345.3h0M254.7 344.3h0M255.3 341.4h0M255.9 340.8h0M256.5 338.8h0M257.1 337.3h0M257.7 334.5h0M258.3 332.4h0M258.9 330.6h0M259.5 329.7h0M260.1 328.1h0M260.7 325.9h0M261.3 323.8h0M261.9 321.7h0M262.5 320.7h0M263.1 318.9h0M263.7 315.7h0M264.3 313.9h0M264.9 312.8h0M265.5 310.6h0M266.1 307.5h0M266.7 305.1h0M267.3 302.9h0M267.9 300.5h0M268.5 297.2h0M269.1 295.7h0M269.7 292.4h0M270.3 289.9h0M270.9 285.9h0M271.5 283.9h0M272.1 280.3h0M272.7 276.3h0M273.3 273.7h0M274.5 266.2h0M275.1 260.8h0M275.7 256.6h0M276.3 253.4h0M276.9 248.7h0M277.5 245.2h0M278.1 241h0M278.7 238.8h0M279.9 231.4h0M280.5 226.7h0M281.1 223.9h0M281.7 219.9h0M282.3 217.8h0M282.9 213.4h0M283.5 208.8h0M284.1 204.3h0M284.7 199.7h0M285.3 193.3h0M286.5 182.6h0M287.1 177.2h0M287.7 171.8h0M288.3 166.7h0M288.9 161.4h0M289.5 157.1h0M290.1 151.9h0M290.7 147.8h0M291.3 144.3h0M291.9 138.9h0M292.5 134.7h0M293.1 130.5h0M293.7 126.7h0M294.3 122h0M294.9 118.2h0M295.5 115h0M296.1 111.2h0M296.7 109.6h0M297.3 107.7h0M297.9 106h0M298.5 106.2h0M299.1 105.9h0M299.7 105.7h0M300.3 106.7h0M300.9 107.3h0M301.5 108.9h0M302.1 109.8h0M302.7 111.9h0M303.3 115h0M303.9 117h0M304.5 120.6h0M305.1 125.1h0M305.7 127.7h0M306.3 131.2h0M306.9 136h0M307.5 139.8h0M308.1 144h0M308.7 147.4h0M309.3 152.3h0M309.9 156.1h0M310.5 161.1h0M311.1 166.5h0M311.7 170.4h0M312.3 175.8h0M312.9 182.1h0M314.1 192.3h0M314.7 198.4h0M315.3 204h0M315.9 209.7h0M316.5 216.4h0M317.1 221.4h0M317.7 228.4h0M318.3 233.1h0M318.9 240.4h0M320.1 251.2h0M320.7 257h0M321.3 261.9h0M321.9 267.7h0M322.5 272.3h0M323.1 278.6h0M323.7 284.6h0M324.3 289.3h0M324.9 292h0M325.5 295.3h0M326.1 299.4h0M326.7 301.2h0M327.9 307.2h0M328.5 309.5h0M329.1 312.7h0M329.7 314.9h0M330.3 317.6h0M330.9 320.1h0M331.5 322.7h0M332.1 326.7h0M332.7 329.8h0M333.3 333.7h0M333.9 337.2h0M334.5 338.7h0M335.1 341.7h0M335.7 343.4h0M336.3 344.4h0M336.9 345.9h0M337.5 346.4h0M338.1 348.5h0M338.7 348.4h0M339.3 349.8h0M339.9 349.8h0M340.5 350.4h0M341.1 351.9h0M341.7 352.3h0M342.3 353.1h0M342.9 353.8h0M343.5 354.6h0M344.1 353.7h0M344.7 355h0M345.3 355.5h0M345.9 356.1h0M346.5 356.4h0M347.1 356.8h0M347.7 357.7h0M348.3 357.5h0M348.9 358h0M349.5 358.6h0M350.1 358.1h0M350.7 359.1h0M351.3 359h0M351.9 359.6h0M352.5 359.9h0M353.1 360.9h0M353.7 361.6h0M354.3 362.9h0M354.9 363.8h0M355.5 365.2h0M356.1 365.6h0M356.7 367.2h0M357.3 367.4h0M357.9 369h0M358.5 369.7h0M359.1 370.7h0M359.7 371h0M360.3 372.9h0M360.9 373.4h0M361.5 373.1h0M362.1 374.4h0M362.7 375.8h0M363.3 374.9h0M363.9 376h0M364.5 377.4h0M365.1 377h0M365.7 378.9h0M366.3 379.5h0M366.9 380.7h0M367.5 381.4h0M368.1 383.2h0M368.7 383.5h0M369.3 385.1h0M369.9 385.6h0M370.5 387.8h0M371.1 389h0M371.7 391.3h0M372.3 392.9h0M372.9 393.3h0M373.5 394.8h0M374.1 396.6h0M374.7 398.3h0M375.3 400.6h0M375.9 401.7h0M376.5 403h0M377.1 404.3h0M377.7 404.9h0M378.3 406.7h0M378.9 408.7h0M379.5 409h0M380.1 409h0M380.7 408.6h0M381.3 410h0M381.9 409.4h0M382.5 409.8h0M383.1 409.3h0M383.7 409.6h0M384.3 409.7h0M384.9 409.9h0M385.5 409.4h0M386.1 410.5h0M386.7 409.9h0M387.3 410.7h0M387.9 410.9h0M388.5 411.1h0M389.1 410.6h0M389.7 410.8h0M390.3 411.7h0M390.9 411.2h0M391.5 411h0M392.1 412.4h0M392.7 411.1h0M393.3 412.6h0M393.9 411.8h0M394.5 412h0M395.1 413.1h0M395.7 412.3h0M396.3 412.8h0M396.9 412.4h0M397.5 413.2h0M398.1 412.9h0M398.7 412.6h0M399.3 412h0M399.9 412.5h0M400.5 412.7h0M401.1 412.4h0M401.7 412.9h0M402.3 412.4h0M402.9 412.9h0M403.5 413h0M404.1 413.2h0M404.7 413.4h0M405.3 413.4h0M405.9 412.9h0M406.5 413h0M407.1 413.7h0M407.7 412.9h0M408.3 413.5h0M408.9 413.9h0M409.5 413.9h0M410.1 413.3h0M410.7 412.9h0M411.3 413.4h0M411.9 413.5h0M412.5 413.3h0M413.1 413h0M413.7 413.2h0M414.3 412.6h0M414.9 413h0M415.5 412.8h0M416.1 413.6h0M416.7 414.1h0M417.3 412.8h0M417.9 412.7h0M418.5 413.8h0M419.1 413.2h0M419.7 413.5h0M420.3 412.8h0M420.9 413h0M421.5 413.9h0M422.1 413.8h0M422.7 414.2h0M423.3 414.5h0M423.9 413.6h0M424.5 414h0M425.1 413.8h0M425.7 414h0M426.3 413.8h0M426.9 414.8h0M427.5 414.3h0M428.1 413.5h0M428.7 414.4h0M429.3 414.8h0M429.9 414.7h0M430.5 414.2h0M431.1 413.3h0M431.7 414.6h0M432.3 414.8h0M432.9 414.4h0M433.5 413.9h0M434.1 413.8h0M434.7 414.4h0M435.3 413.3h0M435.9 414.4h0M436.5 413.9h0M437.1 413.2h0M437.7 414.3h0M438.3 413.6h0M438.9 413.1h0M439.5 413.1h0M440.1 414.1h0M440.7 413h0M441.3 413.9h0" stroke="#f00" stroke-width="6" stroke-linecap="round" fill="none"/>
<rect x="69.9" y="25.2" width="556.5" height="392.8" fill="none" stroke="#111" stroke-width="1.5"/>
<line x1="69.9" y1="144" x2="75.4" y2="144" stroke="#111" stroke-width="1.2"/>
<text x="61.9" y="150.6" font-size="19.5" text-anchor="end">2.5</text>
<line x1="69.9" y1="252.5" x2="75.4" y2="252.5" stroke="#111" stroke-width="1.2"/>
<text x="61.9" y="259" font-size="19.5" text-anchor="end">1.5</text>
<line x1="69.9" y1="361" x2="75.4" y2="361" stroke="#111" stroke-width="1.2"/>
<text x="61.9" y="367.6" font-size="19.5" text-anchor="end">0.5</text>
<text x="68.6" y="419.8" font-size="19.5" text-anchor="end">0</text>
<line x1="116.8" y1="418" x2="116.8" y2="423" stroke="#111" stroke-width="1.2"/>
<text x="117.1" y="446.5" font-size="19.5" text-anchor="middle">14</text>
<line x1="163.1" y1="418" x2="163.1" y2="423" stroke="#111" stroke-width="1.2"/>
<text x="163.4" y="446.5" font-size="19.5" text-anchor="middle">16</text>
<line x1="209.4" y1="418" x2="209.4" y2="423" stroke="#111" stroke-width="1.2"/>
<text x="209.7" y="446.5" font-size="19.5" text-anchor="middle">18</text>
<line x1="255.6" y1="418" x2="255.6" y2="423" stroke="#111" stroke-width="1.2"/>
<text x="255.9" y="446.5" font-size="19.5" text-anchor="middle">20</text>
<line x1="301.9" y1="418" x2="301.9" y2="423" stroke="#111" stroke-width="1.2"/>
<text x="302.2" y="446.5" font-size="19.5" text-anchor="middle">22</text>
<line x1="348.1" y1="418" x2="348.1" y2="423" stroke="#111" stroke-width="1.2"/>
<text x="348.4" y="446.5" font-size="19.5" text-anchor="middle">24</text>
<line x1="394.4" y1="418" x2="394.4" y2="423" stroke="#111" stroke-width="1.2"/>
<text x="394.7" y="446.5" font-size="19.5" text-anchor="middle">26</text>
<line x1="440.7" y1="418" x2="440.7" y2="423" stroke="#111" stroke-width="1.2"/>
<text x="441" y="446.5" font-size="19.5" text-anchor="middle">28</text>
<line x1="486.9" y1="418" x2="486.9" y2="423" stroke="#111" stroke-width="1.2"/>
<text x="487.2" y="446.5" font-size="19.5" text-anchor="middle">30</text>
<text x="348.3" y="478.2" font-size="20" text-anchor="middle">Frequency (THz)</text>
<text x="20.9" y="222.5" font-size="19.6" text-anchor="middle" transform="rotate(-90 20.9 222.5)">Spectrum (a.u.)</text>
<path d="M97 49.6h0" stroke="#00f" stroke-width="8.6" stroke-linecap="round" fill="none"/>
<path d="M97 78.2h0" stroke="#f00" stroke-width="8.6" stroke-linecap="round" fill="none"/>
<text x="110.3" y="55.3" font-size="16.8" text-anchor="start">Time domain</text>
<text x="110" y="84.6" font-size="16.8" text-anchor="start">Spontaneous Raman</text>
<rect x="467.2" y="26.8" width="155.2" height="225.7" fill="#fff" stroke="#111" stroke-width="1.4"/>
<polyline points="564.3,27 564.4,43.6 564.7,59 565.4,72.5 565.8,84.7 566.3,95.3 566.6,105.2 567,113.3 567.4,120.6 567.9,127.3 568.3,132.8 568.8,138" fill="none" stroke="#444" stroke-width="0.8"/>
<clipPath id="ci"><rect x="467" y="26.5" width="156" height="226"/></clipPath>
<path d="M467.6 187.9h0M468 185.6h0M468.5 183.5h0M468.9 181.5h0M469.4 179.5h0M469.8 177.7h0M470.2 175.9h0M470.7 173.9h0M471.1 172.1h0M471.6 170.7h0M472 170h0M472.4 169.7h0M472.9 169.5h0M473.3 169.3h0M473.8 169.2h0M474.2 169.1h0M474.6 169h0M475.1 169h0M475.5 168.9h0M476 168.9h0M476.4 168.9h0M476.8 168.9h0M477.3 168.8h0M477.7 168.2h0M478.2 166.7h0M478.6 164.8h0M479 162.7h0M479.5 160.9h0M479.9 159.5h0M480.4 158.2h0M480.8 157h0M481.2 156.1h0M481.7 155.5h0M482.1 154.9h0M482.6 154.5h0M483 154.3h0M483.4 154.4h0M483.9 154.6h0M484.3 155h0M484.8 155.5h0M485.2 156.1h0M485.6 156.7h0M486.1 157.4h0M486.5 158.3h0M487 159.3h0M487.4 160.4h0M487.8 161.6h0M488.3 162.8h0M488.7 164.2h0M489.2 165.7h0M489.6 167.3h0M490 169h0M490.5 170.8h0M490.9 172.8h0M491.4 174.9h0M491.8 177.1h0M492.2 179.5h0M492.7 182.4h0M493.1 185.7h0M493.6 189.3h0M494 192.9h0M494.4 196.4h0M494.9 199.5h0M495.3 202.3h0M495.8 205.3h0M496.2 208.2h0M496.6 210.9h0M497.1 213.5h0M497.5 215.8h0M498 217.6h0M498.4 219h0M498.8 220.1h0M499.3 221.1h0M499.7 222h0M500.2 222.8h0M500.6 223.4h0M501 223.8h0M501.5 223.9h0M501.9 223.7h0M502.4 223.3h0M502.8 222.6h0M503.2 221.8h0M503.7 220.8h0M504.1 219.6h0M504.6 218.4h0M505 217.2h0M505.4 215.9h0M505.9 214.1h0M506.3 211.9h0M506.8 209.4h0M507.2 206.7h0M507.6 203.8h0M508.1 201h0M508.5 198.4h0M509 195.9h0M509.4 193.4h0M509.8 190.9h0M510.3 188.3h0M510.7 185.8h0M511.2 183.4h0M511.6 181.3h0M512 179.6h0M512.5 178.2h0M512.9 177h0M513.4 176.1h0M513.8 175.2h0M514.2 174.4h0M514.7 173.6h0M515.1 172.8h0M515.6 171.8h0M516 170.7h0M516.4 169.6h0M516.9 168.4h0M517.3 167.1h0M517.8 165.7h0M518.2 163.9h0M518.6 161.8h0M519.1 158.1h0M519.5 153.1h0M520 148.3h0M520.4 144.6h0M520.8 141.4h0M521.3 138.4h0M521.7 135.2h0M522.2 131.6h0M522.6 127.6h0M523 123.4h0M523.5 119h0M523.9 114.3h0M524.4 109.6h0M524.8 104.7h0M525.2 99.8h0M525.7 94.9h0M526.1 90.1h0M526.6 85.3h0M527 80.4h0M527.4 75.5h0M527.9 70.6h0M528.3 65.7h0M528.8 60.7h0M529.2 55.6h0M529.6 50.5h0M530.1 45.4h0M530.5 40.2h0M531 34.9h0M531.4 29.6h0M531.8 24h0M564.4 43.6h0M564.7 59h0M565.4 72.5h0M565.8 84.7h0M566.3 95.3h0M566.6 105.2h0M567 113.3h0M567.4 120.6h0M567.9 127.3h0M568.3 132.8h0M568.8 138h0M569.2 142.8h0M569.6 146.5h0M569.9 149.5h0M570.3 151.7h0M570.6 153.7h0M571 155.5h0M571.4 157h0M571.7 158.3h0M572.1 159.8h0M572.4 161h0M572.8 161.8h0M573.2 161.9h0M573.5 161.6h0M573.9 161.1h0M574.2 160.5h0M574.6 159.9h0M575 159.3h0M575.3 158.9h0M575.7 158.4h0M576 157.9h0M576.4 157.5h0M576.8 157.1h0M577.1 156.8h0M577.5 156.7h0M577.8 157h0M578.2 157.9h0M578.6 159h0M578.9 160.2h0M579.3 161.5h0M579.6 163h0M580 164.6h0M580.4 166.2h0M580.7 167.8h0M581.1 169.6h0M581.4 171.4h0M581.8 173.3h0M582.2 175h0M582.5 176.6h0M582.9 177.9h0M583.2 178.8h0M583.6 179.4h0M584 179.8h0M584.3 180.2h0M584.7 180.5h0M585 180.8h0M585.4 181h0M585.8 181.2h0M586.1 181.5h0M586.5 181.7h0M586.8 181.9h0M587.2 182.2h0M587.6 182.5h0M587.9 182.9h0M588.3 183.4h0M588.6 184.1h0M589 184.9h0M589.4 185.7h0M589.7 186.6h0M590.1 187.5h0M590.4 188.3h0M590.8 189.2h0M591.2 189.9h0M591.5 190.4h0M591.9 190.9h0M592.2 191.1h0M592.6 191.1h0M593 190.8h0M593.3 190.5h0M593.7 190h0M594 189.5h0M594.4 188.9h0M594.8 188.5h0M595.1 188.1h0M595.5 187.7h0M595.8 187.3h0M596.2 186.9h0M596.6 186.5h0M596.9 186.2h0M597.3 186h0M597.6 185.9h0M598 186h0M598.4 186.4h0M598.7 187h0M599.1 187.7h0M599.4 188.5h0M599.8 189.2h0M600.2 189.9h0M600.5 190.5h0M600.9 191.1h0M601.2 191.6h0M601.6 192.2h0M602 192.7h0M602.3 193.1h0M602.7 193.4h0M603 193.4h0M603.4 193.4h0M603.8 193.3h0M604.1 193.2h0M604.5 193.1h0M604.8 193h0M605.2 192.9h0M605.6 192.8h0M605.9 192.7h0M606.3 192.6h0M606.6 192.6h0M607 192.8h0M607.4 193.4h0M607.7 194.2h0M608.1 195.3h0M608.4 196.5h0M608.8 197.8h0M609.2 199.2h0M609.5 200.5h0M609.9 201.9h0M610.2 203.7h0M610.6 205.8h0M611 208h0M611.3 210.3h0M611.7 212.5h0M612 214.6h0M612.4 216.4h0M612.8 217.9h0M613.1 219.4h0M613.5 220.7h0M613.8 222.1h0M614.2 223.3h0M614.6 224.5h0M614.9 225.7h0M615.3 226.7h0M615.6 227.6h0M616 228.5h0M616.4 229.2h0M616.7 229.9h0M617.1 230.5h0M617.4 231.1h0M617.8 231.6h0M618.2 232.1h0M618.5 232.6h0M618.9 233h0M619.2 233.3h0M619.6 233.6h0M620 233.8h0M620.3 234h0M620.7 234.2h0M621 234.4h0M621.4 234.5h0" stroke="#00f" stroke-width="4.9" stroke-linecap="round" fill="none" clip-path="url(#ci)"/>
<text x="461.9" y="255.9" font-size="10" text-anchor="end">0</text>
<line x1="467.2" y1="217.1" x2="470" y2="217.1" stroke="#111" stroke-width="1.1"/>
<text x="461.9" y="220.7" font-size="10" text-anchor="end">1</text>
<line x1="467.2" y1="181.8" x2="470" y2="181.8" stroke="#111" stroke-width="1.1"/>
<text x="461.9" y="185.4" font-size="10" text-anchor="end">2</text>
<line x1="467.2" y1="146.6" x2="470" y2="146.6" stroke="#111" stroke-width="1.1"/>
<text x="461.9" y="150.2" font-size="10" text-anchor="end">3</text>
<line x1="467.2" y1="111.3" x2="470" y2="111.3" stroke="#111" stroke-width="1.1"/>
<text x="461.9" y="114.9" font-size="10" text-anchor="end">4</text>
<line x1="467.2" y1="76.1" x2="470" y2="76.1" stroke="#111" stroke-width="1.1"/>
<text x="461.9" y="79.7" font-size="10" text-anchor="end">5</text>
<line x1="467.2" y1="40.8" x2="470" y2="40.8" stroke="#111" stroke-width="1.1"/>
<text x="461.9" y="44.4" font-size="10" text-anchor="end">6</text>
<line x1="494.1" y1="252.5" x2="494.1" y2="249.7" stroke="#111" stroke-width="1.1"/>
<text x="494.1" y="267.5" font-size="10" text-anchor="middle">15</text>
<line x1="534.5" y1="252.5" x2="534.5" y2="249.7" stroke="#111" stroke-width="1.1"/>
<text x="534.5" y="267.5" font-size="10" text-anchor="middle">20</text>
<line x1="574.9" y1="252.5" x2="574.9" y2="249.7" stroke="#111" stroke-width="1.1"/>
<text x="574.9" y="267.5" font-size="10" text-anchor="middle">25</text>
<line x1="615.3" y1="252.5" x2="615.3" y2="249.7" stroke="#111" stroke-width="1.1"/>
<text x="615.3" y="267.5" font-size="10" text-anchor="middle">30</text>
<text x="545.1" y="286.5" font-size="14.2" text-anchor="middle">Frequency (THz)</text>
<text x="441.6" y="140.5" font-size="14" text-anchor="middle" transform="rotate(-90 441.6 140.5)">Spectrum (a.u.)</text>
<line x1="483.9" y1="49.9" x2="483.9" y2="134" stroke="#000" stroke-width="1.9"/>
<path d="M477.2 129.8 L483.9 145.5 L490.5 129.8 L483.9 133.3 Z" fill="#000"/>
<line x1="602.1" y1="50.4" x2="602.1" y2="134" stroke="#000" stroke-width="1.9"/>
<path d="M595.4 129.8 L602.1 145.5 L608.7 129.8 L602.1 133.3 Z" fill="#000"/>
<text x="1.1" y="536.4" font-size="28" text-anchor="start" font-weight="bold">b</text>
<path d="M72.2 751.9h0M78.6 752.8h0M85.4 753.7h0M91.8 754.6h0M98.5 755.7h0M104.9 756.9h0M111.6 758.6h0M118.1 760.4h0M124.5 762.2h0M131.2 763.9h0M137.6 765.7h0M144.3 767.4h0M150.8 768.9h0M157.5 769.7h0M163.9 770.3h0M170.6 770.3h0M177 770h0M183.5 769.7h0M190.2 769.2h0M196.6 768.6h0M203.3 767.7h0M209.7 766.5h0M216.2 765.4h0M222.9 764.2h0M229.3 762.7h0M235.7 761h0M242.4 759.5h0M248.9 757.8h0M255.3 756.3h0M261.1 754.6h0M267.5 753.1h0M274.2 751.9h0M281 751.6h0M287.4 751.6h0M294.1 751.9h0M300.5 753.4h0M307.2 755.1h0M313.6 757.2h0M320.4 759.5h0M326.8 761.3h0M333.5 763h0M339.9 764.2h0M346.4 765.1h0M352.8 765.7h0M359.5 765.7h0M365.9 765.1h0M372.6 764.2h0M379.1 763.3h0M385.8 762.2h0M392.2 760.7h0M398.9 759.2h0M405.3 757.8h0M412 756.3h0M418.5 754.9h0M425.2 753.4h0M431.6 751.9h0M437.3 750.5h0M443.7 749.6h0M450.4 749.6h0M456.9 750.2h0M463.6 751.1h0M470 752.2h0M476.4 753.4h0M483.1 754.9h0M489.6 756.6h0M496.3 758.4h0M502.7 759.8h0M509.4 761h0M515.8 761.9h0M522.6 762.7h0M529 763h0M535.4 763h0M542.1 763h0M548.5 763h0M555.3 762.7h0M561.7 762.4h0M568.4 762.2h0M574.8 761.9h0M581.5 761.6h0M588 761.3h0M594.4 760.7h0M601.1 760.1h0M607.5 759.5h0M614.2 758.6h0M619.8 757.8h0" stroke="#00f" stroke-width="5.4" stroke-linecap="round" fill="none"/>
<rect x="66.1" y="537.3" width="555.4" height="339.4" fill="none" stroke="#000" stroke-width="1"/>
<text x="58.6" y="861.2" font-size="19.5" text-anchor="end">10</text>
<text x="58.6" y="823.1" font-size="19.5" text-anchor="end">15</text>
<text x="58.6" y="785" font-size="19.5" text-anchor="end">20</text>
<text x="58.6" y="746.9" font-size="19.5" text-anchor="end">25</text>
<text x="58.6" y="708.8" font-size="19.5" text-anchor="end">30</text>
<text x="58.6" y="670.7" font-size="19.5" text-anchor="end">35</text>
<text x="58.6" y="632.6" font-size="19.5" text-anchor="end">40</text>
<text x="58.6" y="594.5" font-size="19.5" text-anchor="end">45</text>
<text x="58.6" y="556.4" font-size="19.5" text-anchor="end">50</text>
<text x="77.6" y="899.5" font-size="19.5" text-anchor="middle">100</text>
<text x="141.9" y="899.5" font-size="19.5" text-anchor="middle">150</text>
<text x="206.2" y="899.5" font-size="19.5" text-anchor="middle">200</text>
<text x="270.5" y="899.5" font-size="19.5" text-anchor="middle">250</text>
<text x="334.8" y="899.5" font-size="19.5" text-anchor="middle">300</text>
<text x="399.1" y="899.5" font-size="19.5" text-anchor="middle">350</text>
<text x="463.4" y="899.5" font-size="19.5" text-anchor="middle">400</text>
<text x="527.7" y="899.5" font-size="19.5" text-anchor="middle">450</text>
<text x="592" y="899.5" font-size="19.5" text-anchor="middle">500</text>
<text x="352.8" y="930.2" font-size="19.5" text-anchor="middle">Delay (fs)</text>
<text x="17.2" y="706.2" font-size="19.5" text-anchor="middle" transform="rotate(-90 17.2 706.2)">Frequency (THz)</text>
<rect x="299.9" y="536.5" width="322.3" height="168.2" fill="#fff"/>
<rect x="327.7" y="538.0" width="292.7" height="142" fill="none" stroke="#111" stroke-width="1.3"/>
<line x1="342" y1="609.2" x2="620.4" y2="609.2" stroke="#222" stroke-width="1.1" stroke-dasharray="7.5 4.2"/>
<polyline points="341.3,577.9 344.6,579.7 347.9,582.4 351.1,584.6 354.4,590.4 357.7,594.9 360.9,600.3 364.2,608.3 367.5,615.5 370.8,623.5 374,632.9 377.3,641.3 380.6,648.9 383.8,655.6 387.1,660.1 390.4,662.3 393.6,662.8 396.9,662.3 400.2,660.5 403.4,658.3 406.7,655.2 410,652.1 413.2,648 416.5,642.7 419.8,636.9 423.1,631.5 426.3,622.1 429.6,611.4 432.9,602.1 436.1,590.4 439.4,580.6 442.7,572.6 445.9,566.8 449.2,564.6 452.5,564.6 455.7,566.8 459,573.9 462.3,582 465.6,594 468.8,606.1 472.1,616.8 475.4,626.6 478.6,634.7 481.9,640.5 485.2,640.5 488.4,640.5 491.7,636.9 495,632.9 498.2,626.2 501.5,621.3 504.8,613.7 508.1,606.1 511.3,598 514.6,590.4 517.9,581.1 521.1,573 524.4,566.3 527.7,561.9 530.9,557.4 534.2,555.2 537.5,557 540.7,559.2 544,565 547.3,570.8 550.5,579.7 553.8,588.2 557.1,597.1 560.4,606.1 563.6,611.4 566.9,617.7 570.2,619.5 573.4,620.4 576.7,621.7 580,621.7 583.2,621.7 586.5,621.7 589.8,621.7 593,621.7 596.3,619.9 599.6,617.2 602.9,615.5" fill="none" stroke="#558" stroke-width="0.6"/>
<path d="M341.3 577.9h0M344.6 579.7h0M347.9 582.4h0M351.1 584.6h0M354.4 590.4h0M357.7 594.9h0M360.9 600.3h0M364.2 608.3h0M367.5 615.5h0M370.8 623.5h0M374 632.9h0M377.3 641.3h0M380.6 648.9h0M383.8 655.6h0M387.1 660.1h0M390.4 662.3h0M393.6 662.8h0M396.9 662.3h0M400.2 660.5h0M403.4 658.3h0M406.7 655.2h0M410 652.1h0M413.2 648h0M416.5 642.7h0M419.8 636.9h0M423.1 631.5h0M426.3 622.1h0M429.6 611.4h0M432.9 602.1h0M436.1 590.4h0M439.4 580.6h0M442.7 572.6h0M445.9 566.8h0M449.2 564.6h0M452.5 564.6h0M455.7 566.8h0M459 573.9h0M462.3 582h0M465.6 594h0M468.8 606.1h0M472.1 616.8h0M475.4 626.6h0M478.6 634.7h0M481.9 640.5h0M485.2 640.5h0M488.4 640.5h0M491.7 636.9h0M495 632.9h0M498.2 626.2h0M501.5 621.3h0M504.8 613.7h0M508.1 606.1h0M511.3 598h0M514.6 590.4h0M517.9 581.1h0M521.1 573h0M524.4 566.3h0M527.7 561.9h0M530.9 557.4h0M534.2 555.2h0M537.5 557h0M540.7 559.2h0M544 565h0M547.3 570.8h0M550.5 579.7h0M553.8 588.2h0M557.1 597.1h0M560.4 606.1h0M563.6 611.4h0M566.9 617.7h0M570.2 619.5h0M573.4 620.4h0M576.7 621.7h0M580 621.7h0M583.2 621.7h0M586.5 621.7h0M589.8 621.7h0M593 621.7h0M596.3 619.9h0M599.6 617.2h0M602.9 615.5h0" stroke="#00f" stroke-width="4.7" stroke-linecap="round" fill="none"/>
<line x1="327.7" y1="662.8" x2="330.2" y2="662.8" stroke="#111" stroke-width="1"/>
<text x="324.2" y="666.7" font-size="11" text-anchor="end">&#8722;6</text>
<line x1="327.7" y1="644.9" x2="330.2" y2="644.9" stroke="#111" stroke-width="1"/>
<text x="324.2" y="648.8" font-size="11" text-anchor="end">&#8722;4</text>
<line x1="327.7" y1="627.1" x2="330.2" y2="627.1" stroke="#111" stroke-width="1"/>
<text x="324.2" y="631" font-size="11" text-anchor="end">&#8722;2</text>
<line x1="327.7" y1="609.2" x2="330.2" y2="609.2" stroke="#111" stroke-width="1"/>
<text x="324.2" y="613.1" font-size="11" text-anchor="end">0</text>
<line x1="327.7" y1="591.3" x2="330.2" y2="591.3" stroke="#111" stroke-width="1"/>
<text x="324.2" y="595.2" font-size="11" text-anchor="end">2</text>
<line x1="327.7" y1="573.5" x2="330.2" y2="573.5" stroke="#111" stroke-width="1"/>
<text x="324.2" y="577.4" font-size="11" text-anchor="end">4</text>
<line x1="327.7" y1="555.6" x2="330.2" y2="555.6" stroke="#111" stroke-width="1"/>
<text x="324.2" y="559.5" font-size="11" text-anchor="end">6</text>
<line x1="344.6" y1="680" x2="344.6" y2="677.5" stroke="#111" stroke-width="1"/>
<text x="344.6" y="692" font-size="11" text-anchor="middle">100</text>
<line x1="377.3" y1="680" x2="377.3" y2="677.5" stroke="#111" stroke-width="1"/>
<text x="377.3" y="692" font-size="11" text-anchor="middle">150</text>
<line x1="410" y1="680" x2="410" y2="677.5" stroke="#111" stroke-width="1"/>
<text x="410" y="692" font-size="11" text-anchor="middle">200</text>
<line x1="442.7" y1="680" x2="442.7" y2="677.5" stroke="#111" stroke-width="1"/>
<text x="442.7" y="692" font-size="11" text-anchor="middle">250</text>
<line x1="475.4" y1="680" x2="475.4" y2="677.5" stroke="#111" stroke-width="1"/>
<text x="475.4" y="692" font-size="11" text-anchor="middle">300</text>
<line x1="508.1" y1="680" x2="508.1" y2="677.5" stroke="#111" stroke-width="1"/>
<text x="508.1" y="692" font-size="11" text-anchor="middle">350</text>
<line x1="540.7" y1="680" x2="540.7" y2="677.5" stroke="#111" stroke-width="1"/>
<text x="540.7" y="692" font-size="11" text-anchor="middle">400</text>
<line x1="573.4" y1="680" x2="573.4" y2="677.5" stroke="#111" stroke-width="1"/>
<text x="573.4" y="692" font-size="11" text-anchor="middle">450</text>
<line x1="606.1" y1="680" x2="606.1" y2="677.5" stroke="#111" stroke-width="1"/>
<text x="606.1" y="692" font-size="11" text-anchor="middle">500</text>
<text x="473.8" y="701.8" font-size="11.4" text-anchor="middle">Delay (fs)</text>
<text x="309.6" y="609.5" font-size="11.3" text-anchor="middle" transform="rotate(-90 309.6 609.5)">Relative frequency shift (%)</text>
<rect x="630.3" y="537.5" width="11.4" height="339.2" fill="none" stroke="#555" stroke-width="0.7"/>
<text x="659.2" y="882.4" font-size="18" text-anchor="middle">0</text>
<line x1="630.3" y1="825.9" x2="632.7" y2="825.9" stroke="#333" stroke-width="0.9"/>
<line x1="639.3" y1="825.9" x2="641.7" y2="825.9" stroke="#333" stroke-width="0.9"/>
<text x="659.2" y="832.3" font-size="18" text-anchor="middle">2</text>
<line x1="630.3" y1="775.8" x2="632.7" y2="775.8" stroke="#333" stroke-width="0.9"/>
<line x1="639.3" y1="775.8" x2="641.7" y2="775.8" stroke="#333" stroke-width="0.9"/>
<text x="659.2" y="782.2" font-size="18" text-anchor="middle">4</text>
<line x1="630.3" y1="725.7" x2="632.7" y2="725.7" stroke="#333" stroke-width="0.9"/>
<line x1="639.3" y1="725.7" x2="641.7" y2="725.7" stroke="#333" stroke-width="0.9"/>
<text x="659.2" y="732.1" font-size="18" text-anchor="middle">6</text>
<line x1="630.3" y1="675.6" x2="632.7" y2="675.6" stroke="#333" stroke-width="0.9"/>
<line x1="639.3" y1="675.6" x2="641.7" y2="675.6" stroke="#333" stroke-width="0.9"/>
<text x="659.2" y="682" font-size="18" text-anchor="middle">8</text>
<line x1="630.3" y1="625.5" x2="632.7" y2="625.5" stroke="#333" stroke-width="0.9"/>
<line x1="639.3" y1="625.5" x2="641.7" y2="625.5" stroke="#333" stroke-width="0.9"/>
<text x="659.2" y="631.9" font-size="18" text-anchor="middle">10</text>
<line x1="630.3" y1="575.4" x2="632.7" y2="575.4" stroke="#333" stroke-width="0.9"/>
<line x1="639.3" y1="575.4" x2="641.7" y2="575.4" stroke="#333" stroke-width="0.9"/>
<text x="659.2" y="581.8" font-size="18" text-anchor="middle">12</text>
<path d="M632.3 523.4L640.4 531.5M640.4 523.4L632.3 531.5" stroke="#111" stroke-width="1.25"/>
<text x="648.3" y="532.3" font-size="18" text-anchor="start">10</text>
<text x="668.9" y="521.7" font-size="11.8" text-anchor="start">&#8722;7</text>
</svg></div></body></html>
